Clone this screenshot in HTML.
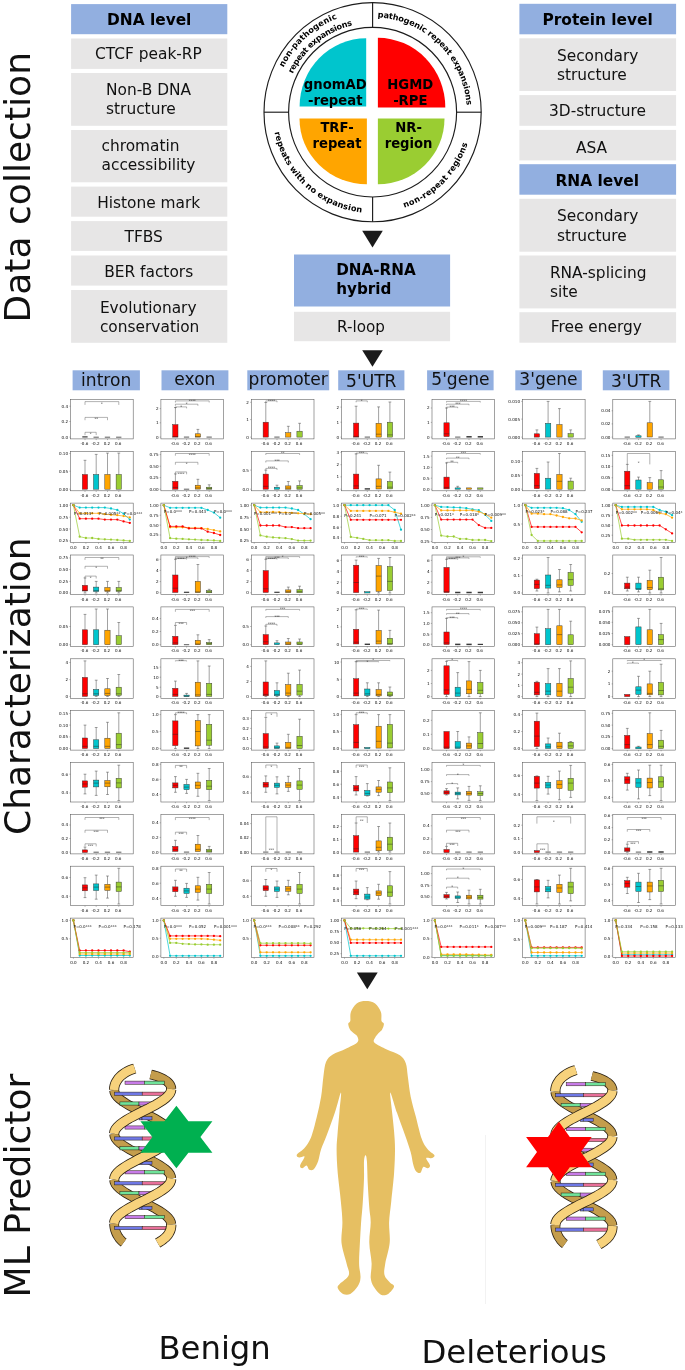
<!DOCTYPE html>
<html lang="en"><head><meta charset="utf-8"><title>Figure</title>
<style>
html,body{margin:0;padding:0;background:#fff;}
svg{display:block;font-family:"DejaVu Sans", "Liberation Sans", sans-serif;}
svg{fill:#111;}
</style></head><body>
<svg width="685" height="1370" viewBox="0 0 685 1370">
<rect width="685" height="1370" fill="#fff"/>
<text transform="translate(30.1,322.5) rotate(-90)" font-size="36.05">Data collection</text>
<text transform="translate(30.1,835.0) rotate(-90)" font-size="36.0">Characterization</text>
<text transform="translate(29.8,1297.5) rotate(-90)" font-size="36.1">ML Predictor</text>
<rect x="71.1" y="4.1" width="156.2" height="30.1" fill="#92afe0"/>
<text x="107.0" y="25.0" font-size="15.4" font-weight="bold" fill="#000" text-anchor="start">DNA level</text>
<rect x="71.1" y="38.5" width="156.2" height="30.4" fill="#e7e6e6"/>
<text x="95.0" y="58.6" font-size="15.4" text-anchor="start">CTCF peak-RP</text>
<rect x="71.1" y="73.0" width="156.2" height="52.8" fill="#e7e6e6"/>
<text x="106.0" y="95.0" font-size="15.4" text-anchor="start">Non-B DNA</text>
<text x="106.0" y="114.0" font-size="15.4" text-anchor="start">structure</text>
<rect x="71.1" y="130.0" width="156.2" height="52.3" fill="#e7e6e6"/>
<text x="101.5" y="150.5" font-size="15.4" text-anchor="start">chromatin</text>
<text x="101.5" y="169.6" font-size="15.4" text-anchor="start">accessibility</text>
<rect x="71.1" y="186.6" width="156.2" height="30.1" fill="#e7e6e6"/>
<text x="97.2" y="208.0" font-size="15.4" text-anchor="start">Histone mark</text>
<rect x="71.1" y="221.1" width="156.2" height="29.8" fill="#e7e6e6"/>
<text x="124.5" y="242.0" font-size="15.4" text-anchor="start">TFBS</text>
<rect x="71.1" y="255.5" width="156.2" height="30.1" fill="#e7e6e6"/>
<text x="104.2" y="276.5" font-size="15.4" text-anchor="start">BER factors</text>
<rect x="71.1" y="290.0" width="156.2" height="52.8" fill="#e7e6e6"/>
<text x="99.9" y="313.0" font-size="15.4" text-anchor="start">Evolutionary</text>
<text x="99.9" y="332.0" font-size="15.4" text-anchor="start">conservation</text>
<rect x="519.4" y="3.8" width="156.7" height="30.5" fill="#92afe0"/>
<text x="542.5" y="25.1" font-size="15.4" font-weight="bold" fill="#000" text-anchor="start">Protein level</text>
<rect x="519.4" y="38.3" width="156.7" height="52.7" fill="#e7e6e6"/>
<text x="556.9" y="60.7" font-size="15.4" text-anchor="start">Secondary</text>
<text x="556.9" y="79.9" font-size="15.4" text-anchor="start">structure</text>
<rect x="519.4" y="95.1" width="156.7" height="30.7" fill="#e7e6e6"/>
<text x="549.0" y="116.1" font-size="15.4" text-anchor="start">3D-structure</text>
<rect x="519.4" y="129.9" width="156.7" height="30.5" fill="#e7e6e6"/>
<text x="576.0" y="153.1" font-size="15.4" text-anchor="start">ASA</text>
<rect x="519.4" y="164.2" width="156.7" height="30.5" fill="#92afe0"/>
<text x="555.5" y="185.8" font-size="15.4" font-weight="bold" fill="#000" text-anchor="start">RNA level</text>
<rect x="519.4" y="198.8" width="156.7" height="52.9" fill="#e7e6e6"/>
<text x="556.9" y="221.3" font-size="15.4" text-anchor="start">Secondary</text>
<text x="556.9" y="240.7" font-size="15.4" text-anchor="start">structure</text>
<rect x="519.4" y="255.5" width="156.7" height="52.9" fill="#e7e6e6"/>
<text x="549.9" y="278.2" font-size="15.4" text-anchor="start">RNA-splicing</text>
<text x="549.9" y="297.3" font-size="15.4" text-anchor="start">site</text>
<rect x="519.4" y="312.2" width="156.7" height="30.5" fill="#e7e6e6"/>
<text x="550.8" y="331.6" font-size="15.4" text-anchor="start">Free energy</text>
<g fill="none" stroke="#1c1c1c" stroke-width="1.15">
<ellipse cx="372.6" cy="112.2" rx="108.6" ry="109.6"/>
<ellipse cx="372.6" cy="112.2" rx="84.0" ry="84.8"/>
<line x1="372.6" y1="2.6000000000000085" x2="372.6" y2="27.400000000000006"/>
<line x1="372.6" y1="221.8" x2="372.6" y2="197.0"/>
<line x1="264.0" y1="112.2" x2="288.6" y2="112.2"/>
<line x1="481.20000000000005" y1="112.2" x2="456.6" y2="112.2"/>
</g>
<path d="M366.2,106.6 L299.6,106.6 A66.6,68.4 0 0 1 366.2,38.2 Z" fill="#00c5cd"/>
<path d="M377.9,107.4 L445.3,107.4 A67.4,69.6 0 0 0 377.9,37.8 Z" fill="#ff0000"/>
<path d="M366.9,118.6 L299.5,118.6 A67.4,65.6 0 0 0 366.9,184.2 Z" fill="#ffa500"/>
<path d="M377.9,118.6 L444.5,118.6 A66.6,65.6 0 0 1 377.9,184.2 Z" fill="#9acd32"/>
<text x="335.2" y="89.3" font-size="13.2" font-weight="bold" fill="#000" text-anchor="middle">gnomAD</text>
<text x="335.2" y="104.8" font-size="13.2" font-weight="bold" fill="#000" text-anchor="middle">-repeat</text>
<text x="410.3" y="88.8" font-size="13.2" font-weight="bold" fill="#000" text-anchor="middle">HGMD</text>
<text x="410.3" y="104.6" font-size="13.2" font-weight="bold" fill="#000" text-anchor="middle">-RPE</text>
<text x="337.0" y="132.2" font-size="13.2" font-weight="bold" fill="#000" text-anchor="middle">TRF-</text>
<text x="337.0" y="147.9" font-size="13.2" font-weight="bold" fill="#000" text-anchor="middle">repeat</text>
<text x="408.6" y="132.2" font-size="13.2" font-weight="bold" fill="#000" text-anchor="middle">NR-</text>
<text x="408.6" y="147.9" font-size="13.2" font-weight="bold" fill="#000" text-anchor="middle">region</text>
<defs>
</defs>
<path id="rt1" d="M377.54,17.28 A94.3,95.1 0 0 1 466.67,105.57" fill="none"/>
<text font-size="8.2" font-weight="bold" fill="#000"><textPath href="#rt1" textLength="136.6" lengthAdjust="spacing">pathogenic repeat expansions</textPath></text>
<path id="rt2" d="M283.48,67.60 A99.5,100.3 0 0 1 337.43,18.38" fill="none"/>
<text font-size="8.2" font-weight="bold" fill="#000"><textPath href="#rt2" textLength="74.5" lengthAdjust="spacing">non-pathogenic</textPath></text>
<path id="rt3" d="M292.72,73.79 A88.5,89.2 0 0 1 352.54,25.31" fill="none"/>
<text font-size="8.2" font-weight="bold" fill="#000"><textPath href="#rt3" textLength="79.4" lengthAdjust="spacing">repeat expansions</textPath></text>
<path id="rt4" d="M274.61,132.30 A100.0,100.8 0 0 0 362.15,212.45" fill="none"/>
<text font-size="8.2" font-weight="bold" fill="#000"><textPath href="#rt4" textLength="126.5" lengthAdjust="spacing">repeats with no expansion</textPath></text>
<path id="rt5" d="M404.33,207.79 A100.0,100.8 0 0 0 467.71,143.35" fill="none"/>
<text font-size="8.2" font-weight="bold" fill="#000"><textPath href="#rt5" textLength="93.4" lengthAdjust="spacing">non-repeat regions</textPath></text>
<path d="M362.2,230.8 L382.8,230.8 L372.5,247.4 Z" fill="#1a1a1a"/>
<path d="M362.2,350.2 L382.8,350.2 L372.5,366.8 Z" fill="#1a1a1a"/>
<path d="M356.9,972.4 L377.7,972.4 L367.3,989.2 Z" fill="#1a1a1a"/>
<rect x="294.0" y="254.5" width="156.1" height="52.0" fill="#92afe0"/>
<text x="336.2" y="275.0" font-size="15.2" font-weight="bold" fill="#000" text-anchor="start">DNA-RNA</text>
<text x="336.2" y="294.2" font-size="15.2" font-weight="bold" fill="#000" text-anchor="start">hybrid</text>
<rect x="294.0" y="311.8" width="156.1" height="29.4" fill="#e7e6e6"/>
<text x="337.0" y="332.2" font-size="15.2" text-anchor="start">R-loop</text>
<rect x="72.6" y="370.3" width="67.3" height="20.0" fill="#92afe0"/>
<text x="106.2" y="386.3" font-size="17.1" text-anchor="middle">intron</text>
<rect x="161.5" y="370.3" width="66.9" height="20.0" fill="#92afe0"/>
<text x="194.9" y="384.6" font-size="17.1" text-anchor="middle">exon</text>
<rect x="247.3" y="370.3" width="81.9" height="20.0" fill="#92afe0"/>
<text x="288.2" y="384.5" font-size="17.1" text-anchor="middle">promoter</text>
<rect x="338.2" y="370.3" width="66.2" height="20.0" fill="#92afe0"/>
<text x="371.3" y="386.6" font-size="17.1" text-anchor="middle">5&#39;UTR</text>
<rect x="427.1" y="370.3" width="66.5" height="20.0" fill="#92afe0"/>
<text x="460.4" y="384.6" font-size="17.1" text-anchor="middle">5&#39;gene</text>
<rect x="515.3" y="370.3" width="66.5" height="20.0" fill="#92afe0"/>
<text x="548.5" y="384.6" font-size="17.1" text-anchor="middle">3&#39;gene</text>
<rect x="602.8" y="370.3" width="66.6" height="20.0" fill="#92afe0"/>
<text x="636.1" y="386.6" font-size="17.1" text-anchor="middle">3&#39;UTR</text>
<g>
<g stroke="#333" stroke-width="0.45"><path d="M82.3,436.9h5.3" stroke="#3a3a3a" stroke-width="1.2"/><path d="M93.5,437.2h5.3" stroke="#4a4a4a" stroke-width="0.9"/><path d="M104.8,437.2h5.3" stroke="#4a4a4a" stroke-width="0.9"/><path d="M116.1,437.2h5.3" stroke="#4a4a4a" stroke-width="0.9"/></g>
<path d="M85,404.9V401.6H118.8V404.9M85,420.2V417.4H107.5V420.2M85,435.1V432.3H96.2V435.1" stroke="#555" stroke-width="0.45" fill="none"/>
<g font-size="3.5" text-anchor="middle" fill="#1a1a1a"><text x="101.9" y="404.5">*</text><text x="96.2" y="420.3">**</text><text x="90.6" y="435.2">*</text></g>
<path d="M69.3,406.2H70.5M69.3,421.5H70.5M69.3,437.1H70.5M85,438.9v1.2M96.2,438.9v1.2M107.5,438.9v1.2M118.8,438.9v1.2" stroke="#555" stroke-width="0.4" fill="none"/>
<g font-size="4.1" text-anchor="middle" fill="#0a0a0a"><text x="68.1" y="407.7" text-anchor="end">0.4</text><text x="68.1" y="423" text-anchor="end">0.2</text><text x="68.1" y="438.5" text-anchor="end">0.0</text><text x="84.4" y="444.9">-0.6</text><text x="95.6" y="444.9">-0.2</text><text x="106.9" y="444.9">0.2</text><text x="118.2" y="444.9">0.6</text></g>
<rect x="70.5" y="399.4" width="62.7" height="39.5" fill="none" stroke="#555" stroke-width="0.55"/>
</g>
<g>
<path d="M85,474.5V460.3M83.6,460.3h2.8M96.2,474.5V454.4M94.8,454.4h2.8M107.5,474.5V453.1M106.1,453.1h2.8M118.8,474.5V453.1M117.4,453.1h2.8" stroke="#444" stroke-width="0.5" fill="none"/>
<g stroke="#333" stroke-width="0.45"><rect x="82.3" y="474.5" width="5.3" height="14.7" fill="#ff0000"/><rect x="93.5" y="474.5" width="5.3" height="14.7" fill="#00c5cd"/><rect x="104.8" y="474.5" width="5.3" height="14.7" fill="#ffa500"/><rect x="116.1" y="474.5" width="5.3" height="14.7" fill="#9acd32"/></g>
<path d="M69.3,453.5H70.5M69.3,471.2H70.5M69.3,489.2H70.5M85,490.8v1.2M96.2,490.8v1.2M107.5,490.8v1.2M118.8,490.8v1.2" stroke="#555" stroke-width="0.4" fill="none"/>
<g font-size="4.1" text-anchor="middle" fill="#0a0a0a"><text x="68.1" y="454.9" text-anchor="end">0.10</text><text x="68.1" y="472.7" text-anchor="end">0.05</text><text x="68.1" y="490.6" text-anchor="end">0.00</text><text x="84.4" y="496.8">-0.6</text><text x="95.6" y="496.8">-0.2</text><text x="106.9" y="496.8">0.2</text><text x="118.2" y="496.8">0.6</text></g>
<rect x="70.5" y="451.3" width="62.7" height="39.5" fill="none" stroke="#555" stroke-width="0.55"/>
</g>
<g>
<g fill="#00c5cd"><polyline points="73.4,505.2 79.7,507.6 85.9,507.6 92.2,507.6 98.5,507.6 104.8,507.6 111,508.5 117.3,510 123.6,513.7 129.8,519.6" fill="none" stroke="#00c5cd" stroke-width="0.7"/>
<circle cx="73.4" cy="505.2" r="1.15"/><circle cx="79.7" cy="507.6" r="1.15"/><circle cx="85.9" cy="507.6" r="1.15"/><circle cx="92.2" cy="507.6" r="1.15"/><circle cx="98.5" cy="507.6" r="1.15"/><circle cx="104.8" cy="507.6" r="1.15"/><circle cx="111" cy="508.5" r="1.15"/><circle cx="117.3" cy="510" r="1.15"/><circle cx="123.6" cy="513.7" r="1.15"/><circle cx="129.8" cy="519.6" r="1.15"/></g>
<g fill="#ffa500"><polyline points="73.4,505.2 79.7,513.3 85.9,513.3 92.2,513.3 98.5,513.3 104.8,514.2 111,514.8 117.3,515.2 123.6,516.1 129.8,517.4" fill="none" stroke="#ffa500" stroke-width="0.7"/>
<circle cx="73.4" cy="505.2" r="1.15"/><circle cx="79.7" cy="513.3" r="1.15"/><circle cx="85.9" cy="513.3" r="1.15"/><circle cx="92.2" cy="513.3" r="1.15"/><circle cx="98.5" cy="513.3" r="1.15"/><circle cx="104.8" cy="514.2" r="1.15"/><circle cx="111" cy="514.8" r="1.15"/><circle cx="117.3" cy="515.2" r="1.15"/><circle cx="123.6" cy="516.1" r="1.15"/><circle cx="129.8" cy="517.4" r="1.15"/></g>
<g fill="#ff0000"><polyline points="73.4,505.2 79.7,518.7 85.9,518.7 92.2,518.7 98.5,518.7 104.8,519.6 111,519.6 117.3,519.6 123.6,521.4 129.8,522.9" fill="none" stroke="#ff0000" stroke-width="0.7"/>
<circle cx="73.4" cy="505.2" r="1.15"/><circle cx="79.7" cy="518.7" r="1.15"/><circle cx="85.9" cy="518.7" r="1.15"/><circle cx="92.2" cy="518.7" r="1.15"/><circle cx="98.5" cy="518.7" r="1.15"/><circle cx="104.8" cy="519.6" r="1.15"/><circle cx="111" cy="519.6" r="1.15"/><circle cx="117.3" cy="519.6" r="1.15"/><circle cx="123.6" cy="521.4" r="1.15"/><circle cx="129.8" cy="522.9" r="1.15"/></g>
<g fill="#9acd32"><polyline points="73.4,505.2 79.7,536.7 85.9,538 92.2,538 98.5,538.9 104.8,539.3 111,539.6 117.3,540 123.6,540.4 129.8,540.9" fill="none" stroke="#9acd32" stroke-width="0.7"/>
<circle cx="73.4" cy="505.2" r="1.15"/><circle cx="79.7" cy="536.7" r="1.15"/><circle cx="85.9" cy="538" r="1.15"/><circle cx="92.2" cy="538" r="1.15"/><circle cx="98.5" cy="538.9" r="1.15"/><circle cx="104.8" cy="539.3" r="1.15"/><circle cx="111" cy="539.6" r="1.15"/><circle cx="117.3" cy="540" r="1.15"/><circle cx="123.6" cy="540.4" r="1.15"/><circle cx="129.8" cy="540.9" r="1.15"/></g>
<g font-size="4" fill="#111"><text x="74" y="514.7">P=0.013*</text><text x="99" y="514.7">P=0.005**</text><text x="124" y="514.7">P=0.0***</text></g>
<path d="M69.3,505.2H70.5M69.3,517.2H70.5M69.3,529H70.5M69.3,540.9H70.5M73.4,542.6v1.2M85.9,542.6v1.2M98.5,542.6v1.2M111,542.6v1.2M123.6,542.6v1.2" stroke="#555" stroke-width="0.4" fill="none"/>
<g font-size="4.1" text-anchor="middle" fill="#0a0a0a"><text x="68.1" y="506.6" text-anchor="end">1.00</text><text x="68.1" y="518.7" text-anchor="end">0.75</text><text x="68.1" y="530.5" text-anchor="end">0.50</text><text x="68.1" y="542.3" text-anchor="end">0.25</text><text x="73.4" y="548.6">0.0</text><text x="85.9" y="548.6">0.2</text><text x="98.5" y="548.6">0.4</text><text x="111" y="548.6">0.6</text><text x="123.6" y="548.6">0.8</text></g>
<rect x="70.5" y="503.1" width="62.7" height="39.5" fill="none" stroke="#555" stroke-width="0.55"/>
</g>
<g>
<path d="M85,585.3V577.9M83.6,577.9h2.8M85,591V593M83.6,593h2.8M96.2,587.1V581.4M94.8,581.4h2.8M96.2,591.4V593M94.8,593h2.8M107.5,587.5V581.4M106.1,581.4h2.8M107.5,591.4V593M106.1,593h2.8M118.8,587.5V581.4M117.4,581.4h2.8M118.8,591.4V593M117.4,593h2.8" stroke="#444" stroke-width="0.5" fill="none"/>
<g stroke="#333" stroke-width="0.45"><rect x="82.3" y="585.3" width="5.3" height="5.7" fill="#ff0000"/><path d="M82.3,590.4h5.3" stroke="#222" stroke-opacity="0.75" stroke-width="0.6"/><rect x="93.5" y="587.1" width="5.3" height="4.4" fill="#00c5cd"/><path d="M93.5,590.6h5.3" stroke="#222" stroke-opacity="0.75" stroke-width="0.6"/><rect x="104.8" y="587.5" width="5.3" height="3.9" fill="#ffa500"/><path d="M104.8,590.6h5.3" stroke="#222" stroke-opacity="0.75" stroke-width="0.6"/><rect x="116.1" y="587.5" width="5.3" height="3.9" fill="#9acd32"/><path d="M116.1,590.6h5.3" stroke="#222" stroke-opacity="0.75" stroke-width="0.6"/></g>
<path d="M85,559.9V557.5H118.8V559.9M85,568.7V566.3H107.5V568.7M85,578.5V576.1H96.2V578.5" stroke="#555" stroke-width="0.45" fill="none"/>
<g font-size="3.5" text-anchor="middle" fill="#1a1a1a"><text x="101.9" y="560.4">**</text><text x="96.2" y="569.2">*</text><text x="90.6" y="579">*</text></g>
<path d="M69.3,557.9H70.5M69.3,569.5H70.5M69.3,581.4H70.5M69.3,593H70.5M85,594.5v1.2M96.2,594.5v1.2M107.5,594.5v1.2M118.8,594.5v1.2" stroke="#555" stroke-width="0.4" fill="none"/>
<g font-size="4.1" text-anchor="middle" fill="#0a0a0a"><text x="68.1" y="559.4" text-anchor="end">0.75</text><text x="68.1" y="571" text-anchor="end">0.50</text><text x="68.1" y="582.8" text-anchor="end">0.25</text><text x="68.1" y="594.4" text-anchor="end">0.00</text><text x="84.4" y="600.5">-0.6</text><text x="95.6" y="600.5">-0.2</text><text x="106.9" y="600.5">0.2</text><text x="118.2" y="600.5">0.6</text></g>
<rect x="70.5" y="555" width="62.7" height="39.5" fill="none" stroke="#555" stroke-width="0.55"/>
</g>
<g>
<path d="M85,629.8V614.4M83.6,614.4h2.8M96.2,629.8V609M94.8,609h2.8M107.5,630.2V609M106.1,609h2.8M118.8,635.7V622.5M117.4,622.5h2.8" stroke="#444" stroke-width="0.5" fill="none"/>
<g stroke="#333" stroke-width="0.45"><rect x="82.3" y="629.8" width="5.3" height="14.9" fill="#ff0000"/><rect x="93.5" y="629.8" width="5.3" height="14.9" fill="#00c5cd"/><rect x="104.8" y="630.2" width="5.3" height="14.5" fill="#ffa500"/><rect x="116.1" y="635.7" width="5.3" height="9" fill="#9acd32"/></g>
<path d="M69.3,626.5H70.5M69.3,644.7H70.5M85,646.4v1.2M96.2,646.4v1.2M107.5,646.4v1.2M118.8,646.4v1.2" stroke="#555" stroke-width="0.4" fill="none"/>
<g font-size="4.1" text-anchor="middle" fill="#0a0a0a"><text x="68.1" y="627.9" text-anchor="end">0.05</text><text x="68.1" y="646.1" text-anchor="end">0.00</text><text x="84.4" y="652.4">-0.6</text><text x="95.6" y="652.4">-0.2</text><text x="106.9" y="652.4">0.2</text><text x="118.2" y="652.4">0.6</text></g>
<rect x="70.5" y="606.9" width="62.7" height="39.5" fill="none" stroke="#555" stroke-width="0.55"/>
</g>
<g>
<path d="M85,677.4V660.9M83.6,660.9h2.8M96.2,689.4V680.2M94.8,680.2h2.8M96.2,695.5V696.4M94.8,696.4h2.8M107.5,688.8V678.5M106.1,678.5h2.8M107.5,695.5V696.4M106.1,696.4h2.8M118.8,687.2V674.5M117.4,674.5h2.8M118.8,695.3V696.4M117.4,696.4h2.8" stroke="#444" stroke-width="0.5" fill="none"/>
<g stroke="#333" stroke-width="0.45"><rect x="82.3" y="677.4" width="5.3" height="19" fill="#ff0000"/><path d="M82.3,693.8h5.3" stroke="#222" stroke-opacity="0.75" stroke-width="0.6"/><rect x="93.5" y="689.4" width="5.3" height="6.1" fill="#00c5cd"/><path d="M93.5,693.8h5.3" stroke="#222" stroke-opacity="0.75" stroke-width="0.6"/><rect x="104.8" y="688.8" width="5.3" height="6.8" fill="#ffa500"/><path d="M104.8,693.4h5.3" stroke="#222" stroke-opacity="0.75" stroke-width="0.6"/><rect x="116.1" y="687.2" width="5.3" height="8.1" fill="#9acd32"/><path d="M116.1,693.8h5.3" stroke="#222" stroke-opacity="0.75" stroke-width="0.6"/></g>
<path d="M69.3,662.5H70.5M69.3,679.6H70.5M69.3,696.4H70.5M85,698.2v1.2M96.2,698.2v1.2M107.5,698.2v1.2M118.8,698.2v1.2" stroke="#555" stroke-width="0.4" fill="none"/>
<g font-size="4.1" text-anchor="middle" fill="#0a0a0a"><text x="68.1" y="663.9" text-anchor="end">4</text><text x="68.1" y="681" text-anchor="end">2</text><text x="68.1" y="697.9" text-anchor="end">0</text><text x="84.4" y="704.2">-0.6</text><text x="95.6" y="704.2">-0.2</text><text x="106.9" y="704.2">0.2</text><text x="118.2" y="704.2">0.6</text></g>
<rect x="70.5" y="658.8" width="62.7" height="39.5" fill="none" stroke="#555" stroke-width="0.55"/>
</g>
<g>
<path d="M85,738V725.1M83.6,725.1h2.8M96.2,739.8V727.5M94.8,727.5h2.8M107.5,738.2V722.3M106.1,722.3h2.8M118.8,733.2V712.8M117.4,712.8h2.8" stroke="#444" stroke-width="0.5" fill="none"/>
<g stroke="#333" stroke-width="0.45"><rect x="82.3" y="738" width="5.3" height="10.5" fill="#ff0000"/><path d="M82.3,746.3h5.3" stroke="#222" stroke-opacity="0.75" stroke-width="0.6"/><rect x="93.5" y="739.8" width="5.3" height="8.8" fill="#00c5cd"/><path d="M93.5,746.3h5.3" stroke="#222" stroke-opacity="0.75" stroke-width="0.6"/><rect x="104.8" y="738.2" width="5.3" height="10.3" fill="#ffa500"/><path d="M104.8,746.3h5.3" stroke="#222" stroke-opacity="0.75" stroke-width="0.6"/><rect x="116.1" y="733.2" width="5.3" height="15.3" fill="#9acd32"/><path d="M116.1,744.6h5.3" stroke="#222" stroke-opacity="0.75" stroke-width="0.6"/></g>
<path d="M69.3,713.5H70.5M69.3,725.1H70.5M69.3,736.9H70.5M69.3,748.5H70.5M85,750.1v1.2M96.2,750.1v1.2M107.5,750.1v1.2M118.8,750.1v1.2" stroke="#555" stroke-width="0.4" fill="none"/>
<g font-size="4.1" text-anchor="middle" fill="#0a0a0a"><text x="68.1" y="714.9" text-anchor="end">0.15</text><text x="68.1" y="726.6" text-anchor="end">0.10</text><text x="68.1" y="738.4" text-anchor="end">0.05</text><text x="68.1" y="750" text-anchor="end">0.00</text><text x="84.4" y="756.1">-0.6</text><text x="95.6" y="756.1">-0.2</text><text x="106.9" y="756.1">0.2</text><text x="118.2" y="756.1">0.6</text></g>
<rect x="70.5" y="710.6" width="62.7" height="39.5" fill="none" stroke="#555" stroke-width="0.55"/>
</g>
<g>
<path d="M85,780.9V774.2M83.6,774.2h2.8M85,787.3V793.9M83.6,793.9h2.8M96.2,780.1V771.1M94.8,771.1h2.8M96.2,786.9V795.4M94.8,795.4h2.8M107.5,780.5V772.2M106.1,772.2h2.8M107.5,786.9V794.5M106.1,794.5h2.8M118.8,778.3V765.2M117.4,765.2h2.8M118.8,787.9V800.6M117.4,800.6h2.8" stroke="#444" stroke-width="0.5" fill="none"/>
<g stroke="#333" stroke-width="0.45"><rect x="82.3" y="780.9" width="5.3" height="6.3" fill="#ff0000"/><path d="M82.3,784h5.3" stroke="#222" stroke-opacity="0.75" stroke-width="0.6"/><rect x="93.5" y="780.1" width="5.3" height="6.8" fill="#00c5cd"/><path d="M93.5,783.1h5.3" stroke="#222" stroke-opacity="0.75" stroke-width="0.6"/><rect x="104.8" y="780.5" width="5.3" height="6.3" fill="#ffa500"/><path d="M104.8,783.1h5.3" stroke="#222" stroke-opacity="0.75" stroke-width="0.6"/><rect x="116.1" y="778.3" width="5.3" height="9.6" fill="#9acd32"/><path d="M116.1,782.9h5.3" stroke="#222" stroke-opacity="0.75" stroke-width="0.6"/></g>
<path d="M69.3,774.2H70.5M69.3,793H70.5M85,802v1.2M96.2,802v1.2M107.5,802v1.2M118.8,802v1.2" stroke="#555" stroke-width="0.4" fill="none"/>
<g font-size="4.1" text-anchor="middle" fill="#0a0a0a"><text x="68.1" y="775.6" text-anchor="end">0.6</text><text x="68.1" y="794.4" text-anchor="end">0.4</text><text x="84.4" y="808">-0.6</text><text x="95.6" y="808">-0.2</text><text x="106.9" y="808">0.2</text><text x="118.2" y="808">0.6</text></g>
<rect x="70.5" y="762.5" width="62.7" height="39.5" fill="none" stroke="#555" stroke-width="0.55"/>
</g>
<g>
<path d="M85,849.9V847.1M83.6,847.1h2.8" stroke="#444" stroke-width="0.5" fill="none"/>
<g stroke="#333" stroke-width="0.45"><rect x="82.3" y="849.9" width="5.3" height="2.6" fill="#ff0000"/><path d="M93.5,852.2h5.3" stroke="#4a4a4a" stroke-width="0.9"/><path d="M104.8,852.2h5.3" stroke="#4a4a4a" stroke-width="0.9"/><path d="M116.1,852.2h5.3" stroke="#4a4a4a" stroke-width="0.9"/></g>
<path d="M85,819.9V817.5H118.8V819.9M85,832.8V830.2H107.5V832.8M85,846.4V843.8H96.2V846.4" stroke="#555" stroke-width="0.45" fill="none"/>
<g font-size="3.5" text-anchor="middle" fill="#1a1a1a"><text x="101.9" y="820.4">***</text><text x="96.2" y="833.1">***</text><text x="90.6" y="846.7">***</text></g>
<path d="M69.3,825H70.5M69.3,838.5H70.5M69.3,852.1H70.5M85,853.9v1.2M96.2,853.9v1.2M107.5,853.9v1.2M118.8,853.9v1.2" stroke="#555" stroke-width="0.4" fill="none"/>
<g font-size="4.1" text-anchor="middle" fill="#0a0a0a"><text x="68.1" y="826.4" text-anchor="end">0.4</text><text x="68.1" y="840" text-anchor="end">0.2</text><text x="68.1" y="853.6" text-anchor="end">0.0</text><text x="84.4" y="859.9">-0.6</text><text x="95.6" y="859.9">-0.2</text><text x="106.9" y="859.9">0.2</text><text x="118.2" y="859.9">0.6</text></g>
<rect x="70.5" y="814.4" width="62.7" height="39.5" fill="none" stroke="#555" stroke-width="0.55"/>
</g>
<g>
<path d="M85,884.9V877.7M83.6,877.7h2.8M85,890.9V897.6M83.6,897.6h2.8M96.2,883.9V875.1M94.8,875.1h2.8M96.2,890.4V899.2M94.8,899.2h2.8M107.5,884.3V876M106.1,876h2.8M107.5,890.4V898.1M106.1,898.1h2.8M118.8,882.1V868.3M117.4,868.3h2.8M118.8,891.5V904M117.4,904h2.8" stroke="#444" stroke-width="0.5" fill="none"/>
<g stroke="#333" stroke-width="0.45"><rect x="82.3" y="884.9" width="5.3" height="5.9" fill="#ff0000"/><path d="M82.3,887.8h5.3" stroke="#222" stroke-opacity="0.75" stroke-width="0.6"/><rect x="93.5" y="883.9" width="5.3" height="6.6" fill="#00c5cd"/><path d="M93.5,887.1h5.3" stroke="#222" stroke-opacity="0.75" stroke-width="0.6"/><rect x="104.8" y="884.3" width="5.3" height="6.1" fill="#ffa500"/><path d="M104.8,887.1h5.3" stroke="#222" stroke-opacity="0.75" stroke-width="0.6"/><rect x="116.1" y="882.1" width="5.3" height="9.4" fill="#9acd32"/><path d="M116.1,886.9h5.3" stroke="#222" stroke-opacity="0.75" stroke-width="0.6"/></g>
<path d="M69.3,877.5H70.5M69.3,896.3H70.5M85,905.7v1.2M96.2,905.7v1.2M107.5,905.7v1.2M118.8,905.7v1.2" stroke="#555" stroke-width="0.4" fill="none"/>
<g font-size="4.1" text-anchor="middle" fill="#0a0a0a"><text x="68.1" y="879" text-anchor="end">0.6</text><text x="68.1" y="897.8" text-anchor="end">0.4</text><text x="84.4" y="911.7">-0.6</text><text x="95.6" y="911.7">-0.2</text><text x="106.9" y="911.7">0.2</text><text x="118.2" y="911.7">0.6</text></g>
<rect x="70.5" y="866.2" width="62.7" height="39.5" fill="none" stroke="#555" stroke-width="0.55"/>
</g>
<g>
<g fill="#00c5cd"><polyline points="73.4,920.4 79.7,955.5 85.9,955.5 92.2,955.5 98.5,955.5 104.8,955.5 111,955.5 117.3,955.5 123.6,955.5 129.8,955.5" fill="none" stroke="#00c5cd" stroke-width="0.7"/>
<circle cx="73.4" cy="920.4" r="1.15"/><circle cx="79.7" cy="955.5" r="1.15"/><circle cx="85.9" cy="955.5" r="1.15"/><circle cx="92.2" cy="955.5" r="1.15"/><circle cx="98.5" cy="955.5" r="1.15"/><circle cx="104.8" cy="955.5" r="1.15"/><circle cx="111" cy="955.5" r="1.15"/><circle cx="117.3" cy="955.5" r="1.15"/><circle cx="123.6" cy="955.5" r="1.15"/><circle cx="129.8" cy="955.5" r="1.15"/></g>
<g fill="#ffa500"><polyline points="73.4,920.4 79.7,954 85.9,954 92.2,954 98.5,954 104.8,954 111,954 117.3,954 123.6,954 129.8,954" fill="none" stroke="#ffa500" stroke-width="0.7"/>
<circle cx="73.4" cy="920.4" r="1.15"/><circle cx="79.7" cy="954" r="1.15"/><circle cx="85.9" cy="954" r="1.15"/><circle cx="92.2" cy="954" r="1.15"/><circle cx="98.5" cy="954" r="1.15"/><circle cx="104.8" cy="954" r="1.15"/><circle cx="111" cy="954" r="1.15"/><circle cx="117.3" cy="954" r="1.15"/><circle cx="123.6" cy="954" r="1.15"/><circle cx="129.8" cy="954" r="1.15"/></g>
<g fill="#ff0000"><polyline points="73.4,920.4 79.7,950.5 85.9,950.5 92.2,950.5 98.5,950.5 104.8,950.5 111,950.5 117.3,950.5 123.6,950.5 129.8,951.7" fill="none" stroke="#ff0000" stroke-width="0.7"/>
<circle cx="73.4" cy="920.4" r="1.15"/><circle cx="79.7" cy="950.5" r="1.15"/><circle cx="85.9" cy="950.5" r="1.15"/><circle cx="92.2" cy="950.5" r="1.15"/><circle cx="98.5" cy="950.5" r="1.15"/><circle cx="104.8" cy="950.5" r="1.15"/><circle cx="111" cy="950.5" r="1.15"/><circle cx="117.3" cy="950.5" r="1.15"/><circle cx="123.6" cy="950.5" r="1.15"/><circle cx="129.8" cy="951.7" r="1.15"/></g>
<g fill="#9acd32"><polyline points="73.4,920.4 79.7,952.6 85.9,952.6 92.2,952.6 98.5,952.6 104.8,952.6 111,952.6 117.3,952.6 123.6,952.6 129.8,952.6" fill="none" stroke="#9acd32" stroke-width="0.7"/>
<circle cx="73.4" cy="920.4" r="1.15"/><circle cx="79.7" cy="952.6" r="1.15"/><circle cx="85.9" cy="952.6" r="1.15"/><circle cx="92.2" cy="952.6" r="1.15"/><circle cx="98.5" cy="952.6" r="1.15"/><circle cx="104.8" cy="952.6" r="1.15"/><circle cx="111" cy="952.6" r="1.15"/><circle cx="117.3" cy="952.6" r="1.15"/><circle cx="123.6" cy="952.6" r="1.15"/><circle cx="129.8" cy="952.6" r="1.15"/></g>
<g font-size="4" fill="#111"><text x="73.5" y="928.2">P=0.0***</text><text x="98.5" y="928.2">P=0.0***</text><text x="123.5" y="928.2">P=0.178</text></g>
<path d="M69.3,920.4H70.5M69.3,938.8H70.5M73.4,957.6v1.2M85.9,957.6v1.2M98.5,957.6v1.2M111,957.6v1.2M123.6,957.6v1.2" stroke="#555" stroke-width="0.4" fill="none"/>
<g font-size="4.1" text-anchor="middle" fill="#0a0a0a"><text x="68.1" y="921.9" text-anchor="end">1.0</text><text x="68.1" y="940.3" text-anchor="end">0.5</text><text x="73.4" y="963.6">0.0</text><text x="85.9" y="963.6">0.2</text><text x="98.5" y="963.6">0.4</text><text x="111" y="963.6">0.6</text><text x="123.6" y="963.6">0.8</text></g>
<rect x="70.5" y="918.1" width="62.7" height="39.5" fill="none" stroke="#555" stroke-width="0.55"/>
</g>
<g>
<path d="M175.4,424.6V407.5M174,407.5h2.8M197.9,433.8V429.4M196.5,429.4h2.8" stroke="#444" stroke-width="0.5" fill="none"/>
<g stroke="#333" stroke-width="0.45"><rect x="172.7" y="424.6" width="5.3" height="12.5" fill="#ff0000"/><path d="M172.7,436.6h5.3" stroke="#222" stroke-opacity="0.75" stroke-width="0.6"/><path d="M183.9,437.1h5.3" stroke="#4a4a4a" stroke-width="0.9"/><rect x="195.2" y="433.8" width="5.3" height="3.3" fill="#ffa500"/><path d="M195.2,436.6h5.3" stroke="#222" stroke-opacity="0.75" stroke-width="0.6"/><path d="M206.5,437.1h5.3" stroke="#4a4a4a" stroke-width="0.9"/></g>
<path d="M175.4,402.5V400.9H209.2V402.5M175.4,405.8V404.2H197.9V405.8M175.4,408.4V406.9H186.6V408.4" stroke="#555" stroke-width="0.45" fill="none"/>
<g font-size="3.5" text-anchor="middle" fill="#1a1a1a"><text x="192.3" y="401.8">****</text><text x="186.6" y="405.1">*</text><text x="181" y="407.8">*</text></g>
<path d="M159.7,408.6H160.9M159.7,422.8H160.9M159.7,437.1H160.9M175.4,438.9v1.2M186.6,438.9v1.2M197.9,438.9v1.2M209.2,438.9v1.2" stroke="#555" stroke-width="0.4" fill="none"/>
<g font-size="4.1" text-anchor="middle" fill="#0a0a0a"><text x="158.5" y="410.1" text-anchor="end">2</text><text x="158.5" y="424.3" text-anchor="end">1</text><text x="158.5" y="438.5" text-anchor="end">0</text><text x="174.8" y="444.9">-0.6</text><text x="186" y="444.9">-0.2</text><text x="197.3" y="444.9">0.2</text><text x="208.6" y="444.9">0.6</text></g>
<rect x="160.9" y="399.4" width="62.7" height="39.5" fill="none" stroke="#555" stroke-width="0.55"/>
</g>
<g>
<path d="M175.4,481.3V473.9M174,473.9h2.8M197.9,485.2V479.3M196.5,479.3h2.8M209.2,487.2V484.8M207.8,484.8h2.8" stroke="#444" stroke-width="0.5" fill="none"/>
<g stroke="#333" stroke-width="0.45"><rect x="172.7" y="481.3" width="5.3" height="7.9" fill="#ff0000"/><path d="M172.7,487.4h5.3" stroke="#222" stroke-opacity="0.75" stroke-width="0.6"/><path d="M183.9,489.2h5.3" stroke="#4a4a4a" stroke-width="0.9"/><rect x="195.2" y="485.2" width="5.3" height="3.9" fill="#ffa500"/><path d="M195.2,487.9h5.3" stroke="#222" stroke-opacity="0.75" stroke-width="0.6"/><rect x="206.5" y="487.2" width="5.3" height="2" fill="#9acd32"/><path d="M206.5,488.5h5.3" stroke="#222" stroke-opacity="0.75" stroke-width="0.6"/></g>
<path d="M175.4,455.7V453.5H209.2V455.7M175.4,464.7V462.3H197.9V464.7M175.4,474.3V471.9H186.6V474.3" stroke="#555" stroke-width="0.45" fill="none"/>
<g font-size="3.5" text-anchor="middle" fill="#1a1a1a"><text x="192.3" y="456.4">****</text><text x="186.6" y="465.2">*</text><text x="181" y="474.8">****</text></g>
<path d="M159.7,454.6H160.9M159.7,466.2H160.9M159.7,477.6H160.9M159.7,489.2H160.9M175.4,490.8v1.2M186.6,490.8v1.2M197.9,490.8v1.2M209.2,490.8v1.2" stroke="#555" stroke-width="0.4" fill="none"/>
<g font-size="4.1" text-anchor="middle" fill="#0a0a0a"><text x="158.5" y="456" text-anchor="end">0.75</text><text x="158.5" y="467.6" text-anchor="end">0.50</text><text x="158.5" y="479" text-anchor="end">0.25</text><text x="158.5" y="490.6" text-anchor="end">0.00</text><text x="174.8" y="496.8">-0.6</text><text x="186" y="496.8">-0.2</text><text x="197.3" y="496.8">0.2</text><text x="208.6" y="496.8">0.6</text></g>
<rect x="160.9" y="451.3" width="62.7" height="39.5" fill="none" stroke="#555" stroke-width="0.55"/>
</g>
<g>
<g fill="#00c5cd"><polyline points="163.8,505.2 170.1,507.8 176.3,507.8 182.6,507.8 188.9,507.8 195.1,507.8 201.4,507.8 207.7,510 213.9,512.6 220.2,517.7" fill="none" stroke="#00c5cd" stroke-width="0.7"/>
<circle cx="163.8" cy="505.2" r="1.15"/><circle cx="170.1" cy="507.8" r="1.15"/><circle cx="176.3" cy="507.8" r="1.15"/><circle cx="182.6" cy="507.8" r="1.15"/><circle cx="188.9" cy="507.8" r="1.15"/><circle cx="195.1" cy="507.8" r="1.15"/><circle cx="201.4" cy="507.8" r="1.15"/><circle cx="207.7" cy="510" r="1.15"/><circle cx="213.9" cy="512.6" r="1.15"/><circle cx="220.2" cy="517.7" r="1.15"/></g>
<g fill="#ffa500"><polyline points="163.8,505.2 170.1,527.3 176.3,527.3 182.6,527.3 188.9,527.9 195.1,527.9 201.4,528.2 207.7,529 213.9,530.1 220.2,531.4" fill="none" stroke="#ffa500" stroke-width="0.7"/>
<circle cx="163.8" cy="505.2" r="1.15"/><circle cx="170.1" cy="527.3" r="1.15"/><circle cx="176.3" cy="527.3" r="1.15"/><circle cx="182.6" cy="527.3" r="1.15"/><circle cx="188.9" cy="527.9" r="1.15"/><circle cx="195.1" cy="527.9" r="1.15"/><circle cx="201.4" cy="528.2" r="1.15"/><circle cx="207.7" cy="529" r="1.15"/><circle cx="213.9" cy="530.1" r="1.15"/><circle cx="220.2" cy="531.4" r="1.15"/></g>
<g fill="#ff0000"><polyline points="163.8,505.2 170.1,526.4 176.3,526.4 182.6,526.4 188.9,528.4 195.1,528.4 201.4,528.4 207.7,531.7 213.9,533 220.2,535" fill="none" stroke="#ff0000" stroke-width="0.7"/>
<circle cx="163.8" cy="505.2" r="1.15"/><circle cx="170.1" cy="526.4" r="1.15"/><circle cx="176.3" cy="526.4" r="1.15"/><circle cx="182.6" cy="526.4" r="1.15"/><circle cx="188.9" cy="528.4" r="1.15"/><circle cx="195.1" cy="528.4" r="1.15"/><circle cx="201.4" cy="528.4" r="1.15"/><circle cx="207.7" cy="531.7" r="1.15"/><circle cx="213.9" cy="533" r="1.15"/><circle cx="220.2" cy="535" r="1.15"/></g>
<g fill="#9acd32"><polyline points="163.8,505.2 170.1,538.2 176.3,538.7 182.6,538.9 188.9,539.3 195.1,539.6 201.4,540 207.7,540.2 213.9,540.4 220.2,540.9" fill="none" stroke="#9acd32" stroke-width="0.7"/>
<circle cx="163.8" cy="505.2" r="1.15"/><circle cx="170.1" cy="538.2" r="1.15"/><circle cx="176.3" cy="538.7" r="1.15"/><circle cx="182.6" cy="538.9" r="1.15"/><circle cx="188.9" cy="539.3" r="1.15"/><circle cx="195.1" cy="539.6" r="1.15"/><circle cx="201.4" cy="540" r="1.15"/><circle cx="207.7" cy="540.2" r="1.15"/><circle cx="213.9" cy="540.4" r="1.15"/><circle cx="220.2" cy="540.9" r="1.15"/></g>
<g font-size="4" fill="#111"><text x="163.9" y="513">P=0.0***</text><text x="188.9" y="513">P=0.443</text><text x="213.9" y="513">P=0.0***</text></g>
<path d="M159.7,505.2H160.9M159.7,515.2H160.9M159.7,525.1H160.9M159.7,535H160.9M163.8,542.6v1.2M176.3,542.6v1.2M188.9,542.6v1.2M201.4,542.6v1.2M213.9,542.6v1.2" stroke="#555" stroke-width="0.4" fill="none"/>
<g font-size="4.1" text-anchor="middle" fill="#0a0a0a"><text x="158.5" y="506.6" text-anchor="end">1.00</text><text x="158.5" y="516.7" text-anchor="end">0.75</text><text x="158.5" y="526.5" text-anchor="end">0.50</text><text x="158.5" y="536.4" text-anchor="end">0.25</text><text x="163.8" y="548.6">0.0</text><text x="176.3" y="548.6">0.2</text><text x="188.9" y="548.6">0.4</text><text x="201.4" y="548.6">0.6</text><text x="213.9" y="548.6">0.8</text></g>
<rect x="160.9" y="503.1" width="62.7" height="39.5" fill="none" stroke="#555" stroke-width="0.55"/>
</g>
<g>
<path d="M175.4,575V559.3M174,559.3h2.8M197.9,581.4V564.5M196.5,564.5h2.8M209.2,590.6V589.3M207.8,589.3h2.8" stroke="#444" stroke-width="0.5" fill="none"/>
<g stroke="#333" stroke-width="0.45"><rect x="172.7" y="575" width="5.3" height="17.5" fill="#ff0000"/><path d="M172.7,588.2h5.3" stroke="#222" stroke-opacity="0.75" stroke-width="0.6"/><path d="M183.9,592.3h5.3" stroke="#3a3a3a" stroke-width="1.2"/><rect x="195.2" y="581.4" width="5.3" height="11.2" fill="#ffa500"/><path d="M195.2,591.9h5.3" stroke="#222" stroke-opacity="0.75" stroke-width="0.6"/><rect x="206.5" y="590.6" width="5.3" height="2.2" fill="#9acd32"/><path d="M206.5,591.9h5.3" stroke="#222" stroke-opacity="0.75" stroke-width="0.6"/></g>
<path d="M175.4,557.9V556.6H209.2V557.9M175.4,559V557.9H197.9V559M175.4,559.5V558.6H186.6V559.5" stroke="#555" stroke-width="0.45" fill="none"/>
<g font-size="3.5" text-anchor="middle" fill="#1a1a1a"><text x="192.3" y="557.5">****</text><text x="186.6" y="558.8">*</text><text x="181" y="559.5">****</text></g>
<path d="M159.7,559.3H160.9M159.7,570.4H160.9M159.7,581.6H160.9M159.7,592.8H160.9M175.4,594.5v1.2M186.6,594.5v1.2M197.9,594.5v1.2M209.2,594.5v1.2" stroke="#555" stroke-width="0.4" fill="none"/>
<g font-size="4.1" text-anchor="middle" fill="#0a0a0a"><text x="158.5" y="560.7" text-anchor="end">6</text><text x="158.5" y="571.9" text-anchor="end">4</text><text x="158.5" y="583" text-anchor="end">2</text><text x="158.5" y="594.2" text-anchor="end">0</text><text x="174.8" y="600.5">-0.6</text><text x="186" y="600.5">-0.2</text><text x="197.3" y="600.5">0.2</text><text x="208.6" y="600.5">0.6</text></g>
<rect x="160.9" y="555" width="62.7" height="39.5" fill="none" stroke="#555" stroke-width="0.55"/>
</g>
<g>
<path d="M175.4,636.3V625.4M174,625.4h2.8M197.9,640.3V634.8M196.5,634.8h2.8M209.2,642.5V639.6M207.8,639.6h2.8" stroke="#444" stroke-width="0.5" fill="none"/>
<g stroke="#333" stroke-width="0.45"><rect x="172.7" y="636.3" width="5.3" height="8.3" fill="#ff0000"/><path d="M172.7,642.9h5.3" stroke="#222" stroke-opacity="0.75" stroke-width="0.6"/><path d="M183.9,644.7h5.3" stroke="#4a4a4a" stroke-width="0.9"/><rect x="195.2" y="640.3" width="5.3" height="4.4" fill="#ffa500"/><path d="M195.2,644h5.3" stroke="#222" stroke-opacity="0.75" stroke-width="0.6"/><rect x="206.5" y="642.5" width="5.3" height="2.2" fill="#9acd32"/><path d="M206.5,643.6h5.3" stroke="#222" stroke-opacity="0.75" stroke-width="0.6"/></g>
<path d="M175.4,611.8V609.4H209.2V611.8M175.4,624.9V622.5H186.6V624.9" stroke="#555" stroke-width="0.45" fill="none"/>
<g font-size="3.5" text-anchor="middle" fill="#1a1a1a"><text x="192.3" y="612.3">***</text><text x="181" y="625.4">***</text></g>
<path d="M159.7,618.6H160.9M159.7,631.5H160.9M159.7,644.7H160.9M175.4,646.4v1.2M186.6,646.4v1.2M197.9,646.4v1.2M209.2,646.4v1.2" stroke="#555" stroke-width="0.4" fill="none"/>
<g font-size="4.1" text-anchor="middle" fill="#0a0a0a"><text x="158.5" y="620" text-anchor="end">0.4</text><text x="158.5" y="633" text-anchor="end">0.2</text><text x="158.5" y="646.1" text-anchor="end">0.0</text><text x="174.8" y="652.4">-0.6</text><text x="186" y="652.4">-0.2</text><text x="197.3" y="652.4">0.2</text><text x="208.6" y="652.4">0.6</text></g>
<rect x="160.9" y="606.9" width="62.7" height="39.5" fill="none" stroke="#555" stroke-width="0.55"/>
</g>
<g>
<path d="M175.4,688.3V681.1M174,681.1h2.8M186.6,695.1V693.4M185.2,693.4h2.8M197.9,682.2V660.9M196.5,660.9h2.8M209.2,683.3V666M207.8,666h2.8" stroke="#444" stroke-width="0.5" fill="none"/>
<g stroke="#333" stroke-width="0.45"><rect x="172.7" y="688.3" width="5.3" height="8.1" fill="#ff0000"/><path d="M172.7,694.4h5.3" stroke="#222" stroke-opacity="0.75" stroke-width="0.6"/><rect x="183.9" y="695.1" width="5.3" height="1.5" fill="#00c5cd"/><path d="M183.9,696.2h5.3" stroke="#222" stroke-opacity="0.75" stroke-width="0.6"/><rect x="195.2" y="682.2" width="5.3" height="14.2" fill="#ffa500"/><path d="M195.2,694.9h5.3" stroke="#222" stroke-opacity="0.75" stroke-width="0.6"/><rect x="206.5" y="683.3" width="5.3" height="13.1" fill="#9acd32"/><path d="M206.5,694.4h5.3" stroke="#222" stroke-opacity="0.75" stroke-width="0.6"/></g>
<path d="M175.4,661.4V660.7H186.6V661.4" stroke="#555" stroke-width="0.45" fill="none"/>
<g font-size="3.5" text-anchor="middle" fill="#1a1a1a"><text x="181" y="661.6">***</text></g>
<path d="M159.7,667.1H160.9M159.7,677.2H160.9M159.7,687.2H160.9M159.7,696.6H160.9M175.4,698.2v1.2M186.6,698.2v1.2M197.9,698.2v1.2M209.2,698.2v1.2" stroke="#555" stroke-width="0.4" fill="none"/>
<g font-size="4.1" text-anchor="middle" fill="#0a0a0a"><text x="158.5" y="668.5" text-anchor="end">15</text><text x="158.5" y="678.6" text-anchor="end">10</text><text x="158.5" y="688.7" text-anchor="end">5</text><text x="158.5" y="698.1" text-anchor="end">0</text><text x="174.8" y="704.2">-0.6</text><text x="186" y="704.2">-0.2</text><text x="197.3" y="704.2">0.2</text><text x="208.6" y="704.2">0.6</text></g>
<rect x="160.9" y="658.8" width="62.7" height="39.5" fill="none" stroke="#555" stroke-width="0.55"/>
</g>
<g>
<path d="M175.4,720.9V714.6M174,714.6h2.8M175.4,745.7V748.5M174,748.5h2.8M197.9,720.5V714.6M196.5,714.6h2.8M197.9,745.9V748.5M196.5,748.5h2.8M209.2,724.4V714.6M207.8,714.6h2.8M209.2,745.2V748.5M207.8,748.5h2.8" stroke="#444" stroke-width="0.5" fill="none"/>
<g stroke="#333" stroke-width="0.45"><rect x="172.7" y="720.9" width="5.3" height="24.7" fill="#ff0000"/><path d="M172.7,734.3h5.3" stroke="#222" stroke-opacity="0.75" stroke-width="0.6"/><path d="M183.9,748.2h5.3" stroke="#3a3a3a" stroke-width="1.4"/><rect x="195.2" y="720.5" width="5.3" height="25.4" fill="#ffa500"/><path d="M195.2,731.5h5.3" stroke="#222" stroke-opacity="0.75" stroke-width="0.6"/><rect x="206.5" y="724.4" width="5.3" height="20.8" fill="#9acd32"/><path d="M206.5,740.2h5.3" stroke="#222" stroke-opacity="0.75" stroke-width="0.6"/></g>
<path d="M175.4,714.2V712.8H186.6V714.2" stroke="#555" stroke-width="0.45" fill="none"/>
<g font-size="3.5" text-anchor="middle" fill="#1a1a1a"><text x="181" y="713.7">****</text></g>
<path d="M159.7,714.6H160.9M159.7,731.5H160.9M159.7,748.5H160.9M175.4,750.1v1.2M186.6,750.1v1.2M197.9,750.1v1.2M209.2,750.1v1.2" stroke="#555" stroke-width="0.4" fill="none"/>
<g font-size="4.1" text-anchor="middle" fill="#0a0a0a"><text x="158.5" y="716" text-anchor="end">1.0</text><text x="158.5" y="732.9" text-anchor="end">0.5</text><text x="158.5" y="750" text-anchor="end">0.0</text><text x="174.8" y="756.1">-0.6</text><text x="186" y="756.1">-0.2</text><text x="197.3" y="756.1">0.2</text><text x="208.6" y="756.1">0.6</text></g>
<rect x="160.9" y="710.6" width="62.7" height="39.5" fill="none" stroke="#555" stroke-width="0.55"/>
</g>
<g>
<path d="M175.4,782.9V776.6M174,776.6h2.8M175.4,787.9V792.3M174,792.3h2.8M186.6,784.4V779.4M185.2,779.4h2.8M186.6,789.7V793.4M185.2,793.4h2.8M197.9,782V773.3M196.5,773.3h2.8M197.9,788.6V796.3M196.5,796.3h2.8M209.2,780.3V768.5M207.8,768.5h2.8M209.2,789.7V800.6M207.8,800.6h2.8" stroke="#444" stroke-width="0.5" fill="none"/>
<g stroke="#333" stroke-width="0.45"><rect x="172.7" y="782.9" width="5.3" height="5" fill="#ff0000"/><path d="M172.7,785.3h5.3" stroke="#222" stroke-opacity="0.75" stroke-width="0.6"/><rect x="183.9" y="784.4" width="5.3" height="5.3" fill="#00c5cd"/><path d="M183.9,787.1h5.3" stroke="#222" stroke-opacity="0.75" stroke-width="0.6"/><rect x="195.2" y="782" width="5.3" height="6.6" fill="#ffa500"/><path d="M195.2,785.3h5.3" stroke="#222" stroke-opacity="0.75" stroke-width="0.6"/><rect x="206.5" y="780.3" width="5.3" height="9.4" fill="#9acd32"/><path d="M206.5,786.2h5.3" stroke="#222" stroke-opacity="0.75" stroke-width="0.6"/></g>
<path d="M175.4,768.2V765.4H186.6V768.2" stroke="#555" stroke-width="0.45" fill="none"/>
<g font-size="3.5" text-anchor="middle" fill="#1a1a1a"><text x="181" y="768.3">**</text></g>
<path d="M159.7,764.3H160.9M159.7,779.4H160.9M159.7,794.5H160.9M175.4,802v1.2M186.6,802v1.2M197.9,802v1.2M209.2,802v1.2" stroke="#555" stroke-width="0.4" fill="none"/>
<g font-size="4.1" text-anchor="middle" fill="#0a0a0a"><text x="158.5" y="765.7" text-anchor="end">0.8</text><text x="158.5" y="780.9" text-anchor="end">0.6</text><text x="158.5" y="796" text-anchor="end">0.4</text><text x="174.8" y="808">-0.6</text><text x="186" y="808">-0.2</text><text x="197.3" y="808">0.2</text><text x="208.6" y="808">0.6</text></g>
<rect x="160.9" y="762.5" width="62.7" height="39.5" fill="none" stroke="#555" stroke-width="0.55"/>
</g>
<g>
<path d="M175.4,846.4V840.3M174,840.3h2.8M197.9,844.2V835.5M196.5,835.5h2.8M209.2,849.5V846.4M207.8,846.4h2.8" stroke="#444" stroke-width="0.5" fill="none"/>
<g stroke="#333" stroke-width="0.45"><rect x="172.7" y="846.4" width="5.3" height="5" fill="#ff0000"/><path d="M172.7,849.7h5.3" stroke="#222" stroke-opacity="0.75" stroke-width="0.6"/><path d="M183.9,852.1h5.3" stroke="#4a4a4a" stroke-width="0.9"/><rect x="195.2" y="844.2" width="5.3" height="7.4" fill="#ffa500"/><path d="M195.2,849.3h5.3" stroke="#222" stroke-opacity="0.75" stroke-width="0.6"/><rect x="206.5" y="849.5" width="5.3" height="2.6" fill="#9acd32"/><path d="M206.5,851h5.3" stroke="#222" stroke-opacity="0.75" stroke-width="0.6"/></g>
<path d="M175.4,820.1V817.5H209.2V820.1M175.4,834.6V832.2H186.6V834.6" stroke="#555" stroke-width="0.45" fill="none"/>
<g font-size="3.5" text-anchor="middle" fill="#1a1a1a"><text x="192.3" y="820.4">****</text><text x="181" y="835.1">***</text></g>
<path d="M159.7,822.8H160.9M159.7,837.4H160.9M159.7,852.1H160.9M175.4,853.9v1.2M186.6,853.9v1.2M197.9,853.9v1.2M209.2,853.9v1.2" stroke="#555" stroke-width="0.4" fill="none"/>
<g font-size="4.1" text-anchor="middle" fill="#0a0a0a"><text x="158.5" y="824.2" text-anchor="end">0.4</text><text x="158.5" y="838.9" text-anchor="end">0.2</text><text x="158.5" y="853.6" text-anchor="end">0.0</text><text x="174.8" y="859.9">-0.6</text><text x="186" y="859.9">-0.2</text><text x="197.3" y="859.9">0.2</text><text x="208.6" y="859.9">0.6</text></g>
<rect x="160.9" y="814.4" width="62.7" height="39.5" fill="none" stroke="#555" stroke-width="0.55"/>
</g>
<g>
<path d="M175.4,886.9V880.3M174,880.3h2.8M175.4,891.7V896.3M174,896.3h2.8M186.6,888.2V883.4M185.2,883.4h2.8M186.6,893.5V897.4M185.2,897.4h2.8M197.9,885.8V877.3M196.5,877.3h2.8M197.9,892.4V900.1M196.5,900.1h2.8M209.2,884.3V872.5M207.8,872.5h2.8M209.2,893.5V904M207.8,904h2.8" stroke="#444" stroke-width="0.5" fill="none"/>
<g stroke="#333" stroke-width="0.45"><rect x="172.7" y="886.9" width="5.3" height="4.8" fill="#ff0000"/><path d="M172.7,889.1h5.3" stroke="#222" stroke-opacity="0.75" stroke-width="0.6"/><rect x="183.9" y="888.2" width="5.3" height="5.3" fill="#00c5cd"/><path d="M183.9,890.9h5.3" stroke="#222" stroke-opacity="0.75" stroke-width="0.6"/><rect x="195.2" y="885.8" width="5.3" height="6.6" fill="#ffa500"/><path d="M195.2,889.1h5.3" stroke="#222" stroke-opacity="0.75" stroke-width="0.6"/><rect x="206.5" y="884.3" width="5.3" height="9.2" fill="#9acd32"/><path d="M206.5,889.1h5.3" stroke="#222" stroke-opacity="0.75" stroke-width="0.6"/></g>
<path d="M175.4,871.8V869H186.6V871.8" stroke="#555" stroke-width="0.45" fill="none"/>
<g font-size="3.5" text-anchor="middle" fill="#1a1a1a"><text x="181" y="871.9">**</text></g>
<path d="M159.7,868.1H160.9M159.7,883.2H160.9M159.7,898.5H160.9M175.4,905.7v1.2M186.6,905.7v1.2M197.9,905.7v1.2M209.2,905.7v1.2" stroke="#555" stroke-width="0.4" fill="none"/>
<g font-size="4.1" text-anchor="middle" fill="#0a0a0a"><text x="158.5" y="869.5" text-anchor="end">0.8</text><text x="158.5" y="884.6" text-anchor="end">0.6</text><text x="158.5" y="900" text-anchor="end">0.4</text><text x="174.8" y="911.7">-0.6</text><text x="186" y="911.7">-0.2</text><text x="197.3" y="911.7">0.2</text><text x="208.6" y="911.7">0.6</text></g>
<rect x="160.9" y="866.2" width="62.7" height="39.5" fill="none" stroke="#555" stroke-width="0.55"/>
</g>
<g>
<g fill="#00c5cd"><polyline points="163.8,920.4 170.1,955.8 176.3,955.8 182.6,955.8 188.9,955.8 195.1,955.8 201.4,955.8 207.7,955.8 213.9,955.8 220.2,955.8" fill="none" stroke="#00c5cd" stroke-width="0.7"/>
<circle cx="163.8" cy="920.4" r="1.15"/><circle cx="170.1" cy="955.8" r="1.15"/><circle cx="176.3" cy="955.8" r="1.15"/><circle cx="182.6" cy="955.8" r="1.15"/><circle cx="188.9" cy="955.8" r="1.15"/><circle cx="195.1" cy="955.8" r="1.15"/><circle cx="201.4" cy="955.8" r="1.15"/><circle cx="207.7" cy="955.8" r="1.15"/><circle cx="213.9" cy="955.8" r="1.15"/><circle cx="220.2" cy="955.8" r="1.15"/></g>
<g fill="#ffa500"><polyline points="163.8,920.4 170.1,938.8 176.3,938.8 182.6,938.8 188.9,938.8 195.1,938.8 201.4,938.8 207.7,939.1 213.9,939.7 220.2,940.3" fill="none" stroke="#ffa500" stroke-width="0.7"/>
<circle cx="163.8" cy="920.4" r="1.15"/><circle cx="170.1" cy="938.8" r="1.15"/><circle cx="176.3" cy="938.8" r="1.15"/><circle cx="182.6" cy="938.8" r="1.15"/><circle cx="188.9" cy="938.8" r="1.15"/><circle cx="195.1" cy="938.8" r="1.15"/><circle cx="201.4" cy="938.8" r="1.15"/><circle cx="207.7" cy="939.1" r="1.15"/><circle cx="213.9" cy="939.7" r="1.15"/><circle cx="220.2" cy="940.3" r="1.15"/></g>
<g fill="#ff0000"><polyline points="163.8,920.4 170.1,935.9 176.3,935.9 182.6,935.9 188.9,935.9 195.1,935.9 201.4,935.9 207.7,935.9 213.9,935.9 220.2,936.2" fill="none" stroke="#ff0000" stroke-width="0.7"/>
<circle cx="163.8" cy="920.4" r="1.15"/><circle cx="170.1" cy="935.9" r="1.15"/><circle cx="176.3" cy="935.9" r="1.15"/><circle cx="182.6" cy="935.9" r="1.15"/><circle cx="188.9" cy="935.9" r="1.15"/><circle cx="195.1" cy="935.9" r="1.15"/><circle cx="201.4" cy="935.9" r="1.15"/><circle cx="207.7" cy="935.9" r="1.15"/><circle cx="213.9" cy="935.9" r="1.15"/><circle cx="220.2" cy="936.2" r="1.15"/></g>
<g fill="#9acd32"><polyline points="163.8,920.4 170.1,942.9 176.3,942.9 182.6,943.8 188.9,944.1 195.1,944.4 201.4,944.4 207.7,944.7 213.9,944.7 220.2,944.7" fill="none" stroke="#9acd32" stroke-width="0.7"/>
<circle cx="163.8" cy="920.4" r="1.15"/><circle cx="170.1" cy="942.9" r="1.15"/><circle cx="176.3" cy="942.9" r="1.15"/><circle cx="182.6" cy="943.8" r="1.15"/><circle cx="188.9" cy="944.1" r="1.15"/><circle cx="195.1" cy="944.4" r="1.15"/><circle cx="201.4" cy="944.4" r="1.15"/><circle cx="207.7" cy="944.7" r="1.15"/><circle cx="213.9" cy="944.7" r="1.15"/><circle cx="220.2" cy="944.7" r="1.15"/></g>
<g font-size="4" fill="#111"><text x="163.9" y="928.2">P=0.0***</text><text x="188.9" y="928.2">P=0.052</text><text x="213.9" y="928.2">P=0.001***</text></g>
<path d="M159.7,920.4H160.9M159.7,938.2H160.9M159.7,956.1H160.9M163.8,957.6v1.2M176.3,957.6v1.2M188.9,957.6v1.2M201.4,957.6v1.2M213.9,957.6v1.2" stroke="#555" stroke-width="0.4" fill="none"/>
<g font-size="4.1" text-anchor="middle" fill="#0a0a0a"><text x="158.5" y="921.9" text-anchor="end">1.0</text><text x="158.5" y="939.7" text-anchor="end">0.5</text><text x="158.5" y="957.5" text-anchor="end">0.0</text><text x="163.8" y="963.6">0.0</text><text x="176.3" y="963.6">0.2</text><text x="188.9" y="963.6">0.4</text><text x="201.4" y="963.6">0.6</text><text x="213.9" y="963.6">0.8</text></g>
<rect x="160.9" y="918.1" width="62.7" height="39.5" fill="none" stroke="#555" stroke-width="0.55"/>
</g>
<g>
<path d="M265.8,422.2V402.5M264.4,402.5h2.8M288.3,432.7V426.3M286.9,426.3h2.8M299.6,431.2V423.3M298.2,423.3h2.8" stroke="#444" stroke-width="0.5" fill="none"/>
<g stroke="#333" stroke-width="0.45"><rect x="263.1" y="422.2" width="5.3" height="14.9" fill="#ff0000"/><path d="M274.3,437.1h5.3" stroke="#4a4a4a" stroke-width="0.9"/><rect x="285.6" y="432.7" width="5.3" height="4.4" fill="#ffa500"/><rect x="296.9" y="431.2" width="5.3" height="5.9" fill="#9acd32"/></g>
<path d="M265.8,402.3V400.9H277V402.3" stroke="#555" stroke-width="0.45" fill="none"/>
<g font-size="3.5" text-anchor="middle" fill="#1a1a1a"><text x="271.4" y="401.8">****</text></g>
<path d="M250.1,402.3H251.3M250.1,419.6H251.3M250.1,437.1H251.3M265.8,438.9v1.2M277,438.9v1.2M288.3,438.9v1.2M299.6,438.9v1.2" stroke="#555" stroke-width="0.4" fill="none"/>
<g font-size="4.1" text-anchor="middle" fill="#0a0a0a"><text x="248.9" y="403.7" text-anchor="end">2</text><text x="248.9" y="421" text-anchor="end">1</text><text x="248.9" y="438.5" text-anchor="end">0</text><text x="265.2" y="444.9">-0.6</text><text x="276.4" y="444.9">-0.2</text><text x="287.7" y="444.9">0.2</text><text x="299" y="444.9">0.6</text></g>
<rect x="251.3" y="399.4" width="62.7" height="39.5" fill="none" stroke="#555" stroke-width="0.55"/>
</g>
<g>
<path d="M265.8,474.1V470.1M264.4,470.1h2.8M277,487.2V485.2M275.6,485.2h2.8M288.3,485.9V481.5M286.9,481.5h2.8M299.6,485.5V480.9M298.2,480.9h2.8" stroke="#444" stroke-width="0.5" fill="none"/>
<g stroke="#333" stroke-width="0.45"><rect x="263.1" y="474.1" width="5.3" height="15.1" fill="#ff0000"/><path d="M263.1,486.3h5.3" stroke="#222" stroke-opacity="0.75" stroke-width="0.6"/><rect x="274.3" y="487.2" width="5.3" height="2" fill="#00c5cd"/><rect x="285.6" y="485.9" width="5.3" height="3.3" fill="#ffa500"/><path d="M285.6,488.1h5.3" stroke="#222" stroke-opacity="0.75" stroke-width="0.6"/><rect x="296.9" y="485.5" width="5.3" height="3.7" fill="#9acd32"/><path d="M296.9,487.9h5.3" stroke="#222" stroke-opacity="0.75" stroke-width="0.6"/></g>
<path d="M265.8,455V453.5H299.6V455M265.8,462.5V460.9H288.3V462.5M265.8,469.9V468.4H277V469.9" stroke="#555" stroke-width="0.45" fill="none"/>
<g font-size="3.5" text-anchor="middle" fill="#1a1a1a"><text x="282.7" y="454.4">**</text><text x="277" y="461.8">***</text><text x="271.4" y="469.3">****</text></g>
<path d="M250.1,470.1H251.3M250.1,489.2H251.3M265.8,490.8v1.2M277,490.8v1.2M288.3,490.8v1.2M299.6,490.8v1.2" stroke="#555" stroke-width="0.4" fill="none"/>
<g font-size="4.1" text-anchor="middle" fill="#0a0a0a"><text x="248.9" y="471.6" text-anchor="end">0.5</text><text x="248.9" y="490.6" text-anchor="end">0.0</text><text x="265.2" y="496.8">-0.6</text><text x="276.4" y="496.8">-0.2</text><text x="287.7" y="496.8">0.2</text><text x="299" y="496.8">0.6</text></g>
<rect x="251.3" y="451.3" width="62.7" height="39.5" fill="none" stroke="#555" stroke-width="0.55"/>
</g>
<g>
<g fill="#00c5cd"><polyline points="254.2,505.2 260.4,507.6 266.7,507.6 273,507.6 279.2,507.6 285.5,507.6 291.8,508.5 298.1,510 304.3,514.2 310.6,519.2" fill="none" stroke="#00c5cd" stroke-width="0.7"/>
<circle cx="254.2" cy="505.2" r="1.15"/><circle cx="260.4" cy="507.6" r="1.15"/><circle cx="266.7" cy="507.6" r="1.15"/><circle cx="273" cy="507.6" r="1.15"/><circle cx="279.2" cy="507.6" r="1.15"/><circle cx="285.5" cy="507.6" r="1.15"/><circle cx="291.8" cy="508.5" r="1.15"/><circle cx="298.1" cy="510" r="1.15"/><circle cx="304.3" cy="514.2" r="1.15"/><circle cx="310.6" cy="519.2" r="1.15"/></g>
<g fill="#ffa500"><polyline points="254.2,505.2 260.4,512.2 266.7,512.2 273,512 279.2,512.2 285.5,512.6 291.8,512.8 298.1,513.3 304.3,513.7 310.6,514.2" fill="none" stroke="#ffa500" stroke-width="0.7"/>
<circle cx="254.2" cy="505.2" r="1.15"/><circle cx="260.4" cy="512.2" r="1.15"/><circle cx="266.7" cy="512.2" r="1.15"/><circle cx="273" cy="512" r="1.15"/><circle cx="279.2" cy="512.2" r="1.15"/><circle cx="285.5" cy="512.6" r="1.15"/><circle cx="291.8" cy="512.8" r="1.15"/><circle cx="298.1" cy="513.3" r="1.15"/><circle cx="304.3" cy="513.7" r="1.15"/><circle cx="310.6" cy="514.2" r="1.15"/></g>
<g fill="#ff0000"><polyline points="254.2,505.2 260.4,525.5 266.7,525.5 273,525.5 279.2,525.5 285.5,527.1 291.8,527.1 298.1,528.2 304.3,528.2 310.6,528.2" fill="none" stroke="#ff0000" stroke-width="0.7"/>
<circle cx="254.2" cy="505.2" r="1.15"/><circle cx="260.4" cy="525.5" r="1.15"/><circle cx="266.7" cy="525.5" r="1.15"/><circle cx="273" cy="525.5" r="1.15"/><circle cx="279.2" cy="525.5" r="1.15"/><circle cx="285.5" cy="527.1" r="1.15"/><circle cx="291.8" cy="527.1" r="1.15"/><circle cx="298.1" cy="528.2" r="1.15"/><circle cx="304.3" cy="528.2" r="1.15"/><circle cx="310.6" cy="528.2" r="1.15"/></g>
<g fill="#9acd32"><polyline points="254.2,505.2 260.4,535.4 266.7,536.7 273,537.4 279.2,537.8 285.5,538.2 291.8,539.1 298.1,540.6 304.3,540.6 310.6,540.6" fill="none" stroke="#9acd32" stroke-width="0.7"/>
<circle cx="254.2" cy="505.2" r="1.15"/><circle cx="260.4" cy="535.4" r="1.15"/><circle cx="266.7" cy="536.7" r="1.15"/><circle cx="273" cy="537.4" r="1.15"/><circle cx="279.2" cy="537.8" r="1.15"/><circle cx="285.5" cy="538.2" r="1.15"/><circle cx="291.8" cy="539.1" r="1.15"/><circle cx="298.1" cy="540.6" r="1.15"/><circle cx="304.3" cy="540.6" r="1.15"/><circle cx="310.6" cy="540.6" r="1.15"/></g>
<g font-size="4" fill="#111"><text x="253.9" y="514.7">P=0.001***</text><text x="278.9" y="514.7">P=0.0***</text><text x="303.9" y="514.7">P=0.005**</text></g>
<path d="M250.1,505.2H251.3M250.1,517.2H251.3M250.1,529H251.3M250.1,540.9H251.3M254.2,542.6v1.2M266.7,542.6v1.2M279.2,542.6v1.2M291.8,542.6v1.2M304.3,542.6v1.2" stroke="#555" stroke-width="0.4" fill="none"/>
<g font-size="4.1" text-anchor="middle" fill="#0a0a0a"><text x="248.9" y="506.6" text-anchor="end">1.00</text><text x="248.9" y="518.7" text-anchor="end">0.75</text><text x="248.9" y="530.5" text-anchor="end">0.50</text><text x="248.9" y="542.3" text-anchor="end">0.25</text><text x="254.2" y="548.6">0.0</text><text x="266.7" y="548.6">0.2</text><text x="279.2" y="548.6">0.4</text><text x="291.8" y="548.6">0.6</text><text x="304.3" y="548.6">0.8</text></g>
<rect x="251.3" y="503.1" width="62.7" height="39.5" fill="none" stroke="#555" stroke-width="0.55"/>
</g>
<g>
<path d="M265.8,570.6V559.3M264.4,559.3h2.8M288.3,589.9V587.1M286.9,587.1h2.8M299.6,589.7V586.2M298.2,586.2h2.8" stroke="#444" stroke-width="0.5" fill="none"/>
<g stroke="#333" stroke-width="0.45"><rect x="263.1" y="570.6" width="5.3" height="21.9" fill="#ff0000"/><path d="M263.1,588.8h5.3" stroke="#222" stroke-opacity="0.75" stroke-width="0.6"/><path d="M274.3,592.3h5.3" stroke="#3a3a3a" stroke-width="1.2"/><rect x="285.6" y="589.9" width="5.3" height="2.8" fill="#ffa500"/><path d="M285.6,591.7h5.3" stroke="#222" stroke-opacity="0.75" stroke-width="0.6"/><rect x="296.9" y="589.7" width="5.3" height="3.1" fill="#9acd32"/><path d="M296.9,591.4h5.3" stroke="#222" stroke-opacity="0.75" stroke-width="0.6"/></g>
<path d="M265.8,557.9V556.6H299.6V557.9M265.8,559V557.9H288.3V559M265.8,559.5V558.6H277V559.5" stroke="#555" stroke-width="0.45" fill="none"/>
<g font-size="3.5" text-anchor="middle" fill="#1a1a1a"><text x="282.7" y="557.5">*</text><text x="277" y="558.8">***</text><text x="271.4" y="559.5">****</text></g>
<path d="M250.1,559.3H251.3M250.1,570.4H251.3M250.1,581.6H251.3M250.1,592.8H251.3M265.8,594.5v1.2M277,594.5v1.2M288.3,594.5v1.2M299.6,594.5v1.2" stroke="#555" stroke-width="0.4" fill="none"/>
<g font-size="4.1" text-anchor="middle" fill="#0a0a0a"><text x="248.9" y="560.7" text-anchor="end">6</text><text x="248.9" y="571.9" text-anchor="end">4</text><text x="248.9" y="583" text-anchor="end">2</text><text x="248.9" y="594.2" text-anchor="end">0</text><text x="265.2" y="600.5">-0.6</text><text x="276.4" y="600.5">-0.2</text><text x="287.7" y="600.5">0.2</text><text x="299" y="600.5">0.6</text></g>
<rect x="251.3" y="555" width="62.7" height="39.5" fill="none" stroke="#555" stroke-width="0.55"/>
</g>
<g>
<path d="M265.8,634.6V626M264.4,626h2.8M277,642.9V640.7M275.6,640.7h2.8M288.3,642V638.5M286.9,638.5h2.8M299.6,642V639M298.2,639h2.8" stroke="#444" stroke-width="0.5" fill="none"/>
<g stroke="#333" stroke-width="0.45"><rect x="263.1" y="634.6" width="5.3" height="10.1" fill="#ff0000"/><path d="M263.1,641.8h5.3" stroke="#222" stroke-opacity="0.75" stroke-width="0.6"/><rect x="274.3" y="642.9" width="5.3" height="1.8" fill="#00c5cd"/><rect x="285.6" y="642" width="5.3" height="2.6" fill="#ffa500"/><path d="M285.6,644h5.3" stroke="#222" stroke-opacity="0.75" stroke-width="0.6"/><rect x="296.9" y="642" width="5.3" height="2.6" fill="#9acd32"/><path d="M296.9,644h5.3" stroke="#222" stroke-opacity="0.75" stroke-width="0.6"/></g>
<path d="M265.8,610.7V609.4H299.6V610.7M265.8,617.9V616.6H288.3V617.9M265.8,625.8V624.3H277V625.8" stroke="#555" stroke-width="0.45" fill="none"/>
<g font-size="3.5" text-anchor="middle" fill="#1a1a1a"><text x="282.7" y="610.3">***</text><text x="277" y="617.5">***</text><text x="271.4" y="625.2">****</text></g>
<path d="M250.1,626.5H251.3M250.1,644.7H251.3M265.8,646.4v1.2M277,646.4v1.2M288.3,646.4v1.2M299.6,646.4v1.2" stroke="#555" stroke-width="0.4" fill="none"/>
<g font-size="4.1" text-anchor="middle" fill="#0a0a0a"><text x="248.9" y="627.9" text-anchor="end">0.5</text><text x="248.9" y="646.1" text-anchor="end">0.0</text><text x="265.2" y="652.4">-0.6</text><text x="276.4" y="652.4">-0.2</text><text x="287.7" y="652.4">0.2</text><text x="299" y="652.4">0.6</text></g>
<rect x="251.3" y="606.9" width="62.7" height="39.5" fill="none" stroke="#555" stroke-width="0.55"/>
</g>
<g>
<path d="M265.8,682V660.9M264.4,660.9h2.8M265.8,695.8V696.6M264.4,696.6h2.8M277,690.5V682.8M275.6,682.8h2.8M277,695.8V696.6M275.6,696.6h2.8M288.3,684.6V673.2M286.9,673.2h2.8M288.3,695.5V696.6M286.9,696.6h2.8M299.6,684.4V670.1M298.2,670.1h2.8M299.6,695.1V696.6M298.2,696.6h2.8" stroke="#444" stroke-width="0.5" fill="none"/>
<g stroke="#333" stroke-width="0.45"><rect x="263.1" y="682" width="5.3" height="13.8" fill="#ff0000"/><path d="M263.1,694.4h5.3" stroke="#222" stroke-opacity="0.75" stroke-width="0.6"/><rect x="274.3" y="690.5" width="5.3" height="5.3" fill="#00c5cd"/><path d="M274.3,694.4h5.3" stroke="#222" stroke-opacity="0.75" stroke-width="0.6"/><rect x="285.6" y="684.6" width="5.3" height="10.9" fill="#ffa500"/><path d="M285.6,693.1h5.3" stroke="#222" stroke-opacity="0.75" stroke-width="0.6"/><rect x="296.9" y="684.4" width="5.3" height="10.7" fill="#9acd32"/><path d="M296.9,691.2h5.3" stroke="#222" stroke-opacity="0.75" stroke-width="0.6"/></g>
<path d="M250.1,666.4H251.3M250.1,681.5H251.3M250.1,696.6H251.3M265.8,698.2v1.2M277,698.2v1.2M288.3,698.2v1.2M299.6,698.2v1.2" stroke="#555" stroke-width="0.4" fill="none"/>
<g font-size="4.1" text-anchor="middle" fill="#0a0a0a"><text x="248.9" y="667.9" text-anchor="end">4</text><text x="248.9" y="683" text-anchor="end">2</text><text x="248.9" y="698.1" text-anchor="end">0</text><text x="265.2" y="704.2">-0.6</text><text x="276.4" y="704.2">-0.2</text><text x="287.7" y="704.2">0.2</text><text x="299" y="704.2">0.6</text></g>
<rect x="251.3" y="658.8" width="62.7" height="39.5" fill="none" stroke="#555" stroke-width="0.55"/>
</g>
<g>
<path d="M265.8,733.6V717.4M264.4,717.4h2.8M277,745.9V743.1M275.6,743.1h2.8M288.3,742.4V734.3M286.9,734.3h2.8M299.6,736.3V719.2M298.2,719.2h2.8" stroke="#444" stroke-width="0.5" fill="none"/>
<g stroke="#333" stroke-width="0.45"><rect x="263.1" y="733.6" width="5.3" height="14.9" fill="#ff0000"/><path d="M263.1,747h5.3" stroke="#222" stroke-opacity="0.75" stroke-width="0.6"/><rect x="274.3" y="745.9" width="5.3" height="2.6" fill="#00c5cd"/><path d="M274.3,747.7h5.3" stroke="#222" stroke-opacity="0.75" stroke-width="0.6"/><rect x="285.6" y="742.4" width="5.3" height="6.1" fill="#ffa500"/><path d="M285.6,747.4h5.3" stroke="#222" stroke-opacity="0.75" stroke-width="0.6"/><rect x="296.9" y="736.3" width="5.3" height="12.3" fill="#9acd32"/><path d="M296.9,745.5h5.3" stroke="#222" stroke-opacity="0.75" stroke-width="0.6"/></g>
<path d="M265.8,716.8V712.8H277V716.8" stroke="#555" stroke-width="0.45" fill="none"/>
<g font-size="3.5" text-anchor="middle" fill="#1a1a1a"><text x="271.4" y="715.7">*</text></g>
<path d="M250.1,718.3H251.3M250.1,728.4H251.3M250.1,738.5H251.3M250.1,748.5H251.3M265.8,750.1v1.2M277,750.1v1.2M288.3,750.1v1.2M299.6,750.1v1.2" stroke="#555" stroke-width="0.4" fill="none"/>
<g font-size="4.1" text-anchor="middle" fill="#0a0a0a"><text x="248.9" y="719.8" text-anchor="end">0.3</text><text x="248.9" y="729.8" text-anchor="end">0.2</text><text x="248.9" y="739.9" text-anchor="end">0.1</text><text x="248.9" y="750" text-anchor="end">0.0</text><text x="265.2" y="756.1">-0.6</text><text x="276.4" y="756.1">-0.2</text><text x="287.7" y="756.1">0.2</text><text x="299" y="756.1">0.6</text></g>
<rect x="251.3" y="710.6" width="62.7" height="39.5" fill="none" stroke="#555" stroke-width="0.55"/>
</g>
<g>
<path d="M265.8,782.3V775.9M264.4,775.9h2.8M265.8,787.1V792.3M264.4,792.3h2.8M277,783.1V776.8M275.6,776.8h2.8M277,787.5V793.9M275.6,793.9h2.8M288.3,782.7V776.3M286.9,776.3h2.8M288.3,787.5V791.4M286.9,791.4h2.8M299.6,780.9V768.5M298.2,768.5h2.8M299.6,789.5V800.6M298.2,800.6h2.8" stroke="#444" stroke-width="0.5" fill="none"/>
<g stroke="#333" stroke-width="0.45"><rect x="263.1" y="782.3" width="5.3" height="4.8" fill="#ff0000"/><path d="M263.1,784.7h5.3" stroke="#222" stroke-opacity="0.75" stroke-width="0.6"/><rect x="274.3" y="783.1" width="5.3" height="4.4" fill="#00c5cd"/><path d="M274.3,785.3h5.3" stroke="#222" stroke-opacity="0.75" stroke-width="0.6"/><rect x="285.6" y="782.7" width="5.3" height="4.8" fill="#ffa500"/><path d="M285.6,785.1h5.3" stroke="#222" stroke-opacity="0.75" stroke-width="0.6"/><rect x="296.9" y="780.9" width="5.3" height="8.5" fill="#9acd32"/><path d="M296.9,785.1h5.3" stroke="#222" stroke-opacity="0.75" stroke-width="0.6"/></g>
<path d="M265.8,768.2V765H277V768.2" stroke="#555" stroke-width="0.45" fill="none"/>
<g font-size="3.5" text-anchor="middle" fill="#1a1a1a"><text x="271.4" y="767.9">*</text></g>
<path d="M250.1,777H251.3M250.1,793H251.3M265.8,802v1.2M277,802v1.2M288.3,802v1.2M299.6,802v1.2" stroke="#555" stroke-width="0.4" fill="none"/>
<g font-size="4.1" text-anchor="middle" fill="#0a0a0a"><text x="248.9" y="778.4" text-anchor="end">0.6</text><text x="248.9" y="794.4" text-anchor="end">0.4</text><text x="265.2" y="808">-0.6</text><text x="276.4" y="808">-0.2</text><text x="287.7" y="808">0.2</text><text x="299" y="808">0.6</text></g>
<rect x="251.3" y="762.5" width="62.7" height="39.5" fill="none" stroke="#555" stroke-width="0.55"/>
</g>
<g>
<g stroke="#333" stroke-width="0.45"><path d="M263.1,852.1h5.3" stroke="#4a4a4a" stroke-width="0.9"/><path d="M274.3,852.1h5.3" stroke="#4a4a4a" stroke-width="0.9"/><path d="M285.6,852.1h5.3" stroke="#4a4a4a" stroke-width="0.9"/><path d="M296.9,852.1h5.3" stroke="#4a4a4a" stroke-width="0.9"/></g>
<path d="M265.8,851.4V816.8H277V851.4" stroke="#555" stroke-width="0.45" fill="none"/>
<g font-size="3.5" text-anchor="middle" fill="#1a1a1a"><text x="271.4" y="850.9">***</text></g>
<path d="M250.1,823.6H251.3M250.1,837.9H251.3M250.1,852.1H251.3M265.8,853.9v1.2M277,853.9v1.2M288.3,853.9v1.2M299.6,853.9v1.2" stroke="#555" stroke-width="0.4" fill="none"/>
<g font-size="4.1" text-anchor="middle" fill="#0a0a0a"><text x="248.9" y="825.1" text-anchor="end">0.04</text><text x="248.9" y="839.3" text-anchor="end">0.02</text><text x="248.9" y="853.6" text-anchor="end">0.00</text><text x="265.2" y="859.9">-0.6</text><text x="276.4" y="859.9">-0.2</text><text x="287.7" y="859.9">0.2</text><text x="299" y="859.9">0.6</text></g>
<rect x="251.3" y="814.4" width="62.7" height="39.5" fill="none" stroke="#555" stroke-width="0.55"/>
</g>
<g>
<path d="M265.8,885.8V879.5M264.4,879.5h2.8M265.8,890.6V896.3M264.4,896.3h2.8M277,886.9V881M275.6,881h2.8M277,891.5V897.4M275.6,897.4h2.8M288.3,886.5V880.3M286.9,880.3h2.8M288.3,891.3V894.8M286.9,894.8h2.8M299.6,884.3V872.5M298.2,872.5h2.8M299.6,893.5V904M298.2,904h2.8" stroke="#444" stroke-width="0.5" fill="none"/>
<g stroke="#333" stroke-width="0.45"><rect x="263.1" y="885.8" width="5.3" height="4.8" fill="#ff0000"/><path d="M263.1,888.2h5.3" stroke="#222" stroke-opacity="0.75" stroke-width="0.6"/><rect x="274.3" y="886.9" width="5.3" height="4.6" fill="#00c5cd"/><path d="M274.3,889.1h5.3" stroke="#222" stroke-opacity="0.75" stroke-width="0.6"/><rect x="285.6" y="886.5" width="5.3" height="4.8" fill="#ffa500"/><path d="M285.6,888.9h5.3" stroke="#222" stroke-opacity="0.75" stroke-width="0.6"/><rect x="296.9" y="884.3" width="5.3" height="9.2" fill="#9acd32"/><path d="M296.9,889.1h5.3" stroke="#222" stroke-opacity="0.75" stroke-width="0.6"/></g>
<path d="M265.8,871.8V868.5H277V871.8" stroke="#555" stroke-width="0.45" fill="none"/>
<g font-size="3.5" text-anchor="middle" fill="#1a1a1a"><text x="271.4" y="871.4">*</text></g>
<path d="M250.1,880.8H251.3M250.1,896.3H251.3M265.8,905.7v1.2M277,905.7v1.2M288.3,905.7v1.2M299.6,905.7v1.2" stroke="#555" stroke-width="0.4" fill="none"/>
<g font-size="4.1" text-anchor="middle" fill="#0a0a0a"><text x="248.9" y="882.2" text-anchor="end">0.6</text><text x="248.9" y="897.8" text-anchor="end">0.4</text><text x="265.2" y="911.7">-0.6</text><text x="276.4" y="911.7">-0.2</text><text x="287.7" y="911.7">0.2</text><text x="299" y="911.7">0.6</text></g>
<rect x="251.3" y="866.2" width="62.7" height="39.5" fill="none" stroke="#555" stroke-width="0.55"/>
</g>
<g>
<g fill="#00c5cd"><polyline points="254.2,920.4 260.4,955.8 266.7,955.8 273,955.8 279.2,955.8 285.5,955.8 291.8,955.8 298.1,955.8 304.3,955.8 310.6,955.8" fill="none" stroke="#00c5cd" stroke-width="0.7"/>
<circle cx="254.2" cy="920.4" r="1.15"/><circle cx="260.4" cy="955.8" r="1.15"/><circle cx="266.7" cy="955.8" r="1.15"/><circle cx="273" cy="955.8" r="1.15"/><circle cx="279.2" cy="955.8" r="1.15"/><circle cx="285.5" cy="955.8" r="1.15"/><circle cx="291.8" cy="955.8" r="1.15"/><circle cx="298.1" cy="955.8" r="1.15"/><circle cx="304.3" cy="955.8" r="1.15"/><circle cx="310.6" cy="955.8" r="1.15"/></g>
<g fill="#ffa500"><polyline points="254.2,920.4 260.4,952.3 266.7,952.3 273,952.3 279.2,952.3 285.5,952.3 291.8,952.3 298.1,952.3 304.3,952.3 310.6,952.3" fill="none" stroke="#ffa500" stroke-width="0.7"/>
<circle cx="254.2" cy="920.4" r="1.15"/><circle cx="260.4" cy="952.3" r="1.15"/><circle cx="266.7" cy="952.3" r="1.15"/><circle cx="273" cy="952.3" r="1.15"/><circle cx="279.2" cy="952.3" r="1.15"/><circle cx="285.5" cy="952.3" r="1.15"/><circle cx="291.8" cy="952.3" r="1.15"/><circle cx="298.1" cy="952.3" r="1.15"/><circle cx="304.3" cy="952.3" r="1.15"/><circle cx="310.6" cy="952.3" r="1.15"/></g>
<g fill="#ff0000"><polyline points="254.2,920.4 260.4,945.3 266.7,945.3 273,945.3 279.2,945.3 285.5,945.3 291.8,945.3 298.1,945.3 304.3,945.3 310.6,945.3" fill="none" stroke="#ff0000" stroke-width="0.7"/>
<circle cx="254.2" cy="920.4" r="1.15"/><circle cx="260.4" cy="945.3" r="1.15"/><circle cx="266.7" cy="945.3" r="1.15"/><circle cx="273" cy="945.3" r="1.15"/><circle cx="279.2" cy="945.3" r="1.15"/><circle cx="285.5" cy="945.3" r="1.15"/><circle cx="291.8" cy="945.3" r="1.15"/><circle cx="298.1" cy="945.3" r="1.15"/><circle cx="304.3" cy="945.3" r="1.15"/><circle cx="310.6" cy="945.3" r="1.15"/></g>
<g fill="#9acd32"><polyline points="254.2,920.4 260.4,943.2 266.7,943.2 273,943.2 279.2,943.2 285.5,943.2 291.8,943.2 298.1,943.2 304.3,943.2 310.6,943.5" fill="none" stroke="#9acd32" stroke-width="0.7"/>
<circle cx="254.2" cy="920.4" r="1.15"/><circle cx="260.4" cy="943.2" r="1.15"/><circle cx="266.7" cy="943.2" r="1.15"/><circle cx="273" cy="943.2" r="1.15"/><circle cx="279.2" cy="943.2" r="1.15"/><circle cx="285.5" cy="943.2" r="1.15"/><circle cx="291.8" cy="943.2" r="1.15"/><circle cx="298.1" cy="943.2" r="1.15"/><circle cx="304.3" cy="943.2" r="1.15"/><circle cx="310.6" cy="943.5" r="1.15"/></g>
<g font-size="4" fill="#111"><text x="253.6" y="928.2">P=0.0***</text><text x="278.5" y="928.2">P=0.008**</text><text x="303.9" y="928.2">P=0.292</text></g>
<path d="M250.1,920.4H251.3M250.1,938.8H251.3M254.2,957.6v1.2M266.7,957.6v1.2M279.2,957.6v1.2M291.8,957.6v1.2M304.3,957.6v1.2" stroke="#555" stroke-width="0.4" fill="none"/>
<g font-size="4.1" text-anchor="middle" fill="#0a0a0a"><text x="248.9" y="921.9" text-anchor="end">1.0</text><text x="248.9" y="940.3" text-anchor="end">0.5</text><text x="254.2" y="963.6">0.0</text><text x="266.7" y="963.6">0.2</text><text x="279.2" y="963.6">0.4</text><text x="291.8" y="963.6">0.6</text><text x="304.3" y="963.6">0.8</text></g>
<rect x="251.3" y="918.1" width="62.7" height="39.5" fill="none" stroke="#555" stroke-width="0.55"/>
</g>
<g>
<path d="M356.1,423.1V406.2M354.7,406.2h2.8M378.6,423.3V406.9M377.2,406.9h2.8M389.9,422.2V402M388.5,402h2.8" stroke="#444" stroke-width="0.5" fill="none"/>
<g stroke="#333" stroke-width="0.45"><rect x="353.5" y="423.1" width="5.3" height="14" fill="#ff0000"/><path d="M353.5,436.4h5.3" stroke="#222" stroke-opacity="0.75" stroke-width="0.6"/><path d="M364.7,437.1h5.3" stroke="#4a4a4a" stroke-width="0.9"/><rect x="376" y="423.3" width="5.3" height="13.8" fill="#ffa500"/><path d="M376,434.2h5.3" stroke="#222" stroke-opacity="0.75" stroke-width="0.6"/><rect x="387.3" y="422.2" width="5.3" height="14.9" fill="#9acd32"/><path d="M387.3,434.9h5.3" stroke="#222" stroke-opacity="0.75" stroke-width="0.6"/></g>
<path d="M356.1,402.3V400.9H367.3V402.3" stroke="#555" stroke-width="0.45" fill="none"/>
<g font-size="3.5" text-anchor="middle" fill="#1a1a1a"><text x="361.7" y="401.8">*</text></g>
<path d="M340.4,407.1H341.6M340.4,422.2H341.6M340.4,437.1H341.6M356.1,438.9v1.2M367.3,438.9v1.2M378.6,438.9v1.2M389.9,438.9v1.2" stroke="#555" stroke-width="0.4" fill="none"/>
<g font-size="4.1" text-anchor="middle" fill="#0a0a0a"><text x="339.2" y="408.5" text-anchor="end">2</text><text x="339.2" y="423.6" text-anchor="end">1</text><text x="339.2" y="438.5" text-anchor="end">0</text><text x="355.5" y="444.9">-0.6</text><text x="366.7" y="444.9">-0.2</text><text x="378" y="444.9">0.2</text><text x="389.3" y="444.9">0.6</text></g>
<rect x="341.6" y="399.4" width="62.7" height="39.5" fill="none" stroke="#555" stroke-width="0.55"/>
</g>
<g>
<path d="M356.1,474.1V453.9M354.7,453.9h2.8M378.6,478.9V465.3M377.2,465.3h2.8M389.9,481.5V472.1M388.5,472.1h2.8" stroke="#444" stroke-width="0.5" fill="none"/>
<g stroke="#333" stroke-width="0.45"><rect x="353.5" y="474.1" width="5.3" height="14.9" fill="#ff0000"/><path d="M353.5,485.9h5.3" stroke="#222" stroke-opacity="0.75" stroke-width="0.6"/><path d="M364.7,488.9h5.3" stroke="#3a3a3a" stroke-width="1.4"/><rect x="376" y="478.9" width="5.3" height="10.1" fill="#ffa500"/><path d="M376,486.3h5.3" stroke="#222" stroke-opacity="0.75" stroke-width="0.6"/><rect x="387.3" y="481.5" width="5.3" height="7.4" fill="#9acd32"/><path d="M387.3,487.2h5.3" stroke="#222" stroke-opacity="0.75" stroke-width="0.6"/></g>
<path d="M356.1,454.2V453.1H367.3V454.2" stroke="#555" stroke-width="0.45" fill="none"/>
<g font-size="3.5" text-anchor="middle" fill="#1a1a1a"><text x="361.7" y="454">***</text></g>
<path d="M340.4,452.4H341.6M340.4,464.7H341.6M340.4,476.9H341.6M340.4,489.2H341.6M356.1,490.8v1.2M367.3,490.8v1.2M378.6,490.8v1.2M389.9,490.8v1.2" stroke="#555" stroke-width="0.4" fill="none"/>
<g font-size="4.1" text-anchor="middle" fill="#0a0a0a"><text x="339.2" y="453.9" text-anchor="end">3</text><text x="339.2" y="466.1" text-anchor="end">2</text><text x="339.2" y="478.4" text-anchor="end">1</text><text x="339.2" y="490.6" text-anchor="end">0</text><text x="355.5" y="496.8">-0.6</text><text x="366.7" y="496.8">-0.2</text><text x="378" y="496.8">0.2</text><text x="389.3" y="496.8">0.6</text></g>
<rect x="341.6" y="451.3" width="62.7" height="39.5" fill="none" stroke="#555" stroke-width="0.55"/>
</g>
<g>
<g fill="#00c5cd"><polyline points="344.5,505.2 350.8,505.2 357.1,505.2 363.3,505.2 369.6,505.2 375.9,505.2 382.2,505.2 388.4,505.2 394.7,510 401,529.7" fill="none" stroke="#00c5cd" stroke-width="0.7"/>
<circle cx="344.5" cy="505.2" r="1.15"/><circle cx="350.8" cy="505.2" r="1.15"/><circle cx="357.1" cy="505.2" r="1.15"/><circle cx="363.3" cy="505.2" r="1.15"/><circle cx="369.6" cy="505.2" r="1.15"/><circle cx="375.9" cy="505.2" r="1.15"/><circle cx="382.2" cy="505.2" r="1.15"/><circle cx="388.4" cy="505.2" r="1.15"/><circle cx="394.7" cy="510" r="1.15"/><circle cx="401" cy="529.7" r="1.15"/></g>
<g fill="#ffa500"><polyline points="344.5,505.2 350.8,510.9 357.1,510.9 363.3,510.9 369.6,510.9 375.9,510.9 382.2,510.9 388.4,510.9 394.7,512.2 401,513.7" fill="none" stroke="#ffa500" stroke-width="0.7"/>
<circle cx="344.5" cy="505.2" r="1.15"/><circle cx="350.8" cy="510.9" r="1.15"/><circle cx="357.1" cy="510.9" r="1.15"/><circle cx="363.3" cy="510.9" r="1.15"/><circle cx="369.6" cy="510.9" r="1.15"/><circle cx="375.9" cy="510.9" r="1.15"/><circle cx="382.2" cy="510.9" r="1.15"/><circle cx="388.4" cy="510.9" r="1.15"/><circle cx="394.7" cy="512.2" r="1.15"/><circle cx="401" cy="513.7" r="1.15"/></g>
<g fill="#ff0000"><polyline points="344.5,505.2 350.8,519.8 357.1,519.8 363.3,519.8 369.6,519.8 375.9,519.8 382.2,519.8 388.4,519.8 394.7,519.8 401,519.8" fill="none" stroke="#ff0000" stroke-width="0.7"/>
<circle cx="344.5" cy="505.2" r="1.15"/><circle cx="350.8" cy="519.8" r="1.15"/><circle cx="357.1" cy="519.8" r="1.15"/><circle cx="363.3" cy="519.8" r="1.15"/><circle cx="369.6" cy="519.8" r="1.15"/><circle cx="375.9" cy="519.8" r="1.15"/><circle cx="382.2" cy="519.8" r="1.15"/><circle cx="388.4" cy="519.8" r="1.15"/><circle cx="394.7" cy="519.8" r="1.15"/><circle cx="401" cy="519.8" r="1.15"/></g>
<g fill="#9acd32"><polyline points="344.5,505.2 350.8,536.9 357.1,537.8 363.3,538.9 369.6,540.2 375.9,540.2 382.2,540.2 388.4,540.2 394.7,540.9 401,540.9" fill="none" stroke="#9acd32" stroke-width="0.7"/>
<circle cx="344.5" cy="505.2" r="1.15"/><circle cx="350.8" cy="536.9" r="1.15"/><circle cx="357.1" cy="537.8" r="1.15"/><circle cx="363.3" cy="538.9" r="1.15"/><circle cx="369.6" cy="540.2" r="1.15"/><circle cx="375.9" cy="540.2" r="1.15"/><circle cx="382.2" cy="540.2" r="1.15"/><circle cx="388.4" cy="540.2" r="1.15"/><circle cx="394.7" cy="540.9" r="1.15"/><circle cx="401" cy="540.9" r="1.15"/></g>
<g font-size="4" fill="#111"><text x="344.2" y="516.7">P=0.241</text><text x="369.4" y="516.7">P=0.071</text><text x="394.6" y="516.7">P=0.002**</text></g>
<path d="M340.4,505.2H341.6M340.4,516.3H341.6M340.4,527.1H341.6M340.4,537.8H341.6M344.5,542.6v1.2M357.1,542.6v1.2M369.6,542.6v1.2M382.2,542.6v1.2M394.7,542.6v1.2" stroke="#555" stroke-width="0.4" fill="none"/>
<g font-size="4.1" text-anchor="middle" fill="#0a0a0a"><text x="339.2" y="506.6" text-anchor="end">1.0</text><text x="339.2" y="517.8" text-anchor="end">0.8</text><text x="339.2" y="528.5" text-anchor="end">0.6</text><text x="339.2" y="539.2" text-anchor="end">0.4</text><text x="344.5" y="548.6">0.0</text><text x="357.1" y="548.6">0.2</text><text x="369.6" y="548.6">0.4</text><text x="382.2" y="548.6">0.6</text><text x="394.7" y="548.6">0.8</text></g>
<rect x="341.6" y="503.1" width="62.7" height="39.5" fill="none" stroke="#555" stroke-width="0.55"/>
</g>
<g>
<path d="M356.1,565.2V560.1M354.7,560.1h2.8M378.6,565.6V558.4M377.2,558.4h2.8M378.6,591.4V593M377.2,593h2.8M389.9,566.5V557.5M388.5,557.5h2.8M389.9,590.6V593M388.5,593h2.8" stroke="#444" stroke-width="0.5" fill="none"/>
<g stroke="#333" stroke-width="0.45"><rect x="353.5" y="565.2" width="5.3" height="27.4" fill="#ff0000"/><path d="M353.5,582.5h5.3" stroke="#222" stroke-opacity="0.75" stroke-width="0.6"/><rect x="364.7" y="591.7" width="5.3" height="1.3" fill="#00c5cd"/><rect x="376" y="565.6" width="5.3" height="25.8" fill="#ffa500"/><path d="M376,576.1h5.3" stroke="#222" stroke-opacity="0.75" stroke-width="0.6"/><rect x="387.3" y="566.5" width="5.3" height="24.1" fill="#9acd32"/><path d="M387.3,581.4h5.3" stroke="#222" stroke-opacity="0.75" stroke-width="0.6"/></g>
<path d="M356.1,557.5V556.8H367.3V557.5" stroke="#555" stroke-width="0.45" fill="none"/>
<g font-size="3.5" text-anchor="middle" fill="#1a1a1a"><text x="361.7" y="557.7">***</text></g>
<path d="M340.4,560.4H341.6M340.4,571.3H341.6M340.4,582.2H341.6M340.4,593H341.6M356.1,594.5v1.2M367.3,594.5v1.2M378.6,594.5v1.2M389.9,594.5v1.2" stroke="#555" stroke-width="0.4" fill="none"/>
<g font-size="4.1" text-anchor="middle" fill="#0a0a0a"><text x="339.2" y="561.8" text-anchor="end">6</text><text x="339.2" y="572.8" text-anchor="end">4</text><text x="339.2" y="583.7" text-anchor="end">2</text><text x="339.2" y="594.4" text-anchor="end">0</text><text x="355.5" y="600.5">-0.6</text><text x="366.7" y="600.5">-0.2</text><text x="378" y="600.5">0.2</text><text x="389.3" y="600.5">0.6</text></g>
<rect x="341.6" y="555" width="62.7" height="39.5" fill="none" stroke="#555" stroke-width="0.55"/>
</g>
<g>
<path d="M356.1,629.3V609.8M354.7,609.8h2.8M378.6,630.4V610.1M377.2,610.1h2.8M389.9,638.3V630.4M388.5,630.4h2.8" stroke="#444" stroke-width="0.5" fill="none"/>
<g stroke="#333" stroke-width="0.45"><rect x="353.5" y="629.3" width="5.3" height="14.7" fill="#ff0000"/><path d="M353.5,642.2h5.3" stroke="#222" stroke-opacity="0.75" stroke-width="0.6"/><path d="M364.7,644.3h5.3" stroke="#3a3a3a" stroke-width="1.4"/><rect x="376" y="630.4" width="5.3" height="13.6" fill="#ffa500"/><path d="M376,641.1h5.3" stroke="#222" stroke-opacity="0.75" stroke-width="0.6"/><rect x="387.3" y="638.3" width="5.3" height="6.1" fill="#9acd32"/><path d="M387.3,643.6h5.3" stroke="#222" stroke-opacity="0.75" stroke-width="0.6"/></g>
<path d="M356.1,609.8V609H367.3V609.8" stroke="#555" stroke-width="0.45" fill="none"/>
<g font-size="3.5" text-anchor="middle" fill="#1a1a1a"><text x="361.7" y="609.9">***</text></g>
<path d="M340.4,609.2H341.6M340.4,626.9H341.6M340.4,644.7H341.6M356.1,646.4v1.2M367.3,646.4v1.2M378.6,646.4v1.2M389.9,646.4v1.2" stroke="#555" stroke-width="0.4" fill="none"/>
<g font-size="4.1" text-anchor="middle" fill="#0a0a0a"><text x="339.2" y="610.6" text-anchor="end">2</text><text x="339.2" y="628.4" text-anchor="end">1</text><text x="339.2" y="646.1" text-anchor="end">0</text><text x="355.5" y="652.4">-0.6</text><text x="366.7" y="652.4">-0.2</text><text x="378" y="652.4">0.2</text><text x="389.3" y="652.4">0.6</text></g>
<rect x="341.6" y="606.9" width="62.7" height="39.5" fill="none" stroke="#555" stroke-width="0.55"/>
</g>
<g>
<path d="M356.1,678.7V661.6M354.7,661.6h2.8M367.3,689V682.8M365.9,682.8h2.8M367.3,695.5V696.6M365.9,696.6h2.8M378.6,689.6V682.8M377.2,682.8h2.8M378.6,696V696.6M377.2,696.6h2.8M389.9,692V687M388.5,687h2.8M389.9,696V696.6M388.5,696.6h2.8" stroke="#444" stroke-width="0.5" fill="none"/>
<g stroke="#333" stroke-width="0.45"><rect x="353.5" y="678.7" width="5.3" height="17.3" fill="#ff0000"/><path d="M353.5,693.1h5.3" stroke="#222" stroke-opacity="0.75" stroke-width="0.6"/><rect x="364.7" y="689" width="5.3" height="6.6" fill="#00c5cd"/><path d="M364.7,693.8h5.3" stroke="#222" stroke-opacity="0.75" stroke-width="0.6"/><rect x="376" y="689.6" width="5.3" height="6.3" fill="#ffa500"/><path d="M376,694.4h5.3" stroke="#222" stroke-opacity="0.75" stroke-width="0.6"/><rect x="387.3" y="692" width="5.3" height="3.9" fill="#9acd32"/><path d="M387.3,694.9h5.3" stroke="#222" stroke-opacity="0.75" stroke-width="0.6"/></g>
<path d="M356.1,661.2V660.5H389.9V661.2M356.1,662.3V661.6H378.6V662.3" stroke="#555" stroke-width="0.45" fill="none"/>
<g font-size="3.5" text-anchor="middle" fill="#1a1a1a"><text x="373" y="661.4">*</text><text x="367.4" y="662.5">*</text></g>
<path d="M340.4,662H341.6M340.4,679.3H341.6M340.4,696.6H341.6M356.1,698.2v1.2M367.3,698.2v1.2M378.6,698.2v1.2M389.9,698.2v1.2" stroke="#555" stroke-width="0.4" fill="none"/>
<g font-size="4.1" text-anchor="middle" fill="#0a0a0a"><text x="339.2" y="663.5" text-anchor="end">10</text><text x="339.2" y="680.8" text-anchor="end">5</text><text x="339.2" y="698.1" text-anchor="end">0</text><text x="355.5" y="704.2">-0.6</text><text x="366.7" y="704.2">-0.2</text><text x="378" y="704.2">0.2</text><text x="389.3" y="704.2">0.6</text></g>
<rect x="341.6" y="658.8" width="62.7" height="39.5" fill="none" stroke="#555" stroke-width="0.55"/>
</g>
<g>
<path d="M356.1,724.7V714.6M354.7,714.6h2.8M378.6,726.2V714.6M377.2,714.6h2.8M389.9,724.4V714.6M388.5,714.6h2.8" stroke="#444" stroke-width="0.5" fill="none"/>
<g stroke="#333" stroke-width="0.45"><rect x="353.5" y="724.7" width="5.3" height="23.4" fill="#ff0000"/><path d="M353.5,742.4h5.3" stroke="#222" stroke-opacity="0.75" stroke-width="0.6"/><rect x="364.7" y="747.4" width="5.3" height="1.3" fill="#00c5cd"/><rect x="376" y="726.2" width="5.3" height="21.9" fill="#ffa500"/><path d="M376,741.3h5.3" stroke="#222" stroke-opacity="0.75" stroke-width="0.6"/><rect x="387.3" y="724.4" width="5.3" height="23.6" fill="#9acd32"/><path d="M387.3,743.1h5.3" stroke="#222" stroke-opacity="0.75" stroke-width="0.6"/></g>
<path d="M356.1,714.2V712.8H367.3V714.2" stroke="#555" stroke-width="0.45" fill="none"/>
<g font-size="3.5" text-anchor="middle" fill="#1a1a1a"><text x="361.7" y="713.7">***</text></g>
<path d="M340.4,714.6H341.6M340.4,731.5H341.6M340.4,748.5H341.6M356.1,750.1v1.2M367.3,750.1v1.2M378.6,750.1v1.2M389.9,750.1v1.2" stroke="#555" stroke-width="0.4" fill="none"/>
<g font-size="4.1" text-anchor="middle" fill="#0a0a0a"><text x="339.2" y="716" text-anchor="end">1.0</text><text x="339.2" y="732.9" text-anchor="end">0.5</text><text x="339.2" y="750" text-anchor="end">0.0</text><text x="355.5" y="756.1">-0.6</text><text x="366.7" y="756.1">-0.2</text><text x="378" y="756.1">0.2</text><text x="389.3" y="756.1">0.6</text></g>
<rect x="341.6" y="710.6" width="62.7" height="39.5" fill="none" stroke="#555" stroke-width="0.55"/>
</g>
<g>
<path d="M356.1,785.5V776.6M354.7,776.6h2.8M356.1,791V795M354.7,795h2.8M367.3,790.4V783.6M365.9,783.6h2.8M367.3,795.4V796M365.9,796h2.8M378.6,786.9V780.5M377.2,780.5h2.8M378.6,792.1V795.6M377.2,795.6h2.8M389.9,782V767.8M388.5,767.8h2.8M389.9,792.8V800.6M388.5,800.6h2.8" stroke="#444" stroke-width="0.5" fill="none"/>
<g stroke="#333" stroke-width="0.45"><rect x="353.5" y="785.5" width="5.3" height="5.5" fill="#ff0000"/><path d="M353.5,788.2h5.3" stroke="#222" stroke-opacity="0.75" stroke-width="0.6"/><rect x="364.7" y="790.4" width="5.3" height="5" fill="#00c5cd"/><path d="M364.7,793.4h5.3" stroke="#222" stroke-opacity="0.75" stroke-width="0.6"/><rect x="376" y="786.9" width="5.3" height="5.3" fill="#ffa500"/><path d="M376,789.3h5.3" stroke="#222" stroke-opacity="0.75" stroke-width="0.6"/><rect x="387.3" y="782" width="5.3" height="10.7" fill="#9acd32"/><path d="M387.3,787.9h5.3" stroke="#222" stroke-opacity="0.75" stroke-width="0.6"/></g>
<path d="M356.1,767.8V765H367.3V767.8" stroke="#555" stroke-width="0.45" fill="none"/>
<g font-size="3.5" text-anchor="middle" fill="#1a1a1a"><text x="361.7" y="767.9">***</text></g>
<path d="M340.4,771.3H341.6M340.4,784.2H341.6M340.4,797.1H341.6M356.1,802v1.2M367.3,802v1.2M378.6,802v1.2M389.9,802v1.2" stroke="#555" stroke-width="0.4" fill="none"/>
<g font-size="4.1" text-anchor="middle" fill="#0a0a0a"><text x="339.2" y="772.8" text-anchor="end">0.8</text><text x="339.2" y="785.7" text-anchor="end">0.6</text><text x="339.2" y="798.6" text-anchor="end">0.4</text><text x="355.5" y="808">-0.6</text><text x="366.7" y="808">-0.2</text><text x="378" y="808">0.2</text><text x="389.3" y="808">0.6</text></g>
<rect x="341.6" y="762.5" width="62.7" height="39.5" fill="none" stroke="#555" stroke-width="0.55"/>
</g>
<g>
<path d="M356.1,835.7V823M354.7,823h2.8M378.6,840.9V826.5M377.2,826.5h2.8M378.6,850.8V852.1M377.2,852.1h2.8M389.9,837.2V823M388.5,823h2.8M389.9,850.4V852.1M388.5,852.1h2.8" stroke="#444" stroke-width="0.5" fill="none"/>
<g stroke="#333" stroke-width="0.45"><rect x="353.5" y="835.7" width="5.3" height="16.4" fill="#ff0000"/><path d="M353.5,848.8h5.3" stroke="#222" stroke-opacity="0.75" stroke-width="0.6"/><path d="M364.7,852.1h5.3" stroke="#4a4a4a" stroke-width="0.9"/><rect x="376" y="840.9" width="5.3" height="9.9" fill="#ffa500"/><path d="M376,847.3h5.3" stroke="#222" stroke-opacity="0.75" stroke-width="0.6"/><rect x="387.3" y="837.2" width="5.3" height="13.1" fill="#9acd32"/><path d="M387.3,844.2h5.3" stroke="#222" stroke-opacity="0.75" stroke-width="0.6"/></g>
<path d="M356.1,823V816.8H367.3V823" stroke="#555" stroke-width="0.45" fill="none"/>
<g font-size="3.5" text-anchor="middle" fill="#1a1a1a"><text x="361.7" y="822.4">**</text></g>
<path d="M340.4,826.5H341.6M340.4,839.4H341.6M340.4,852.1H341.6M356.1,853.9v1.2M367.3,853.9v1.2M378.6,853.9v1.2M389.9,853.9v1.2" stroke="#555" stroke-width="0.4" fill="none"/>
<g font-size="4.1" text-anchor="middle" fill="#0a0a0a"><text x="339.2" y="827.9" text-anchor="end">0.2</text><text x="339.2" y="840.9" text-anchor="end">0.1</text><text x="339.2" y="853.6" text-anchor="end">0.0</text><text x="355.5" y="859.9">-0.6</text><text x="366.7" y="859.9">-0.2</text><text x="378" y="859.9">0.2</text><text x="389.3" y="859.9">0.6</text></g>
<rect x="341.6" y="814.4" width="62.7" height="39.5" fill="none" stroke="#555" stroke-width="0.55"/>
</g>
<g>
<path d="M356.1,889.1V881M354.7,881h2.8M356.1,894.8V898.7M354.7,898.7h2.8M367.3,894.1V887.6M365.9,887.6h2.8M367.3,899.2V899.8M365.9,899.8h2.8M378.6,890.9V884.3M377.2,884.3h2.8M378.6,895.7V899.2M377.2,899.2h2.8M389.9,885.8V871.6M388.5,871.6h2.8M389.9,896.6V904M388.5,904h2.8" stroke="#444" stroke-width="0.5" fill="none"/>
<g stroke="#333" stroke-width="0.45"><rect x="353.5" y="889.1" width="5.3" height="5.7" fill="#ff0000"/><path d="M353.5,892h5.3" stroke="#222" stroke-opacity="0.75" stroke-width="0.6"/><rect x="364.7" y="894.1" width="5.3" height="5" fill="#00c5cd"/><path d="M364.7,897h5.3" stroke="#222" stroke-opacity="0.75" stroke-width="0.6"/><rect x="376" y="890.9" width="5.3" height="4.8" fill="#ffa500"/><path d="M376,893h5.3" stroke="#222" stroke-opacity="0.75" stroke-width="0.6"/><rect x="387.3" y="885.8" width="5.3" height="10.7" fill="#9acd32"/><path d="M387.3,892.2h5.3" stroke="#222" stroke-opacity="0.75" stroke-width="0.6"/></g>
<path d="M356.1,871.6V868.5H367.3V871.6" stroke="#555" stroke-width="0.45" fill="none"/>
<g font-size="3.5" text-anchor="middle" fill="#1a1a1a"><text x="361.7" y="871.4">***</text></g>
<path d="M340.4,875.1H341.6M340.4,888H341.6M340.4,900.9H341.6M356.1,905.7v1.2M367.3,905.7v1.2M378.6,905.7v1.2M389.9,905.7v1.2" stroke="#555" stroke-width="0.4" fill="none"/>
<g font-size="4.1" text-anchor="middle" fill="#0a0a0a"><text x="339.2" y="876.5" text-anchor="end">0.8</text><text x="339.2" y="889.5" text-anchor="end">0.6</text><text x="339.2" y="902.4" text-anchor="end">0.4</text><text x="355.5" y="911.7">-0.6</text><text x="366.7" y="911.7">-0.2</text><text x="378" y="911.7">0.2</text><text x="389.3" y="911.7">0.6</text></g>
<rect x="341.6" y="866.2" width="62.7" height="39.5" fill="none" stroke="#555" stroke-width="0.55"/>
</g>
<g>
<g fill="#00c5cd"><polyline points="344.5,920.4 350.8,955.8 357.1,955.8 363.3,955.8 369.6,955.8 375.9,955.8 382.2,955.8 388.4,955.8 394.7,955.8 401,955.8" fill="none" stroke="#00c5cd" stroke-width="0.7"/>
<circle cx="344.5" cy="920.4" r="1.15"/><circle cx="350.8" cy="955.8" r="1.15"/><circle cx="357.1" cy="955.8" r="1.15"/><circle cx="363.3" cy="955.8" r="1.15"/><circle cx="369.6" cy="955.8" r="1.15"/><circle cx="375.9" cy="955.8" r="1.15"/><circle cx="382.2" cy="955.8" r="1.15"/><circle cx="388.4" cy="955.8" r="1.15"/><circle cx="394.7" cy="955.8" r="1.15"/><circle cx="401" cy="955.8" r="1.15"/></g>
<g fill="#ffa500"><polyline points="344.5,920.4 350.8,939.7 357.1,939.7 363.3,939.7 369.6,939.7 375.9,939.7 382.2,939.7 388.4,939.7 394.7,939.7 401,939.7" fill="none" stroke="#ffa500" stroke-width="0.7"/>
<circle cx="344.5" cy="920.4" r="1.15"/><circle cx="350.8" cy="939.7" r="1.15"/><circle cx="357.1" cy="939.7" r="1.15"/><circle cx="363.3" cy="939.7" r="1.15"/><circle cx="369.6" cy="939.7" r="1.15"/><circle cx="375.9" cy="939.7" r="1.15"/><circle cx="382.2" cy="939.7" r="1.15"/><circle cx="388.4" cy="939.7" r="1.15"/><circle cx="394.7" cy="939.7" r="1.15"/><circle cx="401" cy="939.7" r="1.15"/></g>
<g fill="#ff0000"><polyline points="344.5,920.4 350.8,942.9 357.1,942.9 363.3,942.9 369.6,942.9 375.9,942.9 382.2,942.9 388.4,942.9 394.7,942.9 401,942.9" fill="none" stroke="#ff0000" stroke-width="0.7"/>
<circle cx="344.5" cy="920.4" r="1.15"/><circle cx="350.8" cy="942.9" r="1.15"/><circle cx="357.1" cy="942.9" r="1.15"/><circle cx="363.3" cy="942.9" r="1.15"/><circle cx="369.6" cy="942.9" r="1.15"/><circle cx="375.9" cy="942.9" r="1.15"/><circle cx="382.2" cy="942.9" r="1.15"/><circle cx="388.4" cy="942.9" r="1.15"/><circle cx="394.7" cy="942.9" r="1.15"/><circle cx="401" cy="942.9" r="1.15"/></g>
<g fill="#9acd32"><polyline points="344.5,920.4 350.8,928.3 357.1,928.3 363.3,928.3 369.6,928.3 375.9,928.3 382.2,928.3 388.4,928.6 394.7,928.6 401,928.6" fill="none" stroke="#9acd32" stroke-width="0.7"/>
<circle cx="344.5" cy="920.4" r="1.15"/><circle cx="350.8" cy="928.3" r="1.15"/><circle cx="357.1" cy="928.3" r="1.15"/><circle cx="363.3" cy="928.3" r="1.15"/><circle cx="369.6" cy="928.3" r="1.15"/><circle cx="375.9" cy="928.3" r="1.15"/><circle cx="382.2" cy="928.3" r="1.15"/><circle cx="388.4" cy="928.6" r="1.15"/><circle cx="394.7" cy="928.6" r="1.15"/><circle cx="401" cy="928.6" r="1.15"/></g>
<g font-size="4" fill="#111"><text x="344.2" y="929.7">P=0.056</text><text x="369.3" y="929.7">P=0.264</text><text x="395" y="929.7">P=0.001***</text></g>
<path d="M340.4,920.4H341.6M340.4,931.5H341.6M340.4,942.6H341.6M340.4,953.7H341.6M344.5,957.6v1.2M357.1,957.6v1.2M369.6,957.6v1.2M382.2,957.6v1.2M394.7,957.6v1.2" stroke="#555" stroke-width="0.4" fill="none"/>
<g font-size="4.1" text-anchor="middle" fill="#0a0a0a"><text x="339.2" y="921.9" text-anchor="end">1.00</text><text x="339.2" y="933" text-anchor="end">0.75</text><text x="339.2" y="944.1" text-anchor="end">0.50</text><text x="339.2" y="955.2" text-anchor="end">0.25</text><text x="344.5" y="963.6">0.0</text><text x="357.1" y="963.6">0.2</text><text x="369.6" y="963.6">0.4</text><text x="382.2" y="963.6">0.6</text><text x="394.7" y="963.6">0.8</text></g>
<rect x="341.6" y="918.1" width="62.7" height="39.5" fill="none" stroke="#555" stroke-width="0.55"/>
</g>
<g>
<path d="M446.5,422.8V408M445.1,408h2.8" stroke="#444" stroke-width="0.5" fill="none"/>
<g stroke="#333" stroke-width="0.45"><rect x="443.9" y="422.8" width="5.3" height="13.8" fill="#ff0000"/><path d="M443.9,433.8h5.3" stroke="#222" stroke-opacity="0.75" stroke-width="0.6"/><path d="M455.1,437.1h5.3" stroke="#4a4a4a" stroke-width="0.9"/><path d="M466.4,436.8h5.3" stroke="#3a3a3a" stroke-width="1.5"/><path d="M477.7,436.8h5.3" stroke="#3a3a3a" stroke-width="1.5"/></g>
<path d="M446.5,402.5V401.4H480.3V402.5M446.5,405.3V404.2H469V405.3M446.5,408.2V407.1H457.7V408.2" stroke="#555" stroke-width="0.45" fill="none"/>
<g font-size="3.5" text-anchor="middle" fill="#1a1a1a"><text x="463.4" y="402.3">****</text><text x="457.8" y="405.1">***</text><text x="452.1" y="408">***</text></g>
<path d="M430.8,408H432M430.8,422.4H432M430.8,437.1H432M446.5,438.9v1.2M457.7,438.9v1.2M469,438.9v1.2M480.3,438.9v1.2" stroke="#555" stroke-width="0.4" fill="none"/>
<g font-size="4.1" text-anchor="middle" fill="#0a0a0a"><text x="429.6" y="409.4" text-anchor="end">2</text><text x="429.6" y="423.9" text-anchor="end">1</text><text x="429.6" y="438.5" text-anchor="end">0</text><text x="445.9" y="444.9">-0.6</text><text x="457.1" y="444.9">-0.2</text><text x="468.4" y="444.9">0.2</text><text x="479.7" y="444.9">0.6</text></g>
<rect x="432" y="399.4" width="62.7" height="39.5" fill="none" stroke="#555" stroke-width="0.55"/>
</g>
<g>
<path d="M446.5,477.1V462.9M445.1,462.9h2.8M457.7,487.9V486.3M456.3,486.3h2.8" stroke="#444" stroke-width="0.5" fill="none"/>
<g stroke="#333" stroke-width="0.45"><rect x="443.9" y="477.1" width="5.3" height="11.8" fill="#ff0000"/><path d="M443.9,487.4h5.3" stroke="#222" stroke-opacity="0.75" stroke-width="0.6"/><rect x="455.1" y="487.9" width="5.3" height="1.3" fill="#00c5cd"/><rect x="466.4" y="487.9" width="5.3" height="1.3" fill="#ffa500"/><rect x="477.7" y="487.9" width="5.3" height="1.3" fill="#9acd32"/></g>
<path d="M446.5,454.6V453.5H480.3V454.6M446.5,459.2V458.1H469V459.2M446.5,463.4V462.3H457.7V463.4" stroke="#555" stroke-width="0.45" fill="none"/>
<g font-size="3.5" text-anchor="middle" fill="#1a1a1a"><text x="463.4" y="454.4">***</text><text x="457.8" y="459">**</text><text x="452.1" y="463.2">**</text></g>
<path d="M430.8,456.1H432M430.8,467.3H432M430.8,478.2H432M430.8,489.2H432M446.5,490.8v1.2M457.7,490.8v1.2M469,490.8v1.2M480.3,490.8v1.2" stroke="#555" stroke-width="0.4" fill="none"/>
<g font-size="4.1" text-anchor="middle" fill="#0a0a0a"><text x="429.6" y="457.6" text-anchor="end">1.5</text><text x="429.6" y="468.7" text-anchor="end">1.0</text><text x="429.6" y="479.7" text-anchor="end">0.5</text><text x="429.6" y="490.6" text-anchor="end">0.0</text><text x="445.9" y="496.8">-0.6</text><text x="457.1" y="496.8">-0.2</text><text x="468.4" y="496.8">0.2</text><text x="479.7" y="496.8">0.6</text></g>
<rect x="432" y="451.3" width="62.7" height="39.5" fill="none" stroke="#555" stroke-width="0.55"/>
</g>
<g>
<g fill="#00c5cd"><polyline points="434.9,505.2 441.2,506.9 447.5,507.1 453.7,507.4 460,507.6 466.3,508.2 472.5,509.3 478.8,510.2 485.1,514.8 491.3,520.9" fill="none" stroke="#00c5cd" stroke-width="0.7"/>
<circle cx="434.9" cy="505.2" r="1.15"/><circle cx="441.2" cy="506.9" r="1.15"/><circle cx="447.5" cy="507.1" r="1.15"/><circle cx="453.7" cy="507.4" r="1.15"/><circle cx="460" cy="507.6" r="1.15"/><circle cx="466.3" cy="508.2" r="1.15"/><circle cx="472.5" cy="509.3" r="1.15"/><circle cx="478.8" cy="510.2" r="1.15"/><circle cx="485.1" cy="514.8" r="1.15"/><circle cx="491.3" cy="520.9" r="1.15"/></g>
<g fill="#ffa500"><polyline points="434.9,505.2 441.2,510.4 447.5,510.4 453.7,510.4 460,510.4 466.3,510.4 472.5,510.4 478.8,511.7 485.1,514.2 491.3,517.7" fill="none" stroke="#ffa500" stroke-width="0.7"/>
<circle cx="434.9" cy="505.2" r="1.15"/><circle cx="441.2" cy="510.4" r="1.15"/><circle cx="447.5" cy="510.4" r="1.15"/><circle cx="453.7" cy="510.4" r="1.15"/><circle cx="460" cy="510.4" r="1.15"/><circle cx="466.3" cy="510.4" r="1.15"/><circle cx="472.5" cy="510.4" r="1.15"/><circle cx="478.8" cy="511.7" r="1.15"/><circle cx="485.1" cy="514.2" r="1.15"/><circle cx="491.3" cy="517.7" r="1.15"/></g>
<g fill="#ff0000"><polyline points="434.9,505.2 441.2,519.6 447.5,519.6 453.7,519.6 460,519.6 466.3,519.6 472.5,519.6 478.8,525.1 485.1,527.9 491.3,527.9" fill="none" stroke="#ff0000" stroke-width="0.7"/>
<circle cx="434.9" cy="505.2" r="1.15"/><circle cx="441.2" cy="519.6" r="1.15"/><circle cx="447.5" cy="519.6" r="1.15"/><circle cx="453.7" cy="519.6" r="1.15"/><circle cx="460" cy="519.6" r="1.15"/><circle cx="466.3" cy="519.6" r="1.15"/><circle cx="472.5" cy="519.6" r="1.15"/><circle cx="478.8" cy="525.1" r="1.15"/><circle cx="485.1" cy="527.9" r="1.15"/><circle cx="491.3" cy="527.9" r="1.15"/></g>
<g fill="#9acd32"><polyline points="434.9,505.2 441.2,535.6 447.5,536.5 453.7,536.5 460,538.9 466.3,538.9 472.5,540 478.8,540 485.1,540 491.3,541.1" fill="none" stroke="#9acd32" stroke-width="0.7"/>
<circle cx="434.9" cy="505.2" r="1.15"/><circle cx="441.2" cy="535.6" r="1.15"/><circle cx="447.5" cy="536.5" r="1.15"/><circle cx="453.7" cy="536.5" r="1.15"/><circle cx="460" cy="538.9" r="1.15"/><circle cx="466.3" cy="538.9" r="1.15"/><circle cx="472.5" cy="540" r="1.15"/><circle cx="478.8" cy="540" r="1.15"/><circle cx="485.1" cy="540" r="1.15"/><circle cx="491.3" cy="541.1" r="1.15"/></g>
<g font-size="4" fill="#111"><text x="434.8" y="515.6">P=0.021*</text><text x="459.8" y="515.6">P=0.018*</text><text x="484.8" y="515.6">P=0.009**</text></g>
<path d="M430.8,505.2H432M430.8,517.4H432M430.8,529.5H432M430.8,541.5H432M434.9,542.6v1.2M447.5,542.6v1.2M460,542.6v1.2M472.5,542.6v1.2M485.1,542.6v1.2" stroke="#555" stroke-width="0.4" fill="none"/>
<g font-size="4.1" text-anchor="middle" fill="#0a0a0a"><text x="429.6" y="506.6" text-anchor="end">1.00</text><text x="429.6" y="518.9" text-anchor="end">0.75</text><text x="429.6" y="530.9" text-anchor="end">0.50</text><text x="429.6" y="543" text-anchor="end">0.25</text><text x="434.9" y="548.6">0.0</text><text x="447.5" y="548.6">0.2</text><text x="460" y="548.6">0.4</text><text x="472.5" y="548.6">0.6</text><text x="485.1" y="548.6">0.8</text></g>
<rect x="432" y="503.1" width="62.7" height="39.5" fill="none" stroke="#555" stroke-width="0.55"/>
</g>
<g>
<path d="M446.5,567.4V559.3M445.1,559.3h2.8" stroke="#444" stroke-width="0.5" fill="none"/>
<g stroke="#333" stroke-width="0.45"><rect x="443.9" y="567.4" width="5.3" height="25.2" fill="#ff0000"/><path d="M443.9,591.7h5.3" stroke="#222" stroke-opacity="0.75" stroke-width="0.6"/><path d="M455.1,592.5h5.3" stroke="#3a3a3a" stroke-width="1.5"/><path d="M466.4,592.5h5.3" stroke="#3a3a3a" stroke-width="1.5"/><path d="M477.7,592.5h5.3" stroke="#3a3a3a" stroke-width="1.5"/></g>
<path d="M446.5,557.7V556.8H480.3V557.7M446.5,558.8V557.9H469V558.8M446.5,559.7V558.8H457.7V559.7" stroke="#555" stroke-width="0.45" fill="none"/>
<g font-size="3.5" text-anchor="middle" fill="#1a1a1a"><text x="463.4" y="557.7">*</text><text x="457.8" y="558.8">***</text><text x="452.1" y="559.7">****</text></g>
<path d="M430.8,560.4H432M430.8,571.3H432M430.8,582.2H432M430.8,593H432M446.5,594.5v1.2M457.7,594.5v1.2M469,594.5v1.2M480.3,594.5v1.2" stroke="#555" stroke-width="0.4" fill="none"/>
<g font-size="4.1" text-anchor="middle" fill="#0a0a0a"><text x="429.6" y="561.8" text-anchor="end">6</text><text x="429.6" y="572.8" text-anchor="end">4</text><text x="429.6" y="583.7" text-anchor="end">2</text><text x="429.6" y="594.4" text-anchor="end">0</text><text x="445.9" y="600.5">-0.6</text><text x="457.1" y="600.5">-0.2</text><text x="468.4" y="600.5">0.2</text><text x="479.7" y="600.5">0.6</text></g>
<rect x="432" y="555" width="62.7" height="39.5" fill="none" stroke="#555" stroke-width="0.55"/>
</g>
<g>
<path d="M446.5,632V618.4M445.1,618.4h2.8" stroke="#444" stroke-width="0.5" fill="none"/>
<g stroke="#333" stroke-width="0.45"><rect x="443.9" y="632" width="5.3" height="12.5" fill="#ff0000"/><path d="M443.9,642.9h5.3" stroke="#222" stroke-opacity="0.75" stroke-width="0.6"/><path d="M455.1,644.4h5.3" stroke="#3a3a3a" stroke-width="1.5"/><path d="M466.4,644.4h5.3" stroke="#3a3a3a" stroke-width="1.5"/><path d="M477.7,644.4h5.3" stroke="#3a3a3a" stroke-width="1.2"/></g>
<path d="M446.5,610.5V609.4H480.3V610.5M446.5,614.7V613.6H469V614.7M446.5,618.8V617.7H457.7V618.8" stroke="#555" stroke-width="0.45" fill="none"/>
<g font-size="3.5" text-anchor="middle" fill="#1a1a1a"><text x="463.4" y="610.3">****</text><text x="457.8" y="614.5">**</text><text x="452.1" y="618.6">***</text></g>
<path d="M430.8,612.7H432M430.8,623.4H432M430.8,634.1H432M430.8,644.7H432M446.5,646.4v1.2M457.7,646.4v1.2M469,646.4v1.2M480.3,646.4v1.2" stroke="#555" stroke-width="0.4" fill="none"/>
<g font-size="4.1" text-anchor="middle" fill="#0a0a0a"><text x="429.6" y="614.1" text-anchor="end">1.5</text><text x="429.6" y="624.9" text-anchor="end">1.0</text><text x="429.6" y="635.6" text-anchor="end">0.5</text><text x="429.6" y="646.1" text-anchor="end">0.0</text><text x="445.9" y="652.4">-0.6</text><text x="457.1" y="652.4">-0.2</text><text x="468.4" y="652.4">0.2</text><text x="479.7" y="652.4">0.6</text></g>
<rect x="432" y="606.9" width="62.7" height="39.5" fill="none" stroke="#555" stroke-width="0.55"/>
</g>
<g>
<path d="M446.5,665.8V661.4M445.1,661.4h2.8M446.5,694.4V696.6M445.1,696.6h2.8M457.7,687.2V672.6M456.3,672.6h2.8M469,680.9V661.6M467.6,661.6h2.8M469,693.8V696.6M467.6,696.6h2.8M480.3,682.4V670.4M478.9,670.4h2.8M480.3,693.8V696.6M478.9,696.6h2.8" stroke="#444" stroke-width="0.5" fill="none"/>
<g stroke="#333" stroke-width="0.45"><rect x="443.9" y="665.8" width="5.3" height="28.7" fill="#ff0000"/><path d="M443.9,689.9h5.3" stroke="#222" stroke-opacity="0.75" stroke-width="0.6"/><rect x="455.1" y="687.2" width="5.3" height="9.2" fill="#00c5cd"/><path d="M455.1,693.1h5.3" stroke="#222" stroke-opacity="0.75" stroke-width="0.6"/><rect x="466.4" y="680.9" width="5.3" height="12.9" fill="#ffa500"/><path d="M466.4,689.4h5.3" stroke="#222" stroke-opacity="0.75" stroke-width="0.6"/><rect x="477.7" y="682.4" width="5.3" height="11.4" fill="#9acd32"/><path d="M477.7,690.3h5.3" stroke="#222" stroke-opacity="0.75" stroke-width="0.6"/></g>
<path d="M446.5,661.4V660.5H457.7V661.4" stroke="#555" stroke-width="0.45" fill="none"/>
<g font-size="3.5" text-anchor="middle" fill="#1a1a1a"><text x="452.1" y="661.4">*</text></g>
<path d="M430.8,670.4H432M430.8,683.5H432M430.8,696.6H432M446.5,698.2v1.2M457.7,698.2v1.2M469,698.2v1.2M480.3,698.2v1.2" stroke="#555" stroke-width="0.4" fill="none"/>
<g font-size="4.1" text-anchor="middle" fill="#0a0a0a"><text x="429.6" y="671.8" text-anchor="end">2</text><text x="429.6" y="685" text-anchor="end">1</text><text x="429.6" y="698.1" text-anchor="end">0</text><text x="445.9" y="704.2">-0.6</text><text x="457.1" y="704.2">-0.2</text><text x="468.4" y="704.2">0.2</text><text x="479.7" y="704.2">0.6</text></g>
<rect x="432" y="658.8" width="62.7" height="39.5" fill="none" stroke="#555" stroke-width="0.55"/>
</g>
<g>
<path d="M457.7,741.5V731.5M456.3,731.5h2.8M469,743.1V736.9M467.6,736.9h2.8M480.3,732.5V712.8M478.9,712.8h2.8" stroke="#444" stroke-width="0.5" fill="none"/>
<g stroke="#333" stroke-width="0.45"><rect x="443.9" y="731.5" width="5.3" height="17.1" fill="#ff0000"/><path d="M443.9,747.2h5.3" stroke="#222" stroke-opacity="0.75" stroke-width="0.6"/><rect x="455.1" y="741.5" width="5.3" height="7" fill="#00c5cd"/><path d="M455.1,747.2h5.3" stroke="#222" stroke-opacity="0.75" stroke-width="0.6"/><rect x="466.4" y="743.1" width="5.3" height="5.5" fill="#ffa500"/><path d="M466.4,745.9h5.3" stroke="#222" stroke-opacity="0.75" stroke-width="0.6"/><rect x="477.7" y="732.5" width="5.3" height="16" fill="#9acd32"/><path d="M477.7,743.5h5.3" stroke="#222" stroke-opacity="0.75" stroke-width="0.6"/></g>
<path d="M430.8,720.3H432M430.8,734.3H432M430.8,748.5H432M446.5,750.1v1.2M457.7,750.1v1.2M469,750.1v1.2M480.3,750.1v1.2" stroke="#555" stroke-width="0.4" fill="none"/>
<g font-size="4.1" text-anchor="middle" fill="#0a0a0a"><text x="429.6" y="721.7" text-anchor="end">0.2</text><text x="429.6" y="735.8" text-anchor="end">0.1</text><text x="429.6" y="750" text-anchor="end">0.0</text><text x="445.9" y="756.1">-0.6</text><text x="457.1" y="756.1">-0.2</text><text x="468.4" y="756.1">0.2</text><text x="479.7" y="756.1">0.6</text></g>
<rect x="432" y="710.6" width="62.7" height="39.5" fill="none" stroke="#555" stroke-width="0.55"/>
</g>
<g>
<path d="M446.5,790.8V788.6M445.1,788.6h2.8M446.5,794.1V795M445.1,795h2.8M457.7,792.1V787.9M456.3,787.9h2.8M457.7,795V798.9M456.3,798.9h2.8M469,791.4V786.4M467.6,786.4h2.8M469,795.2V800.4M467.6,800.4h2.8M480.3,791.7V785.8M478.9,785.8h2.8M480.3,795.6V800.6M478.9,800.6h2.8" stroke="#444" stroke-width="0.5" fill="none"/>
<g stroke="#333" stroke-width="0.45"><rect x="443.9" y="790.8" width="5.3" height="3.3" fill="#ff0000"/><path d="M443.9,792.3h5.3" stroke="#222" stroke-opacity="0.75" stroke-width="0.6"/><rect x="455.1" y="792.1" width="5.3" height="2.8" fill="#00c5cd"/><path d="M455.1,793.4h5.3" stroke="#222" stroke-opacity="0.75" stroke-width="0.6"/><rect x="466.4" y="791.4" width="5.3" height="3.7" fill="#ffa500"/><path d="M466.4,793.4h5.3" stroke="#222" stroke-opacity="0.75" stroke-width="0.6"/><rect x="477.7" y="791.7" width="5.3" height="3.9" fill="#9acd32"/><path d="M477.7,793.6h5.3" stroke="#222" stroke-opacity="0.75" stroke-width="0.6"/></g>
<path d="M446.5,766.7V765.4H480.3V766.7M446.5,775.9V774.6H469V775.9M446.5,784.9V783.6H457.7V784.9" stroke="#555" stroke-width="0.45" fill="none"/>
<g font-size="3.5" text-anchor="middle" fill="#1a1a1a"><text x="463.4" y="766.3">*</text><text x="457.8" y="775.5">*</text><text x="452.1" y="784.5">*</text></g>
<path d="M430.8,770H432M430.8,781.6H432M430.8,793.2H432M446.5,802v1.2M457.7,802v1.2M469,802v1.2M480.3,802v1.2" stroke="#555" stroke-width="0.4" fill="none"/>
<g font-size="4.1" text-anchor="middle" fill="#0a0a0a"><text x="429.6" y="771.4" text-anchor="end">1.00</text><text x="429.6" y="783" text-anchor="end">0.75</text><text x="429.6" y="794.7" text-anchor="end">0.50</text><text x="445.9" y="808">-0.6</text><text x="457.1" y="808">-0.2</text><text x="468.4" y="808">0.2</text><text x="479.7" y="808">0.6</text></g>
<rect x="432" y="762.5" width="62.7" height="39.5" fill="none" stroke="#555" stroke-width="0.55"/>
</g>
<g>
<path d="M446.5,849.5V846.4M445.1,846.4h2.8" stroke="#444" stroke-width="0.5" fill="none"/>
<g stroke="#333" stroke-width="0.45"><rect x="443.9" y="849.5" width="5.3" height="3.1" fill="#ff0000"/><path d="M455.1,852.1h5.3" stroke="#4a4a4a" stroke-width="0.9"/><path d="M466.4,852.1h5.3" stroke="#4a4a4a" stroke-width="0.9"/><path d="M477.7,852.1h5.3" stroke="#4a4a4a" stroke-width="0.9"/></g>
<path d="M446.5,819.7V817.5H480.3V819.7M446.5,832.4V830.2H469V832.4M446.5,846V843.3H457.7V846" stroke="#555" stroke-width="0.45" fill="none"/>
<g font-size="3.5" text-anchor="middle" fill="#1a1a1a"><text x="463.4" y="820.4">***</text><text x="457.8" y="833.1">***</text><text x="452.1" y="846.2">***</text></g>
<path d="M430.8,825.8H432M430.8,839H432M430.8,852.1H432M446.5,853.9v1.2M457.7,853.9v1.2M469,853.9v1.2M480.3,853.9v1.2" stroke="#555" stroke-width="0.4" fill="none"/>
<g font-size="4.1" text-anchor="middle" fill="#0a0a0a"><text x="429.6" y="827.3" text-anchor="end">0.4</text><text x="429.6" y="840.4" text-anchor="end">0.2</text><text x="429.6" y="853.6" text-anchor="end">0.0</text><text x="445.9" y="859.9">-0.6</text><text x="457.1" y="859.9">-0.2</text><text x="468.4" y="859.9">0.2</text><text x="479.7" y="859.9">0.6</text></g>
<rect x="432" y="814.4" width="62.7" height="39.5" fill="none" stroke="#555" stroke-width="0.55"/>
</g>
<g>
<path d="M446.5,894.6V892.4M445.1,892.4h2.8M446.5,897.9V899M445.1,899h2.8M457.7,895.9V892M456.3,892h2.8M457.7,898.5V902.5M456.3,902.5h2.8M469,895.2V890.2M467.6,890.2h2.8M469,899V904M467.6,904h2.8M480.3,895.2V889.3M478.9,889.3h2.8M480.3,899.2V904M478.9,904h2.8" stroke="#444" stroke-width="0.5" fill="none"/>
<g stroke="#333" stroke-width="0.45"><rect x="443.9" y="894.6" width="5.3" height="3.3" fill="#ff0000"/><path d="M443.9,896.3h5.3" stroke="#222" stroke-opacity="0.75" stroke-width="0.6"/><rect x="455.1" y="895.9" width="5.3" height="2.6" fill="#00c5cd"/><path d="M455.1,897.2h5.3" stroke="#222" stroke-opacity="0.75" stroke-width="0.6"/><rect x="466.4" y="895.2" width="5.3" height="3.7" fill="#ffa500"/><path d="M466.4,897.2h5.3" stroke="#222" stroke-opacity="0.75" stroke-width="0.6"/><rect x="477.7" y="895.2" width="5.3" height="3.9" fill="#9acd32"/><path d="M477.7,897.4h5.3" stroke="#222" stroke-opacity="0.75" stroke-width="0.6"/></g>
<path d="M446.5,870.3V869H480.3V870.3M446.5,879.5V878.2H469V879.5M446.5,888.7V887.1H457.7V888.7" stroke="#555" stroke-width="0.45" fill="none"/>
<g font-size="3.5" text-anchor="middle" fill="#1a1a1a"><text x="463.4" y="869.9">*</text><text x="457.8" y="879.1">*</text><text x="452.1" y="888">*</text></g>
<path d="M430.8,873.6H432M430.8,885.4H432M430.8,897H432M446.5,905.7v1.2M457.7,905.7v1.2M469,905.7v1.2M480.3,905.7v1.2" stroke="#555" stroke-width="0.4" fill="none"/>
<g font-size="4.1" text-anchor="middle" fill="#0a0a0a"><text x="429.6" y="875" text-anchor="end">1.00</text><text x="429.6" y="886.8" text-anchor="end">0.75</text><text x="429.6" y="898.4" text-anchor="end">0.50</text><text x="445.9" y="911.7">-0.6</text><text x="457.1" y="911.7">-0.2</text><text x="468.4" y="911.7">0.2</text><text x="479.7" y="911.7">0.6</text></g>
<rect x="432" y="866.2" width="62.7" height="39.5" fill="none" stroke="#555" stroke-width="0.55"/>
</g>
<g>
<g fill="#00c5cd"><polyline points="434.9,920.4 441.2,955.5 447.5,955.5 453.7,955.5 460,955.5 466.3,955.5 472.5,955.5 478.8,955.5 485.1,955.5 491.3,955.5" fill="none" stroke="#00c5cd" stroke-width="0.7"/>
<circle cx="434.9" cy="920.4" r="1.15"/><circle cx="441.2" cy="955.5" r="1.15"/><circle cx="447.5" cy="955.5" r="1.15"/><circle cx="453.7" cy="955.5" r="1.15"/><circle cx="460" cy="955.5" r="1.15"/><circle cx="466.3" cy="955.5" r="1.15"/><circle cx="472.5" cy="955.5" r="1.15"/><circle cx="478.8" cy="955.5" r="1.15"/><circle cx="485.1" cy="955.5" r="1.15"/><circle cx="491.3" cy="955.5" r="1.15"/></g>
<g fill="#ffa500"><polyline points="434.9,920.4 441.2,954.4 447.5,954.4 453.7,954.4 460,954.4 466.3,954.4 472.5,954.7 478.8,954.7 485.1,955 491.3,955" fill="none" stroke="#ffa500" stroke-width="0.7"/>
<circle cx="434.9" cy="920.4" r="1.15"/><circle cx="441.2" cy="954.4" r="1.15"/><circle cx="447.5" cy="954.4" r="1.15"/><circle cx="453.7" cy="954.4" r="1.15"/><circle cx="460" cy="954.4" r="1.15"/><circle cx="466.3" cy="954.4" r="1.15"/><circle cx="472.5" cy="954.7" r="1.15"/><circle cx="478.8" cy="954.7" r="1.15"/><circle cx="485.1" cy="955" r="1.15"/><circle cx="491.3" cy="955" r="1.15"/></g>
<g fill="#ff0000"><polyline points="434.9,920.4 441.2,946.9 447.5,946.9 453.7,946.9 460,946.9 466.3,946.9 472.5,946.9 478.8,946.9 485.1,946.9 491.3,946.9" fill="none" stroke="#ff0000" stroke-width="0.7"/>
<circle cx="434.9" cy="920.4" r="1.15"/><circle cx="441.2" cy="946.9" r="1.15"/><circle cx="447.5" cy="946.9" r="1.15"/><circle cx="453.7" cy="946.9" r="1.15"/><circle cx="460" cy="946.9" r="1.15"/><circle cx="466.3" cy="946.9" r="1.15"/><circle cx="472.5" cy="946.9" r="1.15"/><circle cx="478.8" cy="946.9" r="1.15"/><circle cx="485.1" cy="946.9" r="1.15"/><circle cx="491.3" cy="946.9" r="1.15"/></g>
<g fill="#9acd32"><polyline points="434.9,920.4 441.2,955.8 447.5,955.8 453.7,955.8 460,955.8 466.3,955.8 472.5,955.8 478.8,955.8 485.1,955.8 491.3,955.8" fill="none" stroke="#9acd32" stroke-width="0.7"/>
<circle cx="434.9" cy="920.4" r="1.15"/><circle cx="441.2" cy="955.8" r="1.15"/><circle cx="447.5" cy="955.8" r="1.15"/><circle cx="453.7" cy="955.8" r="1.15"/><circle cx="460" cy="955.8" r="1.15"/><circle cx="466.3" cy="955.8" r="1.15"/><circle cx="472.5" cy="955.8" r="1.15"/><circle cx="478.8" cy="955.8" r="1.15"/><circle cx="485.1" cy="955.8" r="1.15"/><circle cx="491.3" cy="955.8" r="1.15"/></g>
<g font-size="4" fill="#111"><text x="434.4" y="928.2">P=0.0***</text><text x="459.5" y="928.2">P=0.011*</text><text x="484.7" y="928.2">P=0.007**</text></g>
<path d="M430.8,920.4H432M430.8,938.8H432M430.8,957.1H432M434.9,957.6v1.2M447.5,957.6v1.2M460,957.6v1.2M472.5,957.6v1.2M485.1,957.6v1.2" stroke="#555" stroke-width="0.4" fill="none"/>
<g font-size="4.1" text-anchor="middle" fill="#0a0a0a"><text x="429.6" y="921.8" text-anchor="end">1.0</text><text x="429.6" y="940.2" text-anchor="end">0.5</text><text x="429.6" y="958.6" text-anchor="end">0.0</text><text x="434.9" y="963.6">0.0</text><text x="447.5" y="963.6">0.2</text><text x="460" y="963.6">0.4</text><text x="472.5" y="963.6">0.6</text><text x="485.1" y="963.6">0.8</text></g>
<rect x="432" y="918.1" width="62.7" height="39.5" fill="none" stroke="#555" stroke-width="0.55"/>
</g>
<g>
<path d="M536.9,433.8V429.9M535.5,429.9h2.8M548.1,423.3V401.4M546.7,401.4h2.8M559.4,424.6V408.6M558,408.6h2.8M570.7,433.6V429.9M569.3,429.9h2.8" stroke="#444" stroke-width="0.5" fill="none"/>
<g stroke="#333" stroke-width="0.45"><rect x="534.2" y="433.8" width="5.3" height="3.3" fill="#ff0000"/><rect x="545.5" y="423.3" width="5.3" height="13.8" fill="#00c5cd"/><rect x="556.8" y="424.6" width="5.3" height="12.5" fill="#ffa500"/><rect x="568" y="433.6" width="5.3" height="3.5" fill="#9acd32"/></g>
<path d="M521.2,401.4H522.4M521.2,419.1H522.4M521.2,437.1H522.4M536.9,438.9v1.2M548.1,438.9v1.2M559.4,438.9v1.2M570.7,438.9v1.2" stroke="#555" stroke-width="0.4" fill="none"/>
<g font-size="4.1" text-anchor="middle" fill="#0a0a0a"><text x="520" y="402.8" text-anchor="end">0.010</text><text x="520" y="420.6" text-anchor="end">0.005</text><text x="520" y="438.5" text-anchor="end">0.000</text><text x="536.3" y="444.9">-0.6</text><text x="547.5" y="444.9">-0.2</text><text x="558.8" y="444.9">0.2</text><text x="570.1" y="444.9">0.6</text></g>
<rect x="522.4" y="399.4" width="62.7" height="39.5" fill="none" stroke="#555" stroke-width="0.55"/>
</g>
<g>
<path d="M536.9,473.4V468.4M535.5,468.4h2.8M548.1,478.2V462M546.7,462h2.8M559.4,474.5V453.5M558,453.5h2.8M570.7,481.1V478.2M569.3,478.2h2.8" stroke="#444" stroke-width="0.5" fill="none"/>
<g stroke="#333" stroke-width="0.45"><rect x="534.2" y="473.4" width="5.3" height="15.3" fill="#ff0000"/><path d="M534.2,485.7h5.3" stroke="#222" stroke-opacity="0.75" stroke-width="0.6"/><rect x="545.5" y="478.2" width="5.3" height="10.9" fill="#00c5cd"/><rect x="556.8" y="474.5" width="5.3" height="14.7" fill="#ffa500"/><path d="M556.8,481.3h5.3" stroke="#222" stroke-opacity="0.75" stroke-width="0.6"/><rect x="568" y="481.1" width="5.3" height="8.1" fill="#9acd32"/></g>
<path d="M521.2,461.4H522.4M521.2,475.2H522.4M521.2,489.2H522.4M536.9,490.8v1.2M548.1,490.8v1.2M559.4,490.8v1.2M570.7,490.8v1.2" stroke="#555" stroke-width="0.4" fill="none"/>
<g font-size="4.1" text-anchor="middle" fill="#0a0a0a"><text x="520" y="462.8" text-anchor="end">0.10</text><text x="520" y="476.6" text-anchor="end">0.05</text><text x="520" y="490.6" text-anchor="end">0.00</text><text x="536.3" y="496.8">-0.6</text><text x="547.5" y="496.8">-0.2</text><text x="558.8" y="496.8">0.2</text><text x="570.1" y="496.8">0.6</text></g>
<rect x="522.4" y="451.3" width="62.7" height="39.5" fill="none" stroke="#555" stroke-width="0.55"/>
</g>
<g>
<g fill="#00c5cd"><polyline points="525.3,505.2 531.6,507.8 537.8,507.8 544.1,507.8 550.4,507.8 556.6,507.8 562.9,508.2 569.2,510 575.5,514.2 581.7,521.8" fill="none" stroke="#00c5cd" stroke-width="0.7"/>
<circle cx="525.3" cy="505.2" r="1.15"/><circle cx="531.6" cy="507.8" r="1.15"/><circle cx="537.8" cy="507.8" r="1.15"/><circle cx="544.1" cy="507.8" r="1.15"/><circle cx="550.4" cy="507.8" r="1.15"/><circle cx="556.6" cy="507.8" r="1.15"/><circle cx="562.9" cy="508.2" r="1.15"/><circle cx="569.2" cy="510" r="1.15"/><circle cx="575.5" cy="514.2" r="1.15"/><circle cx="581.7" cy="521.8" r="1.15"/></g>
<g fill="#ffa500"><polyline points="525.3,505.2 531.6,513.7 537.8,513.7 544.1,514.2 550.4,514.2 556.6,515.5 562.9,517 569.2,518.3 575.5,518.5 581.7,520.5" fill="none" stroke="#ffa500" stroke-width="0.7"/>
<circle cx="525.3" cy="505.2" r="1.15"/><circle cx="531.6" cy="513.7" r="1.15"/><circle cx="537.8" cy="513.7" r="1.15"/><circle cx="544.1" cy="514.2" r="1.15"/><circle cx="550.4" cy="514.2" r="1.15"/><circle cx="556.6" cy="515.5" r="1.15"/><circle cx="562.9" cy="517" r="1.15"/><circle cx="569.2" cy="518.3" r="1.15"/><circle cx="575.5" cy="518.5" r="1.15"/><circle cx="581.7" cy="520.5" r="1.15"/></g>
<g fill="#ff0000"><polyline points="525.3,505.2 531.6,526.9 537.8,526.9 544.1,526.9 550.4,526.9 556.6,526.9 562.9,526.9 569.2,526.9 575.5,526.9 581.7,532.3" fill="none" stroke="#ff0000" stroke-width="0.7"/>
<circle cx="525.3" cy="505.2" r="1.15"/><circle cx="531.6" cy="526.9" r="1.15"/><circle cx="537.8" cy="526.9" r="1.15"/><circle cx="544.1" cy="526.9" r="1.15"/><circle cx="550.4" cy="526.9" r="1.15"/><circle cx="556.6" cy="526.9" r="1.15"/><circle cx="562.9" cy="526.9" r="1.15"/><circle cx="569.2" cy="526.9" r="1.15"/><circle cx="575.5" cy="526.9" r="1.15"/><circle cx="581.7" cy="532.3" r="1.15"/></g>
<g fill="#9acd32"><polyline points="525.3,505.2 531.6,535 537.8,540.9 544.1,540.9 550.4,540.9 556.6,540.9 562.9,540.9 569.2,540.9 575.5,540.9 581.7,540.9" fill="none" stroke="#9acd32" stroke-width="0.7"/>
<circle cx="525.3" cy="505.2" r="1.15"/><circle cx="531.6" cy="535" r="1.15"/><circle cx="537.8" cy="540.9" r="1.15"/><circle cx="544.1" cy="540.9" r="1.15"/><circle cx="550.4" cy="540.9" r="1.15"/><circle cx="556.6" cy="540.9" r="1.15"/><circle cx="562.9" cy="540.9" r="1.15"/><circle cx="569.2" cy="540.9" r="1.15"/><circle cx="575.5" cy="540.9" r="1.15"/><circle cx="581.7" cy="540.9" r="1.15"/></g>
<g font-size="4" fill="#111"><text x="525.4" y="513.2">P=0.023*</text><text x="550.4" y="513.2">P=0.088</text><text x="575.4" y="513.2">P=0.237</text></g>
<path d="M521.2,505.2H522.4M521.2,524H522.4M525.3,542.6v1.2M537.8,542.6v1.2M550.4,542.6v1.2M562.9,542.6v1.2M575.5,542.6v1.2" stroke="#555" stroke-width="0.4" fill="none"/>
<g font-size="4.1" text-anchor="middle" fill="#0a0a0a"><text x="520" y="506.6" text-anchor="end">1.0</text><text x="520" y="525.5" text-anchor="end">0.5</text><text x="525.3" y="548.6">0.0</text><text x="537.8" y="548.6">0.2</text><text x="550.4" y="548.6">0.4</text><text x="562.9" y="548.6">0.6</text><text x="575.5" y="548.6">0.8</text></g>
<rect x="522.4" y="503.1" width="62.7" height="39.5" fill="none" stroke="#555" stroke-width="0.55"/>
</g>
<g>
<path d="M536.9,580.1V579.2M535.5,579.2h2.8M536.9,588.6V591M535.5,591h2.8M548.1,575V557.5M546.7,557.5h2.8M548.1,588.2V593M546.7,593h2.8M559.4,579.8V569.5M558,569.5h2.8M559.4,587.5V591.9M558,591.9h2.8M570.7,572.4V564.5M569.3,564.5h2.8M570.7,585.5V591M569.3,591h2.8" stroke="#444" stroke-width="0.5" fill="none"/>
<g stroke="#333" stroke-width="0.45"><rect x="534.2" y="580.1" width="5.3" height="8.5" fill="#ff0000"/><path d="M534.2,584.4h5.3" stroke="#222" stroke-opacity="0.75" stroke-width="0.6"/><rect x="545.5" y="575" width="5.3" height="13.1" fill="#00c5cd"/><path d="M545.5,585.3h5.3" stroke="#222" stroke-opacity="0.75" stroke-width="0.6"/><rect x="556.8" y="579.8" width="5.3" height="7.7" fill="#ffa500"/><path d="M556.8,584.9h5.3" stroke="#222" stroke-opacity="0.75" stroke-width="0.6"/><rect x="568" y="572.4" width="5.3" height="13.1" fill="#9acd32"/><path d="M568,579.6h5.3" stroke="#222" stroke-opacity="0.75" stroke-width="0.6"/></g>
<path d="M521.2,558.2H522.4M521.2,575.7H522.4M521.2,593H522.4M536.9,594.5v1.2M548.1,594.5v1.2M559.4,594.5v1.2M570.7,594.5v1.2" stroke="#555" stroke-width="0.4" fill="none"/>
<g font-size="4.1" text-anchor="middle" fill="#0a0a0a"><text x="520" y="559.6" text-anchor="end">0.2</text><text x="520" y="577.1" text-anchor="end">0.1</text><text x="520" y="594.4" text-anchor="end">0.0</text><text x="536.3" y="600.5">-0.6</text><text x="547.5" y="600.5">-0.2</text><text x="558.8" y="600.5">0.2</text><text x="570.1" y="600.5">0.6</text></g>
<rect x="522.4" y="555" width="62.7" height="39.5" fill="none" stroke="#555" stroke-width="0.55"/>
</g>
<g>
<path d="M536.9,633.7V627.1M535.5,627.1h2.8M548.1,628.7V609.4M546.7,609.4h2.8M559.4,625.8V609.4M558,609.4h2.8M570.7,634.8V621.2M569.3,621.2h2.8" stroke="#444" stroke-width="0.5" fill="none"/>
<g stroke="#333" stroke-width="0.45"><rect x="534.2" y="633.7" width="5.3" height="10.9" fill="#ff0000"/><path d="M534.2,644h5.3" stroke="#222" stroke-opacity="0.75" stroke-width="0.6"/><rect x="545.5" y="628.7" width="5.3" height="16" fill="#00c5cd"/><rect x="556.8" y="625.8" width="5.3" height="18.8" fill="#ffa500"/><path d="M556.8,634.6h5.3" stroke="#222" stroke-opacity="0.75" stroke-width="0.6"/><rect x="568" y="634.8" width="5.3" height="9.9" fill="#9acd32"/></g>
<path d="M521.2,611.8H522.4M521.2,622.8H522.4M521.2,633.7H522.4M521.2,644.7H522.4M536.9,646.4v1.2M548.1,646.4v1.2M559.4,646.4v1.2M570.7,646.4v1.2" stroke="#555" stroke-width="0.4" fill="none"/>
<g font-size="4.1" text-anchor="middle" fill="#0a0a0a"><text x="520" y="613.3" text-anchor="end">0.075</text><text x="520" y="624.2" text-anchor="end">0.050</text><text x="520" y="635.2" text-anchor="end">0.025</text><text x="520" y="646.1" text-anchor="end">0.000</text><text x="536.3" y="652.4">-0.6</text><text x="547.5" y="652.4">-0.2</text><text x="558.8" y="652.4">0.2</text><text x="570.1" y="652.4">0.6</text></g>
<rect x="522.4" y="606.9" width="62.7" height="39.5" fill="none" stroke="#555" stroke-width="0.55"/>
</g>
<g>
<path d="M536.9,682.2V681.3M535.5,681.3h2.8M536.9,694.9V696.6M535.5,696.6h2.8M548.1,683.5V668.6M546.7,668.6h2.8M548.1,694.9V696.6M546.7,696.6h2.8M559.4,683.3V668.6M558,668.6h2.8M570.7,678.5V660.9M569.3,660.9h2.8M570.7,693.1V696.6M569.3,696.6h2.8" stroke="#444" stroke-width="0.5" fill="none"/>
<g stroke="#333" stroke-width="0.45"><rect x="534.2" y="682.2" width="5.3" height="12.7" fill="#ff0000"/><path d="M534.2,692.3h5.3" stroke="#222" stroke-opacity="0.75" stroke-width="0.6"/><rect x="545.5" y="683.5" width="5.3" height="11.4" fill="#00c5cd"/><path d="M545.5,691.2h5.3" stroke="#222" stroke-opacity="0.75" stroke-width="0.6"/><rect x="556.8" y="683.3" width="5.3" height="13.1" fill="#ffa500"/><path d="M556.8,691.2h5.3" stroke="#222" stroke-opacity="0.75" stroke-width="0.6"/><rect x="568" y="678.5" width="5.3" height="14.7" fill="#9acd32"/><path d="M568,687.2h5.3" stroke="#222" stroke-opacity="0.75" stroke-width="0.6"/></g>
<path d="M521.2,662.7H522.4M521.2,674.1H522.4M521.2,685.3H522.4M521.2,696.6H522.4M536.9,698.2v1.2M548.1,698.2v1.2M559.4,698.2v1.2M570.7,698.2v1.2" stroke="#555" stroke-width="0.4" fill="none"/>
<g font-size="4.1" text-anchor="middle" fill="#0a0a0a"><text x="520" y="664.1" text-anchor="end">3</text><text x="520" y="675.5" text-anchor="end">2</text><text x="520" y="686.7" text-anchor="end">1</text><text x="520" y="698.1" text-anchor="end">0</text><text x="536.3" y="704.2">-0.6</text><text x="547.5" y="704.2">-0.2</text><text x="558.8" y="704.2">0.2</text><text x="570.1" y="704.2">0.6</text></g>
<rect x="522.4" y="658.8" width="62.7" height="39.5" fill="none" stroke="#555" stroke-width="0.55"/>
</g>
<g>
<path d="M536.9,721.2V713.1M535.5,713.1h2.8M536.9,746.6V748.5M535.5,748.5h2.8M548.1,743.9V738M546.7,738h2.8M559.4,742.2V733.2M558,733.2h2.8M570.7,742.2V741.5M569.3,741.5h2.8" stroke="#444" stroke-width="0.5" fill="none"/>
<g stroke="#333" stroke-width="0.45"><rect x="534.2" y="721.2" width="5.3" height="25.4" fill="#ff0000"/><path d="M534.2,736.1h5.3" stroke="#222" stroke-opacity="0.75" stroke-width="0.6"/><rect x="545.5" y="743.9" width="5.3" height="4.6" fill="#00c5cd"/><path d="M545.5,746.8h5.3" stroke="#222" stroke-opacity="0.75" stroke-width="0.6"/><rect x="556.8" y="742.2" width="5.3" height="6.3" fill="#ffa500"/><path d="M556.8,746.3h5.3" stroke="#222" stroke-opacity="0.75" stroke-width="0.6"/><rect x="568" y="742.2" width="5.3" height="6.3" fill="#9acd32"/><path d="M568,745.9h5.3" stroke="#222" stroke-opacity="0.75" stroke-width="0.6"/></g>
<path d="M521.2,714.6H522.4M521.2,731.5H522.4M521.2,748.5H522.4M536.9,750.1v1.2M548.1,750.1v1.2M559.4,750.1v1.2M570.7,750.1v1.2" stroke="#555" stroke-width="0.4" fill="none"/>
<g font-size="4.1" text-anchor="middle" fill="#0a0a0a"><text x="520" y="716" text-anchor="end">0.4</text><text x="520" y="732.9" text-anchor="end">0.2</text><text x="520" y="750" text-anchor="end">0.0</text><text x="536.3" y="756.1">-0.6</text><text x="547.5" y="756.1">-0.2</text><text x="558.8" y="756.1">0.2</text><text x="570.1" y="756.1">0.6</text></g>
<rect x="522.4" y="710.6" width="62.7" height="39.5" fill="none" stroke="#555" stroke-width="0.55"/>
</g>
<g>
<path d="M536.9,776.3V775.9M535.5,775.9h2.8M536.9,788.2V800.6M535.5,800.6h2.8M548.1,782.3V776.3M546.7,776.3h2.8M548.1,787.9V794.1M546.7,794.1h2.8M559.4,780.7V771.1M558,771.1h2.8M559.4,788.6V799.8M558,799.8h2.8M570.7,778.3V765.4M569.3,765.4h2.8M570.7,790.4V797.4M569.3,797.4h2.8" stroke="#444" stroke-width="0.5" fill="none"/>
<g stroke="#333" stroke-width="0.45"><rect x="534.2" y="776.3" width="5.3" height="11.8" fill="#ff0000"/><path d="M534.2,783.1h5.3" stroke="#222" stroke-opacity="0.75" stroke-width="0.6"/><rect x="545.5" y="782.3" width="5.3" height="5.7" fill="#00c5cd"/><path d="M545.5,785.1h5.3" stroke="#222" stroke-opacity="0.75" stroke-width="0.6"/><rect x="556.8" y="780.7" width="5.3" height="7.9" fill="#ffa500"/><path d="M556.8,784.4h5.3" stroke="#222" stroke-opacity="0.75" stroke-width="0.6"/><rect x="568" y="778.3" width="5.3" height="12" fill="#9acd32"/><path d="M568,783.1h5.3" stroke="#222" stroke-opacity="0.75" stroke-width="0.6"/></g>
<path d="M521.2,775.5H522.4M521.2,794.5H522.4M536.9,802v1.2M548.1,802v1.2M559.4,802v1.2M570.7,802v1.2" stroke="#555" stroke-width="0.4" fill="none"/>
<g font-size="4.1" text-anchor="middle" fill="#0a0a0a"><text x="520" y="776.9" text-anchor="end">0.6</text><text x="520" y="796" text-anchor="end">0.4</text><text x="536.3" y="808">-0.6</text><text x="547.5" y="808">-0.2</text><text x="558.8" y="808">0.2</text><text x="570.1" y="808">0.6</text></g>
<rect x="522.4" y="762.5" width="62.7" height="39.5" fill="none" stroke="#555" stroke-width="0.55"/>
</g>
<g>
<g stroke="#333" stroke-width="0.45"><rect x="534.2" y="850.6" width="5.3" height="2" fill="#ff0000"/><path d="M545.5,852.1h5.3" stroke="#4a4a4a" stroke-width="0.9"/><path d="M556.8,852.1h5.3" stroke="#4a4a4a" stroke-width="0.9"/><path d="M568,852.1h5.3" stroke="#4a4a4a" stroke-width="0.9"/></g>
<path d="M536.9,823.6V816.8H570.7V823.6M536.9,851.4V843.8H548.1V851.4" stroke="#555" stroke-width="0.45" fill="none"/>
<g font-size="3.5" text-anchor="middle" fill="#1a1a1a"><text x="553.8" y="823.1">*</text><text x="542.5" y="850.7">***</text></g>
<path d="M521.2,825.2H522.4M521.2,838.5H522.4M521.2,852.1H522.4M536.9,853.9v1.2M548.1,853.9v1.2M559.4,853.9v1.2M570.7,853.9v1.2" stroke="#555" stroke-width="0.4" fill="none"/>
<g font-size="4.1" text-anchor="middle" fill="#0a0a0a"><text x="520" y="826.6" text-anchor="end">0.2</text><text x="520" y="840" text-anchor="end">0.1</text><text x="520" y="853.6" text-anchor="end">0.0</text><text x="536.3" y="859.9">-0.6</text><text x="547.5" y="859.9">-0.2</text><text x="558.8" y="859.9">0.2</text><text x="570.1" y="859.9">0.6</text></g>
<rect x="522.4" y="814.4" width="62.7" height="39.5" fill="none" stroke="#555" stroke-width="0.55"/>
</g>
<g>
<path d="M536.9,879.9V879.5M535.5,879.5h2.8M536.9,892V904M535.5,904h2.8M548.1,886.5V880.3M546.7,880.3h2.8M548.1,891.7V897.9M546.7,897.9h2.8M559.4,884.3V875.1M558,875.1h2.8M559.4,892.4V904M558,904h2.8M570.7,882.1V868.3M569.3,868.3h2.8M570.7,893.7V900.9M569.3,900.9h2.8" stroke="#444" stroke-width="0.5" fill="none"/>
<g stroke="#333" stroke-width="0.45"><rect x="534.2" y="879.9" width="5.3" height="12" fill="#ff0000"/><path d="M534.2,886.9h5.3" stroke="#222" stroke-opacity="0.75" stroke-width="0.6"/><rect x="545.5" y="886.5" width="5.3" height="5.3" fill="#00c5cd"/><path d="M545.5,889.1h5.3" stroke="#222" stroke-opacity="0.75" stroke-width="0.6"/><rect x="556.8" y="884.3" width="5.3" height="8.1" fill="#ffa500"/><path d="M556.8,888h5.3" stroke="#222" stroke-opacity="0.75" stroke-width="0.6"/><rect x="568" y="882.1" width="5.3" height="11.6" fill="#9acd32"/><path d="M568,886.9h5.3" stroke="#222" stroke-opacity="0.75" stroke-width="0.6"/></g>
<path d="M521.2,879.5H522.4M521.2,898.5H522.4M536.9,905.7v1.2M548.1,905.7v1.2M559.4,905.7v1.2M570.7,905.7v1.2" stroke="#555" stroke-width="0.4" fill="none"/>
<g font-size="4.1" text-anchor="middle" fill="#0a0a0a"><text x="520" y="880.9" text-anchor="end">0.6</text><text x="520" y="900" text-anchor="end">0.4</text><text x="536.3" y="911.7">-0.6</text><text x="547.5" y="911.7">-0.2</text><text x="558.8" y="911.7">0.2</text><text x="570.1" y="911.7">0.6</text></g>
<rect x="522.4" y="866.2" width="62.7" height="39.5" fill="none" stroke="#555" stroke-width="0.55"/>
</g>
<g>
<g fill="#00c5cd"><polyline points="525.3,920.4 531.6,955.8 537.8,955.8 544.1,955.8 550.4,955.8 556.6,955.8 562.9,955.8 569.2,955.8 575.5,955.8 581.7,955.8" fill="none" stroke="#00c5cd" stroke-width="0.7"/>
<circle cx="525.3" cy="920.4" r="1.15"/><circle cx="531.6" cy="955.8" r="1.15"/><circle cx="537.8" cy="955.8" r="1.15"/><circle cx="544.1" cy="955.8" r="1.15"/><circle cx="550.4" cy="955.8" r="1.15"/><circle cx="556.6" cy="955.8" r="1.15"/><circle cx="562.9" cy="955.8" r="1.15"/><circle cx="569.2" cy="955.8" r="1.15"/><circle cx="575.5" cy="955.8" r="1.15"/><circle cx="581.7" cy="955.8" r="1.15"/></g>
<g fill="#ffa500"><polyline points="525.3,920.4 531.6,952.5 537.8,952.5 544.1,952.5 550.4,952.5 556.6,952.5 562.9,952.5 569.2,952.5 575.5,952.5 581.7,952.5" fill="none" stroke="#ffa500" stroke-width="0.7"/>
<circle cx="525.3" cy="920.4" r="1.15"/><circle cx="531.6" cy="952.5" r="1.15"/><circle cx="537.8" cy="952.5" r="1.15"/><circle cx="544.1" cy="952.5" r="1.15"/><circle cx="550.4" cy="952.5" r="1.15"/><circle cx="556.6" cy="952.5" r="1.15"/><circle cx="562.9" cy="952.5" r="1.15"/><circle cx="569.2" cy="952.5" r="1.15"/><circle cx="575.5" cy="952.5" r="1.15"/><circle cx="581.7" cy="952.5" r="1.15"/></g>
<g fill="#ff0000"><polyline points="525.3,920.4 531.6,947.4 537.8,947.4 544.1,947.4 550.4,947.4 556.6,947.4 562.9,947.4 569.2,947.4 575.5,947.4 581.7,947.4" fill="none" stroke="#ff0000" stroke-width="0.7"/>
<circle cx="525.3" cy="920.4" r="1.15"/><circle cx="531.6" cy="947.4" r="1.15"/><circle cx="537.8" cy="947.4" r="1.15"/><circle cx="544.1" cy="947.4" r="1.15"/><circle cx="550.4" cy="947.4" r="1.15"/><circle cx="556.6" cy="947.4" r="1.15"/><circle cx="562.9" cy="947.4" r="1.15"/><circle cx="569.2" cy="947.4" r="1.15"/><circle cx="575.5" cy="947.4" r="1.15"/><circle cx="581.7" cy="947.4" r="1.15"/></g>
<g fill="#9acd32"><polyline points="525.3,920.4 531.6,948.2 537.8,948.2 544.1,948.2 550.4,948.2 556.6,948.2 562.9,948.2 569.2,948.2 575.5,948.2 581.7,948.5" fill="none" stroke="#9acd32" stroke-width="0.7"/>
<circle cx="525.3" cy="920.4" r="1.15"/><circle cx="531.6" cy="948.2" r="1.15"/><circle cx="537.8" cy="948.2" r="1.15"/><circle cx="544.1" cy="948.2" r="1.15"/><circle cx="550.4" cy="948.2" r="1.15"/><circle cx="556.6" cy="948.2" r="1.15"/><circle cx="562.9" cy="948.2" r="1.15"/><circle cx="569.2" cy="948.2" r="1.15"/><circle cx="575.5" cy="948.2" r="1.15"/><circle cx="581.7" cy="948.5" r="1.15"/></g>
<g font-size="4" fill="#111"><text x="524.8" y="928.2">P=0.009**</text><text x="549.9" y="928.2">P=0.187</text><text x="575.1" y="928.2">P=0.414</text></g>
<path d="M521.2,920.4H522.4M521.2,939.3H522.4M525.3,957.6v1.2M537.8,957.6v1.2M550.4,957.6v1.2M562.9,957.6v1.2M575.5,957.6v1.2" stroke="#555" stroke-width="0.4" fill="none"/>
<g font-size="4.1" text-anchor="middle" fill="#0a0a0a"><text x="520" y="921.8" text-anchor="end">1.0</text><text x="520" y="940.7" text-anchor="end">0.5</text><text x="525.3" y="963.6">0.0</text><text x="537.8" y="963.6">0.2</text><text x="550.4" y="963.6">0.4</text><text x="562.9" y="963.6">0.6</text><text x="575.5" y="963.6">0.8</text></g>
<rect x="522.4" y="918.1" width="62.7" height="39.5" fill="none" stroke="#555" stroke-width="0.55"/>
</g>
<g>
<path d="M638.5,435.8V434.9M637.1,434.9h2.8M649.8,422.8V401.4M648.4,401.4h2.8" stroke="#444" stroke-width="0.5" fill="none"/>
<g stroke="#333" stroke-width="0.45"><path d="M624.6,437.1h5.3" stroke="#4a4a4a" stroke-width="0.9"/><rect x="635.8" y="435.8" width="5.3" height="1.5" fill="#00c5cd"/><rect x="647.1" y="422.8" width="5.3" height="14.2" fill="#ffa500"/><path d="M658.4,437.1h5.3" stroke="#4a4a4a" stroke-width="0.9"/></g>
<path d="M611.6,410.8H612.8M611.6,423.9H612.8M611.6,437.1H612.8M627.3,438.9v1.2M638.5,438.9v1.2M649.8,438.9v1.2M661.1,438.9v1.2" stroke="#555" stroke-width="0.4" fill="none"/>
<g font-size="4.1" text-anchor="middle" fill="#0a0a0a"><text x="610.4" y="412.3" text-anchor="end">0.04</text><text x="610.4" y="425.4" text-anchor="end">0.02</text><text x="610.4" y="438.5" text-anchor="end">0.00</text><text x="626.7" y="444.9">-0.6</text><text x="637.9" y="444.9">-0.2</text><text x="649.2" y="444.9">0.2</text><text x="660.5" y="444.9">0.6</text></g>
<rect x="612.8" y="399.4" width="62.7" height="39.5" fill="none" stroke="#555" stroke-width="0.55"/>
</g>
<g>
<path d="M627.3,471.2V464.4M625.9,464.4h2.8M638.5,480V477.1M637.1,477.1h2.8M649.8,482.6V477.6M648.4,477.6h2.8M661.1,479.8V470.6M659.7,470.6h2.8" stroke="#444" stroke-width="0.5" fill="none"/>
<g stroke="#333" stroke-width="0.45"><rect x="624.6" y="471.2" width="5.3" height="18" fill="#ff0000"/><path d="M624.6,485.7h5.3" stroke="#222" stroke-opacity="0.75" stroke-width="0.6"/><rect x="635.8" y="480" width="5.3" height="9.2" fill="#00c5cd"/><rect x="647.1" y="482.6" width="5.3" height="6.6" fill="#ffa500"/><rect x="658.4" y="479.8" width="5.3" height="9.4" fill="#9acd32"/><path d="M658.4,487h5.3" stroke="#222" stroke-opacity="0.75" stroke-width="0.6"/></g>
<path d="M627.3,464.4V453.5H649.8V464.4" stroke="#555" stroke-width="0.45" fill="none"/>
<g font-size="3.5" text-anchor="middle" fill="#1a1a1a"><text x="638.5" y="464.3">*</text></g>
<path d="M611.6,455.3H612.8M611.6,466.4H612.8M611.6,477.8H612.8M611.6,489.2H612.8M627.3,490.8v1.2M638.5,490.8v1.2M649.8,490.8v1.2M661.1,490.8v1.2" stroke="#555" stroke-width="0.4" fill="none"/>
<g font-size="4.1" text-anchor="middle" fill="#0a0a0a"><text x="610.4" y="456.7" text-anchor="end">0.15</text><text x="610.4" y="467.9" text-anchor="end">0.10</text><text x="610.4" y="479.3" text-anchor="end">0.05</text><text x="610.4" y="490.6" text-anchor="end">0.00</text><text x="626.7" y="496.8">-0.6</text><text x="637.9" y="496.8">-0.2</text><text x="649.2" y="496.8">0.2</text><text x="660.5" y="496.8">0.6</text></g>
<rect x="612.8" y="451.3" width="62.7" height="39.5" fill="none" stroke="#555" stroke-width="0.55"/>
</g>
<g>
<g fill="#00c5cd"><polyline points="615.7,505.2 621.9,506.9 628.2,506.9 634.5,506.9 640.8,506.9 647,506.9 653.3,506.9 659.6,510 665.8,511.7 672.1,515.2" fill="none" stroke="#00c5cd" stroke-width="0.7"/>
<circle cx="615.7" cy="505.2" r="1.15"/><circle cx="621.9" cy="506.9" r="1.15"/><circle cx="628.2" cy="506.9" r="1.15"/><circle cx="634.5" cy="506.9" r="1.15"/><circle cx="640.8" cy="506.9" r="1.15"/><circle cx="647" cy="506.9" r="1.15"/><circle cx="653.3" cy="506.9" r="1.15"/><circle cx="659.6" cy="510" r="1.15"/><circle cx="665.8" cy="511.7" r="1.15"/><circle cx="672.1" cy="515.2" r="1.15"/></g>
<g fill="#ffa500"><polyline points="615.7,505.2 621.9,509.3 628.2,509.3 634.5,509.3 640.8,509.3 647,509.3 653.3,510 659.6,513.3 665.8,514.2 672.1,517.7" fill="none" stroke="#ffa500" stroke-width="0.7"/>
<circle cx="615.7" cy="505.2" r="1.15"/><circle cx="621.9" cy="509.3" r="1.15"/><circle cx="628.2" cy="509.3" r="1.15"/><circle cx="634.5" cy="509.3" r="1.15"/><circle cx="640.8" cy="509.3" r="1.15"/><circle cx="647" cy="509.3" r="1.15"/><circle cx="653.3" cy="510" r="1.15"/><circle cx="659.6" cy="513.3" r="1.15"/><circle cx="665.8" cy="514.2" r="1.15"/><circle cx="672.1" cy="517.7" r="1.15"/></g>
<g fill="#ff0000"><polyline points="615.7,505.2 621.9,525.5 628.2,525.5 634.5,525.5 640.8,525.5 647,525.5 653.3,525.5 659.6,525.5 665.8,529.3 672.1,533.4" fill="none" stroke="#ff0000" stroke-width="0.7"/>
<circle cx="615.7" cy="505.2" r="1.15"/><circle cx="621.9" cy="525.5" r="1.15"/><circle cx="628.2" cy="525.5" r="1.15"/><circle cx="634.5" cy="525.5" r="1.15"/><circle cx="640.8" cy="525.5" r="1.15"/><circle cx="647" cy="525.5" r="1.15"/><circle cx="653.3" cy="525.5" r="1.15"/><circle cx="659.6" cy="525.5" r="1.15"/><circle cx="665.8" cy="529.3" r="1.15"/><circle cx="672.1" cy="533.4" r="1.15"/></g>
<g fill="#9acd32"><polyline points="615.7,505.2 621.9,538.7 628.2,538.7 634.5,539.8 640.8,539.8 647,539.8 653.3,539.8 659.6,539.8 665.8,539.8 672.1,540.9" fill="none" stroke="#9acd32" stroke-width="0.7"/>
<circle cx="615.7" cy="505.2" r="1.15"/><circle cx="621.9" cy="538.7" r="1.15"/><circle cx="628.2" cy="538.7" r="1.15"/><circle cx="634.5" cy="539.8" r="1.15"/><circle cx="640.8" cy="539.8" r="1.15"/><circle cx="647" cy="539.8" r="1.15"/><circle cx="653.3" cy="539.8" r="1.15"/><circle cx="659.6" cy="539.8" r="1.15"/><circle cx="665.8" cy="539.8" r="1.15"/><circle cx="672.1" cy="540.9" r="1.15"/></g>
<g font-size="4" fill="#111"><text x="615.8" y="514.1">P=0.002**</text><text x="640.8" y="514.1">P=0.006**</text><text x="665.8" y="514.1">P=0.04*</text></g>
<path d="M611.6,505.2H612.8M611.6,515.2H612.8M611.6,525.3H612.8M611.6,535.2H612.8M615.7,542.6v1.2M628.2,542.6v1.2M640.8,542.6v1.2M653.3,542.6v1.2M665.8,542.6v1.2" stroke="#555" stroke-width="0.4" fill="none"/>
<g font-size="4.1" text-anchor="middle" fill="#0a0a0a"><text x="610.4" y="506.6" text-anchor="end">1.00</text><text x="610.4" y="516.7" text-anchor="end">0.75</text><text x="610.4" y="526.8" text-anchor="end">0.50</text><text x="610.4" y="536.6" text-anchor="end">0.25</text><text x="615.7" y="548.6">0.0</text><text x="628.2" y="548.6">0.2</text><text x="640.8" y="548.6">0.4</text><text x="653.3" y="548.6">0.6</text><text x="665.8" y="548.6">0.8</text></g>
<rect x="612.8" y="503.1" width="62.7" height="39.5" fill="none" stroke="#555" stroke-width="0.55"/>
</g>
<g>
<path d="M627.3,583.1V577.2M625.9,577.2h2.8M627.3,588.8V591M625.9,591h2.8M638.5,583.1V577.2M637.1,577.2h2.8M638.5,589.7V591.9M637.1,591.9h2.8M649.8,580.3V570.2M648.4,570.2h2.8M649.8,589.7V593M648.4,593h2.8M661.1,577.2V557.5M659.7,557.5h2.8M661.1,589.9V593M659.7,593h2.8" stroke="#444" stroke-width="0.5" fill="none"/>
<g stroke="#333" stroke-width="0.45"><rect x="624.6" y="583.1" width="5.3" height="5.7" fill="#ff0000"/><path d="M624.6,587.1h5.3" stroke="#222" stroke-opacity="0.75" stroke-width="0.6"/><rect x="635.8" y="583.1" width="5.3" height="6.6" fill="#00c5cd"/><path d="M635.8,588.6h5.3" stroke="#222" stroke-opacity="0.75" stroke-width="0.6"/><rect x="647.1" y="580.3" width="5.3" height="9.4" fill="#ffa500"/><path d="M647.1,587.5h5.3" stroke="#222" stroke-opacity="0.75" stroke-width="0.6"/><rect x="658.4" y="577.2" width="5.3" height="12.7" fill="#9acd32"/><path d="M658.4,588.8h5.3" stroke="#222" stroke-opacity="0.75" stroke-width="0.6"/></g>
<path d="M611.6,573.5H612.8M611.6,593H612.8M627.3,594.5v1.2M638.5,594.5v1.2M649.8,594.5v1.2M661.1,594.5v1.2" stroke="#555" stroke-width="0.4" fill="none"/>
<g font-size="4.1" text-anchor="middle" fill="#0a0a0a"><text x="610.4" y="574.9" text-anchor="end">0.2</text><text x="610.4" y="594.4" text-anchor="end">0.0</text><text x="626.7" y="600.5">-0.6</text><text x="637.9" y="600.5">-0.2</text><text x="649.2" y="600.5">0.2</text><text x="660.5" y="600.5">0.6</text></g>
<rect x="612.8" y="555" width="62.7" height="39.5" fill="none" stroke="#555" stroke-width="0.55"/>
</g>
<g>
<path d="M638.5,626.9V618.4M637.1,618.4h2.8M649.8,629.8V609.4M648.4,609.4h2.8M661.1,634.6V623.4M659.7,623.4h2.8" stroke="#444" stroke-width="0.5" fill="none"/>
<g stroke="#333" stroke-width="0.45"><rect x="624.6" y="636.6" width="5.3" height="8.1" fill="#ff0000"/><rect x="635.8" y="626.9" width="5.3" height="17.7" fill="#00c5cd"/><rect x="647.1" y="629.8" width="5.3" height="14.9" fill="#ffa500"/><rect x="658.4" y="634.6" width="5.3" height="10.1" fill="#9acd32"/><path d="M658.4,639.6h5.3" stroke="#222" stroke-opacity="0.75" stroke-width="0.6"/></g>
<path d="M611.6,611.2H612.8M611.6,622.3H612.8M611.6,633.5H612.8M611.6,644.7H612.8M627.3,646.4v1.2M638.5,646.4v1.2M649.8,646.4v1.2M661.1,646.4v1.2" stroke="#555" stroke-width="0.4" fill="none"/>
<g font-size="4.1" text-anchor="middle" fill="#0a0a0a"><text x="610.4" y="612.6" text-anchor="end">0.075</text><text x="610.4" y="623.8" text-anchor="end">0.050</text><text x="610.4" y="634.9" text-anchor="end">0.025</text><text x="610.4" y="646.1" text-anchor="end">0.000</text><text x="626.7" y="652.4">-0.6</text><text x="637.9" y="652.4">-0.2</text><text x="649.2" y="652.4">0.2</text><text x="660.5" y="652.4">0.6</text></g>
<rect x="612.8" y="606.9" width="62.7" height="39.5" fill="none" stroke="#555" stroke-width="0.55"/>
</g>
<g>
<path d="M638.5,686.8V676.3M637.1,676.3h2.8M638.5,694.4V696.6M637.1,696.6h2.8M649.8,683.9V671.2M648.4,671.2h2.8M649.8,694.9V696.6M648.4,696.6h2.8M661.1,682.4V664.2M659.7,664.2h2.8M661.1,694.9V696.6M659.7,696.6h2.8" stroke="#444" stroke-width="0.5" fill="none"/>
<g stroke="#333" stroke-width="0.45"><rect x="624.6" y="694.4" width="5.3" height="2.2" fill="#ff0000"/><rect x="635.8" y="686.8" width="5.3" height="7.7" fill="#00c5cd"/><path d="M635.8,690.1h5.3" stroke="#222" stroke-opacity="0.75" stroke-width="0.6"/><rect x="647.1" y="683.9" width="5.3" height="10.9" fill="#ffa500"/><path d="M647.1,693.4h5.3" stroke="#222" stroke-opacity="0.75" stroke-width="0.6"/><rect x="658.4" y="682.4" width="5.3" height="12.5" fill="#9acd32"/><path d="M658.4,690.5h5.3" stroke="#222" stroke-opacity="0.75" stroke-width="0.6"/></g>
<path d="M627.3,661.2V660.5H661.1V661.2M627.3,663.8V663.1H638.5V663.8" stroke="#555" stroke-width="0.45" fill="none"/>
<g font-size="3.5" text-anchor="middle" fill="#1a1a1a"><text x="644.2" y="661.4">*</text><text x="632.9" y="664">*</text></g>
<path d="M611.6,671.2H612.8M611.6,683.9H612.8M611.6,696.6H612.8M627.3,698.2v1.2M638.5,698.2v1.2M649.8,698.2v1.2M661.1,698.2v1.2" stroke="#555" stroke-width="0.4" fill="none"/>
<g font-size="4.1" text-anchor="middle" fill="#0a0a0a"><text x="610.4" y="672.7" text-anchor="end">2</text><text x="610.4" y="685.4" text-anchor="end">1</text><text x="610.4" y="698.1" text-anchor="end">0</text><text x="626.7" y="704.2">-0.6</text><text x="637.9" y="704.2">-0.2</text><text x="649.2" y="704.2">0.2</text><text x="660.5" y="704.2">0.6</text></g>
<rect x="612.8" y="658.8" width="62.7" height="39.5" fill="none" stroke="#555" stroke-width="0.55"/>
</g>
<g>
<path d="M627.3,735.4V728.4M625.9,728.4h2.8M638.5,747V746.3M637.1,746.3h2.8M649.8,733.6V712.8M648.4,712.8h2.8M661.1,740.2V730.4M659.7,730.4h2.8" stroke="#444" stroke-width="0.5" fill="none"/>
<g stroke="#333" stroke-width="0.45"><rect x="624.6" y="735.4" width="5.3" height="13.1" fill="#ff0000"/><path d="M624.6,744.6h5.3" stroke="#222" stroke-opacity="0.75" stroke-width="0.6"/><rect x="635.8" y="747" width="5.3" height="1.8" fill="#00c5cd"/><rect x="647.1" y="733.6" width="5.3" height="14.9" fill="#ffa500"/><path d="M647.1,744.6h5.3" stroke="#222" stroke-opacity="0.75" stroke-width="0.6"/><rect x="658.4" y="740.2" width="5.3" height="8.3" fill="#9acd32"/><path d="M658.4,746.3h5.3" stroke="#222" stroke-opacity="0.75" stroke-width="0.6"/></g>
<path d="M611.6,713.3H612.8M611.6,725.1H612.8M611.6,736.7H612.8M611.6,748.5H612.8M627.3,750.1v1.2M638.5,750.1v1.2M649.8,750.1v1.2M661.1,750.1v1.2" stroke="#555" stroke-width="0.4" fill="none"/>
<g font-size="4.1" text-anchor="middle" fill="#0a0a0a"><text x="610.4" y="714.7" text-anchor="end">0.75</text><text x="610.4" y="726.6" text-anchor="end">0.50</text><text x="610.4" y="738.2" text-anchor="end">0.25</text><text x="610.4" y="750" text-anchor="end">0.00</text><text x="626.7" y="756.1">-0.6</text><text x="637.9" y="756.1">-0.2</text><text x="649.2" y="756.1">0.2</text><text x="660.5" y="756.1">0.6</text></g>
<rect x="612.8" y="710.6" width="62.7" height="39.5" fill="none" stroke="#555" stroke-width="0.55"/>
</g>
<g>
<path d="M627.3,776.8V773.3M625.9,773.3h2.8M627.3,783.6V790.1M625.9,790.1h2.8M638.5,778.5V770M637.1,770h2.8M638.5,787.5V798.9M637.1,798.9h2.8M649.8,778.1V765.2M648.4,765.2h2.8M649.8,787.9V795.6M648.4,795.6h2.8M661.1,776.8V765.2M659.7,765.2h2.8M661.1,787.5V800.6M659.7,800.6h2.8" stroke="#444" stroke-width="0.5" fill="none"/>
<g stroke="#333" stroke-width="0.45"><rect x="624.6" y="776.8" width="5.3" height="6.8" fill="#ff0000"/><path d="M624.6,779.8h5.3" stroke="#222" stroke-opacity="0.75" stroke-width="0.6"/><rect x="635.8" y="778.5" width="5.3" height="9" fill="#00c5cd"/><path d="M635.8,782.9h5.3" stroke="#222" stroke-opacity="0.75" stroke-width="0.6"/><rect x="647.1" y="778.1" width="5.3" height="9.9" fill="#ffa500"/><path d="M647.1,782.5h5.3" stroke="#222" stroke-opacity="0.75" stroke-width="0.6"/><rect x="658.4" y="776.8" width="5.3" height="10.7" fill="#9acd32"/><path d="M658.4,781.8h5.3" stroke="#222" stroke-opacity="0.75" stroke-width="0.6"/></g>
<path d="M611.6,764.5H612.8M611.6,780.9H612.8M611.6,797.4H612.8M627.3,802v1.2M638.5,802v1.2M649.8,802v1.2M661.1,802v1.2" stroke="#555" stroke-width="0.4" fill="none"/>
<g font-size="4.1" text-anchor="middle" fill="#0a0a0a"><text x="610.4" y="766" text-anchor="end">0.6</text><text x="610.4" y="782.4" text-anchor="end">0.5</text><text x="610.4" y="798.8" text-anchor="end">0.4</text><text x="626.7" y="808">-0.6</text><text x="637.9" y="808">-0.2</text><text x="649.2" y="808">0.2</text><text x="660.5" y="808">0.6</text></g>
<rect x="612.8" y="762.5" width="62.7" height="39.5" fill="none" stroke="#555" stroke-width="0.55"/>
</g>
<g>
<path d="M627.3,847.9V844.2M625.9,844.2h2.8M627.3,851.4V852.3M625.9,852.3h2.8" stroke="#444" stroke-width="0.5" fill="none"/>
<g stroke="#333" stroke-width="0.45"><rect x="624.6" y="847.9" width="5.3" height="3.5" fill="#ff0000"/><path d="M624.6,850.1h5.3" stroke="#222" stroke-opacity="0.75" stroke-width="0.6"/><path d="M635.8,852.1h5.3" stroke="#4a4a4a" stroke-width="0.9"/><path d="M647.1,852h5.3" stroke="#3a3a3a" stroke-width="1.5"/><path d="M658.4,852h5.3" stroke="#3a3a3a" stroke-width="1.5"/></g>
<path d="M627.3,819.7V817.5H661.1V819.7M627.3,831.7V829.5H649.8V831.7M627.3,843.8V841.6H638.5V843.8" stroke="#555" stroke-width="0.45" fill="none"/>
<g font-size="3.5" text-anchor="middle" fill="#1a1a1a"><text x="644.2" y="820.4">***</text><text x="638.5" y="832.4">***</text><text x="632.9" y="844.5">***</text></g>
<path d="M611.6,815.3H612.8M611.6,827.6H612.8M611.6,839.8H612.8M611.6,852.1H612.8M627.3,853.9v1.2M638.5,853.9v1.2M649.8,853.9v1.2M661.1,853.9v1.2" stroke="#555" stroke-width="0.4" fill="none"/>
<g font-size="4.1" text-anchor="middle" fill="#0a0a0a"><text x="610.4" y="816.8" text-anchor="end">0.6</text><text x="610.4" y="829" text-anchor="end">0.4</text><text x="610.4" y="841.3" text-anchor="end">0.2</text><text x="610.4" y="853.6" text-anchor="end">0.0</text><text x="626.7" y="859.9">-0.6</text><text x="637.9" y="859.9">-0.2</text><text x="649.2" y="859.9">0.2</text><text x="660.5" y="859.9">0.6</text></g>
<rect x="612.8" y="814.4" width="62.7" height="39.5" fill="none" stroke="#555" stroke-width="0.55"/>
</g>
<g>
<path d="M627.3,880.6V877.3M625.9,877.3h2.8M627.3,887.1V893.5M625.9,893.5h2.8M638.5,882.1V873.3M637.1,873.3h2.8M638.5,891.5V902.5M637.1,902.5h2.8M649.8,882.1V869.4M648.4,869.4h2.8M649.8,892V899.6M648.4,899.6h2.8M661.1,880.3V868.3M659.7,868.3h2.8M661.1,891.5V904M659.7,904h2.8" stroke="#444" stroke-width="0.5" fill="none"/>
<g stroke="#333" stroke-width="0.45"><rect x="624.6" y="880.6" width="5.3" height="6.6" fill="#ff0000"/><path d="M624.6,883.6h5.3" stroke="#222" stroke-opacity="0.75" stroke-width="0.6"/><rect x="635.8" y="882.1" width="5.3" height="9.4" fill="#00c5cd"/><path d="M635.8,886.5h5.3" stroke="#222" stroke-opacity="0.75" stroke-width="0.6"/><rect x="647.1" y="882.1" width="5.3" height="9.9" fill="#ffa500"/><path d="M647.1,886h5.3" stroke="#222" stroke-opacity="0.75" stroke-width="0.6"/><rect x="658.4" y="880.3" width="5.3" height="11.2" fill="#9acd32"/><path d="M658.4,885.8h5.3" stroke="#222" stroke-opacity="0.75" stroke-width="0.6"/></g>
<path d="M611.6,868.3H612.8M611.6,884.3H612.8M611.6,900.7H612.8M627.3,905.7v1.2M638.5,905.7v1.2M649.8,905.7v1.2M661.1,905.7v1.2" stroke="#555" stroke-width="0.4" fill="none"/>
<g font-size="4.1" text-anchor="middle" fill="#0a0a0a"><text x="610.4" y="869.8" text-anchor="end">0.6</text><text x="610.4" y="885.7" text-anchor="end">0.5</text><text x="610.4" y="902.2" text-anchor="end">0.4</text><text x="626.7" y="911.7">-0.6</text><text x="637.9" y="911.7">-0.2</text><text x="649.2" y="911.7">0.2</text><text x="660.5" y="911.7">0.6</text></g>
<rect x="612.8" y="866.2" width="62.7" height="39.5" fill="none" stroke="#555" stroke-width="0.55"/>
</g>
<g>
<g fill="#00c5cd"><polyline points="615.7,920.4 621.9,954.7 628.2,954.7 634.5,954.7 640.8,954.7 647,954.7 653.3,954.7 659.6,954.7 665.8,954.7 672.1,954.7" fill="none" stroke="#00c5cd" stroke-width="0.7"/>
<circle cx="615.7" cy="920.4" r="1.15"/><circle cx="621.9" cy="954.7" r="1.15"/><circle cx="628.2" cy="954.7" r="1.15"/><circle cx="634.5" cy="954.7" r="1.15"/><circle cx="640.8" cy="954.7" r="1.15"/><circle cx="647" cy="954.7" r="1.15"/><circle cx="653.3" cy="954.7" r="1.15"/><circle cx="659.6" cy="954.7" r="1.15"/><circle cx="665.8" cy="954.7" r="1.15"/><circle cx="672.1" cy="954.7" r="1.15"/></g>
<g fill="#ffa500"><polyline points="615.7,920.4 621.9,953.1 628.2,953.1 634.5,953.1 640.8,953.1 647,953.1 653.3,953.1 659.6,953.1 665.8,953.1 672.1,953.1" fill="none" stroke="#ffa500" stroke-width="0.7"/>
<circle cx="615.7" cy="920.4" r="1.15"/><circle cx="621.9" cy="953.1" r="1.15"/><circle cx="628.2" cy="953.1" r="1.15"/><circle cx="634.5" cy="953.1" r="1.15"/><circle cx="640.8" cy="953.1" r="1.15"/><circle cx="647" cy="953.1" r="1.15"/><circle cx="653.3" cy="953.1" r="1.15"/><circle cx="659.6" cy="953.1" r="1.15"/><circle cx="665.8" cy="953.1" r="1.15"/><circle cx="672.1" cy="953.1" r="1.15"/></g>
<g fill="#ff0000"><polyline points="615.7,920.4 621.9,956 628.2,956 634.5,956 640.8,956 647,956 653.3,956 659.6,956 665.8,956 672.1,956" fill="none" stroke="#ff0000" stroke-width="0.7"/>
<circle cx="615.7" cy="920.4" r="1.15"/><circle cx="621.9" cy="956" r="1.15"/><circle cx="628.2" cy="956" r="1.15"/><circle cx="634.5" cy="956" r="1.15"/><circle cx="640.8" cy="956" r="1.15"/><circle cx="647" cy="956" r="1.15"/><circle cx="653.3" cy="956" r="1.15"/><circle cx="659.6" cy="956" r="1.15"/><circle cx="665.8" cy="956" r="1.15"/><circle cx="672.1" cy="956" r="1.15"/></g>
<g fill="#9acd32"><polyline points="615.7,920.4 621.9,951.7 628.2,951.7 634.5,951.7 640.8,951.7 647,951.7 653.3,951.7 659.6,951.7 665.8,951.7 672.1,951.7" fill="none" stroke="#9acd32" stroke-width="0.7"/>
<circle cx="615.7" cy="920.4" r="1.15"/><circle cx="621.9" cy="951.7" r="1.15"/><circle cx="628.2" cy="951.7" r="1.15"/><circle cx="634.5" cy="951.7" r="1.15"/><circle cx="640.8" cy="951.7" r="1.15"/><circle cx="647" cy="951.7" r="1.15"/><circle cx="653.3" cy="951.7" r="1.15"/><circle cx="659.6" cy="951.7" r="1.15"/><circle cx="665.8" cy="951.7" r="1.15"/><circle cx="672.1" cy="951.7" r="1.15"/></g>
<g font-size="4" fill="#111"><text x="615.2" y="928.2">P=0.334</text><text x="640.3" y="928.2">P=0.158</text><text x="665.5" y="928.2">P=0.133</text></g>
<path d="M611.6,920.4H612.8M611.6,938.2H612.8M611.6,956H612.8M615.7,957.6v1.2M628.2,957.6v1.2M640.8,957.6v1.2M653.3,957.6v1.2M665.8,957.6v1.2" stroke="#555" stroke-width="0.4" fill="none"/>
<g font-size="4.1" text-anchor="middle" fill="#0a0a0a"><text x="610.4" y="921.8" text-anchor="end">1.0</text><text x="610.4" y="939.7" text-anchor="end">0.5</text><text x="610.4" y="957.5" text-anchor="end">0.0</text><text x="615.7" y="963.6">0.0</text><text x="628.2" y="963.6">0.2</text><text x="640.8" y="963.6">0.4</text><text x="653.3" y="963.6">0.6</text><text x="665.8" y="963.6">0.8</text></g>
<rect x="612.8" y="918.1" width="62.7" height="39.5" fill="none" stroke="#555" stroke-width="0.55"/>
</g>
<path d="M365.8,1001.0 C368.8,1001.0 372.6,1001.5 375.1,1003.4 C377.6,1005.2 379.9,1009.2 380.9,1012.1 C382.0,1015.0 381.0,1018.9 381.5,1020.9 C382.0,1022.8 383.8,1022.3 383.9,1023.8 C384.0,1025.3 382.9,1028.2 382.1,1029.6 C381.3,1031.1 380.4,1031.2 379.2,1032.6 C378.0,1033.9 375.9,1036.1 375.1,1037.8 C374.3,1039.5 372.6,1040.8 374.5,1042.8 C376.5,1044.7 382.6,1047.4 386.8,1049.5 C391.0,1051.6 396.8,1053.0 399.9,1055.3 C403.1,1057.6 404.5,1059.7 405.8,1063.2 C407.1,1066.7 407.0,1070.8 407.8,1076.4 C408.6,1081.9 409.4,1090.0 410.7,1096.8 C412.1,1103.6 414.1,1110.2 416.0,1117.2 C417.8,1124.3 419.9,1133.8 421.8,1139.1 C423.8,1144.5 425.6,1146.7 427.7,1149.3 C429.8,1152.0 433.6,1153.7 434.4,1155.2 C435.1,1156.6 433.4,1157.6 432.0,1158.1 C430.7,1158.6 426.5,1156.9 426.2,1158.1 C425.9,1159.3 429.8,1163.7 430.0,1165.4 C430.2,1167.1 428.8,1168.1 427.7,1168.3 C426.5,1168.6 424.5,1166.1 423.3,1166.9 C422.1,1167.6 421.6,1172.0 420.4,1172.7 C419.1,1173.4 417.2,1172.7 416.0,1171.2 C414.8,1169.8 413.9,1167.1 413.1,1163.9 C412.2,1160.8 412.1,1157.1 410.7,1152.3 C409.4,1147.4 407.2,1141.3 404.9,1134.7 C402.6,1128.2 399.4,1119.9 397.0,1112.8 C394.6,1105.8 391.1,1092.7 390.3,1092.4 C389.5,1092.2 391.4,1104.8 392.0,1111.4 C392.7,1118.0 393.6,1125.5 394.1,1131.8 C394.6,1138.2 395.0,1142.5 395.0,1149.3 C395.0,1156.2 394.7,1163.9 394.1,1172.7 C393.5,1181.5 392.0,1193.6 391.2,1201.9 C390.3,1210.2 389.4,1215.5 389.1,1222.3 C388.9,1229.1 390.3,1236.0 389.7,1242.8 C389.1,1249.6 386.2,1257.9 385.3,1263.2 C384.5,1268.6 383.7,1271.7 384.5,1274.9 C385.2,1278.1 388.1,1280.2 389.7,1282.2 C391.3,1284.1 394.3,1284.6 394.1,1286.6 C393.8,1288.5 390.4,1292.5 388.2,1293.9 C386.1,1295.2 383.4,1296.0 380.9,1294.7 C378.5,1293.5 375.4,1289.4 373.6,1286.6 C371.9,1283.7 371.1,1281.7 370.7,1277.8 C370.4,1273.9 371.8,1269.1 371.6,1263.2 C371.4,1257.4 369.4,1249.6 369.3,1242.8 C369.1,1236.0 370.7,1228.2 370.7,1222.3 C370.7,1216.5 369.8,1214.1 369.3,1207.7 C368.8,1201.4 368.2,1192.2 367.8,1184.4 C367.4,1176.6 367.3,1165.9 366.9,1161.0 C366.5,1156.2 366.0,1155.2 365.5,1155.2 C365.0,1155.2 364.3,1157.1 364.0,1161.0 C363.8,1164.9 364.2,1171.7 364.0,1178.5 C363.8,1185.4 363.3,1194.6 362.8,1201.9 C362.4,1209.2 361.6,1215.5 361.1,1222.3 C360.6,1229.1 360.3,1236.0 359.9,1242.8 C359.6,1249.6 359.0,1257.4 359.1,1263.2 C359.1,1269.1 360.8,1273.9 360.5,1277.8 C360.3,1281.7 359.3,1283.9 357.6,1286.6 C355.9,1289.2 352.7,1292.7 350.3,1293.9 C347.9,1295.1 345.1,1294.8 343.0,1293.9 C340.9,1292.9 338.2,1289.7 337.7,1288.0 C337.3,1286.3 338.2,1285.8 340.1,1283.6 C341.9,1281.5 347.8,1278.3 348.8,1274.9 C349.9,1271.5 347.7,1268.6 346.5,1263.2 C345.3,1257.9 342.2,1249.6 341.5,1242.8 C340.9,1236.0 342.5,1229.1 342.4,1222.3 C342.3,1215.5 341.7,1210.2 340.9,1201.9 C340.2,1193.6 338.5,1181.5 337.7,1172.7 C337.0,1163.9 336.6,1156.2 336.6,1149.3 C336.6,1142.5 337.3,1138.2 337.7,1131.8 C338.2,1125.5 339.0,1118.0 339.5,1111.4 C340.0,1104.8 341.7,1092.2 340.9,1092.4 C340.2,1092.7 337.2,1105.8 334.8,1112.8 C332.5,1119.9 329.2,1128.7 326.9,1134.7 C324.6,1140.8 322.6,1145.0 321.1,1149.3 C319.6,1153.7 319.4,1157.7 318.2,1161.0 C317.0,1164.3 315.3,1167.7 313.8,1169.2 C312.3,1170.7 310.6,1170.4 309.4,1169.8 C308.2,1169.1 307.7,1165.6 306.5,1165.4 C305.3,1165.2 303.2,1168.3 302.1,1168.3 C301.0,1168.3 299.7,1167.3 300.1,1165.4 C300.5,1163.5 304.6,1158.0 304.5,1156.6 C304.3,1155.3 300.5,1157.9 299.2,1157.5 C297.9,1157.2 296.0,1156.2 296.9,1154.6 C297.7,1153.0 302.1,1150.7 304.5,1147.9 C306.8,1145.1 308.8,1142.8 310.9,1137.7 C312.9,1132.6 315.0,1124.0 316.7,1117.2 C318.4,1110.4 320.0,1103.6 321.1,1096.8 C322.2,1090.0 322.6,1082.2 323.4,1076.4 C324.3,1070.5 324.5,1065.4 326.1,1061.8 C327.6,1058.1 329.6,1056.6 332.8,1054.5 C336.0,1052.3 341.3,1050.9 345.3,1048.9 C349.4,1047.0 355.0,1044.8 357.0,1042.8 C359.1,1040.8 358.3,1038.6 357.6,1036.9 C356.9,1035.2 354.2,1033.8 352.9,1032.6 C351.7,1031.3 350.8,1031.1 350.0,1029.6 C349.2,1028.2 348.2,1025.3 348.2,1023.8 C348.3,1022.3 349.9,1022.8 350.3,1020.9 C350.7,1018.9 349.8,1015.0 350.9,1012.1 C351.9,1009.2 354.2,1005.2 356.7,1003.4 C359.2,1001.5 362.7,1001.0 365.8,1001.0 Z" fill="#e6bf62"/>
<path d="M485.5,1135V1304" stroke="#f1f1f1" stroke-width="0.9" fill="none"/>
<path d="M114.1,1090.0 L114.5,1092.2 L115.5,1094.5 L117.2,1096.7 L119.6,1099.0 L122.5,1101.2 L125.9,1103.4 L129.7,1105.7 L133.9,1107.9 L138.2,1110.2 L142.7,1112.4 L147.2,1114.6 L151.5,1116.9 L155.7,1119.1 L159.5,1121.4 L162.9,1123.6 L165.8,1125.8 L168.2,1128.1 L169.9,1130.3 L170.9,1132.6 L171.3,1134.8" fill="none" stroke="#2a2012" stroke-width="9.799999999999999"/><path d="M114.1,1090.0 L114.5,1092.2 L115.5,1094.5 L117.2,1096.7 L119.6,1099.0 L122.5,1101.2 L125.9,1103.4 L129.7,1105.7 L133.9,1107.9 L138.2,1110.2 L142.7,1112.4 L147.2,1114.6 L151.5,1116.9 L155.7,1119.1 L159.5,1121.4 L162.9,1123.6 L165.8,1125.8 L168.2,1128.1 L169.9,1130.3 L170.9,1132.6 L171.3,1134.8" fill="none" stroke="#c49d4c" stroke-width="8.2"/>
<path d="M114.1,1179.6 L114.5,1181.8 L115.5,1184.1 L117.2,1186.3 L119.6,1188.6 L122.5,1190.8 L125.9,1193.0 L129.7,1195.3 L133.9,1197.5 L138.2,1199.8 L142.7,1202.0 L147.2,1204.2 L151.5,1206.5 L155.7,1208.7 L159.5,1211.0 L162.9,1213.2 L165.8,1215.4 L168.2,1217.7 L169.9,1219.9 L170.9,1222.2 L171.3,1224.4" fill="none" stroke="#2a2012" stroke-width="9.799999999999999"/><path d="M114.1,1179.6 L114.5,1181.8 L115.5,1184.1 L117.2,1186.3 L119.6,1188.6 L122.5,1190.8 L125.9,1193.0 L129.7,1195.3 L133.9,1197.5 L138.2,1199.8 L142.7,1202.0 L147.2,1204.2 L151.5,1206.5 L155.7,1208.7 L159.5,1211.0 L162.9,1213.2 L165.8,1215.4 L168.2,1217.7 L169.9,1219.9 L170.9,1222.2 L171.3,1224.4" fill="none" stroke="#c49d4c" stroke-width="8.2"/>
<path d="M150.7,1074.5 L153.0,1075.1 L155.3,1075.7 L157.5,1076.4 L159.6,1077.2 L161.6,1078.1 L163.4,1079.1 L165.1,1080.1 L166.7,1081.1 L168.0,1082.3 L169.1,1083.5 L170.1,1084.8 L170.7,1086.1 L171.2,1087.5 L171.3,1089.0" fill="none" stroke="#2a2012" stroke-width="9.799999999999999"/><path d="M150.7,1074.5 L153.0,1075.1 L155.3,1075.7 L157.5,1076.4 L159.6,1077.2 L161.6,1078.1 L163.4,1079.1 L165.1,1080.1 L166.7,1081.1 L168.0,1082.3 L169.1,1083.5 L170.1,1084.8 L170.7,1086.1 L171.2,1087.5 L171.3,1089.0" fill="none" stroke="#c49d4c" stroke-width="8.2"/>
<path d="M114.1,1133.8 L114.5,1136.0 L115.5,1138.3 L117.2,1140.5 L119.6,1142.8 L122.5,1145.0 L125.9,1147.2 L129.7,1149.5 L133.9,1151.7 L138.2,1154.0 L142.7,1156.2 L147.2,1158.4 L151.5,1160.7 L155.7,1162.9 L159.5,1165.2 L162.9,1167.4 L165.8,1169.6 L168.2,1171.9 L169.9,1174.1 L170.9,1176.4 L171.3,1178.6" fill="none" stroke="#2a2012" stroke-width="9.799999999999999"/><path d="M114.1,1133.8 L114.5,1136.0 L115.5,1138.3 L117.2,1140.5 L119.6,1142.8 L122.5,1145.0 L125.9,1147.2 L129.7,1149.5 L133.9,1151.7 L138.2,1154.0 L142.7,1156.2 L147.2,1158.4 L151.5,1160.7 L155.7,1162.9 L159.5,1165.2 L162.9,1167.4 L165.8,1169.6 L168.2,1171.9 L169.9,1174.1 L170.9,1176.4 L171.3,1178.6" fill="none" stroke="#c49d4c" stroke-width="8.2"/>
<path d="M114.1,1223.4 L114.2,1225.1 L114.4,1226.8 L114.7,1228.5 L115.1,1230.1 L115.7,1231.6 L116.3,1233.2 L117.0,1234.6 L117.8,1236.0 L118.7,1237.3 L119.6,1238.6 L120.6,1239.7 L121.6,1240.8 L122.6,1241.7 L123.7,1242.5" fill="none" stroke="#2a2012" stroke-width="9.799999999999999"/><path d="M114.1,1223.4 L114.2,1225.1 L114.4,1226.8 L114.7,1228.5 L115.1,1230.1 L115.7,1231.6 L116.3,1233.2 L117.0,1234.6 L117.8,1236.0 L118.7,1237.3 L119.6,1238.6 L120.6,1239.7 L121.6,1240.8 L122.6,1241.7 L123.7,1242.5" fill="none" stroke="#c49d4c" stroke-width="8.2"/>
<rect x="125.0" y="1081.1" width="19.3" height="3.2" fill="#c77be8" stroke="#2a2012" stroke-width="0.5"/>
<rect x="144.3" y="1081.1" width="20.0" height="3.2" fill="#6fe39a" stroke="#2a2012" stroke-width="0.5"/>
<rect x="114.5" y="1092.1" width="27.7" height="3.2" fill="#6f78e6" stroke="#2a2012" stroke-width="0.5"/>
<rect x="142.2" y="1092.1" width="23.8" height="3.2" fill="#e86f9a" stroke="#2a2012" stroke-width="0.5"/>
<rect x="119.9" y="1101.9" width="19.1" height="3.2" fill="#6fe39a" stroke="#2a2012" stroke-width="0.5"/>
<rect x="139.0" y="1101.9" width="14.0" height="3.2" fill="#c77be8" stroke="#2a2012" stroke-width="0.5"/>
<rect x="139.0" y="1116.7" width="3.0" height="3.2" fill="#6f78e6" stroke="#2a2012" stroke-width="0.5"/>
<rect x="142.0" y="1116.7" width="10.0" height="3.2" fill="#6f78e6" stroke="#2a2012" stroke-width="0.5"/>
<rect x="125.0" y="1125.9" width="19.3" height="3.2" fill="#c77be8" stroke="#2a2012" stroke-width="0.5"/>
<rect x="144.3" y="1125.9" width="20.0" height="3.2" fill="#6fe39a" stroke="#2a2012" stroke-width="0.5"/>
<rect x="114.5" y="1136.9" width="27.7" height="3.2" fill="#6f78e6" stroke="#2a2012" stroke-width="0.5"/>
<rect x="142.2" y="1136.9" width="23.8" height="3.2" fill="#e86f9a" stroke="#2a2012" stroke-width="0.5"/>
<rect x="119.9" y="1146.7" width="19.1" height="3.2" fill="#6fe39a" stroke="#2a2012" stroke-width="0.5"/>
<rect x="139.0" y="1146.7" width="14.0" height="3.2" fill="#c77be8" stroke="#2a2012" stroke-width="0.5"/>
<rect x="139.0" y="1161.5" width="3.0" height="3.2" fill="#6f78e6" stroke="#2a2012" stroke-width="0.5"/>
<rect x="142.0" y="1161.5" width="10.0" height="3.2" fill="#6f78e6" stroke="#2a2012" stroke-width="0.5"/>
<rect x="125.0" y="1170.7" width="19.3" height="3.2" fill="#c77be8" stroke="#2a2012" stroke-width="0.5"/>
<rect x="144.3" y="1170.7" width="20.0" height="3.2" fill="#6fe39a" stroke="#2a2012" stroke-width="0.5"/>
<rect x="114.5" y="1181.7" width="27.7" height="3.2" fill="#6f78e6" stroke="#2a2012" stroke-width="0.5"/>
<rect x="142.2" y="1181.7" width="23.8" height="3.2" fill="#e86f9a" stroke="#2a2012" stroke-width="0.5"/>
<rect x="119.9" y="1191.5" width="19.1" height="3.2" fill="#6fe39a" stroke="#2a2012" stroke-width="0.5"/>
<rect x="139.0" y="1191.5" width="14.0" height="3.2" fill="#c77be8" stroke="#2a2012" stroke-width="0.5"/>
<rect x="139.0" y="1206.3" width="3.0" height="3.2" fill="#6f78e6" stroke="#2a2012" stroke-width="0.5"/>
<rect x="142.0" y="1206.3" width="10.0" height="3.2" fill="#6f78e6" stroke="#2a2012" stroke-width="0.5"/>
<rect x="125.0" y="1215.5" width="19.3" height="3.2" fill="#c77be8" stroke="#2a2012" stroke-width="0.5"/>
<rect x="144.3" y="1215.5" width="20.0" height="3.2" fill="#6fe39a" stroke="#2a2012" stroke-width="0.5"/>
<rect x="114.5" y="1226.5" width="27.7" height="3.2" fill="#6f78e6" stroke="#2a2012" stroke-width="0.5"/>
<rect x="142.2" y="1226.5" width="23.8" height="3.2" fill="#e86f9a" stroke="#2a2012" stroke-width="0.5"/>
<path d="M134.7,1068.5 L132.2,1069.3 L129.8,1070.3 L127.5,1071.3 L125.4,1072.5 L123.4,1073.9 L121.6,1075.3 L119.9,1076.8 L118.4,1078.4 L117.2,1080.2 L116.1,1082.0 L115.2,1083.9 L114.6,1085.8 L114.2,1087.9 L114.1,1090.0" fill="none" stroke="#2a2012" stroke-width="10.2"/><path d="M134.7,1068.5 L132.2,1069.3 L129.8,1070.3 L127.5,1071.3 L125.4,1072.5 L123.4,1073.9 L121.6,1075.3 L119.9,1076.8 L118.4,1078.4 L117.2,1080.2 L116.1,1082.0 L115.2,1083.9 L114.6,1085.8 L114.2,1087.9 L114.1,1090.0" fill="none" stroke="#f7d27c" stroke-width="8.6"/>
<path d="M171.3,1089.0 L170.9,1091.2 L169.9,1093.5 L168.2,1095.7 L165.8,1098.0 L162.9,1100.2 L159.5,1102.4 L155.7,1104.7 L151.5,1106.9 L147.2,1109.2 L142.7,1111.4 L138.2,1113.6 L133.9,1115.9 L129.7,1118.1 L125.9,1120.4 L122.5,1122.6 L119.6,1124.8 L117.2,1127.1 L115.5,1129.3 L114.5,1131.6 L114.1,1133.8" fill="none" stroke="#2a2012" stroke-width="10.2"/><path d="M171.3,1089.0 L170.9,1091.2 L169.9,1093.5 L168.2,1095.7 L165.8,1098.0 L162.9,1100.2 L159.5,1102.4 L155.7,1104.7 L151.5,1106.9 L147.2,1109.2 L142.7,1111.4 L138.2,1113.6 L133.9,1115.9 L129.7,1118.1 L125.9,1120.4 L122.5,1122.6 L119.6,1124.8 L117.2,1127.1 L115.5,1129.3 L114.5,1131.6 L114.1,1133.8" fill="none" stroke="#f7d27c" stroke-width="8.6"/>
<path d="M171.3,1134.8 L170.9,1137.0 L169.9,1139.3 L168.2,1141.5 L165.8,1143.8 L162.9,1146.0 L159.5,1148.2 L155.7,1150.5 L151.5,1152.7 L147.2,1155.0 L142.7,1157.2 L138.2,1159.4 L133.9,1161.7 L129.7,1163.9 L125.9,1166.2 L122.5,1168.4 L119.6,1170.6 L117.2,1172.9 L115.5,1175.1 L114.5,1177.4 L114.1,1179.6" fill="none" stroke="#2a2012" stroke-width="10.2"/><path d="M171.3,1134.8 L170.9,1137.0 L169.9,1139.3 L168.2,1141.5 L165.8,1143.8 L162.9,1146.0 L159.5,1148.2 L155.7,1150.5 L151.5,1152.7 L147.2,1155.0 L142.7,1157.2 L138.2,1159.4 L133.9,1161.7 L129.7,1163.9 L125.9,1166.2 L122.5,1168.4 L119.6,1170.6 L117.2,1172.9 L115.5,1175.1 L114.5,1177.4 L114.1,1179.6" fill="none" stroke="#f7d27c" stroke-width="8.6"/>
<path d="M171.3,1178.6 L170.9,1180.8 L169.9,1183.1 L168.2,1185.3 L165.8,1187.6 L162.9,1189.8 L159.5,1192.0 L155.7,1194.3 L151.5,1196.5 L147.2,1198.8 L142.7,1201.0 L138.2,1203.2 L133.9,1205.5 L129.7,1207.7 L125.9,1210.0 L122.5,1212.2 L119.6,1214.4 L117.2,1216.7 L115.5,1218.9 L114.5,1221.2 L114.1,1223.4" fill="none" stroke="#2a2012" stroke-width="10.2"/><path d="M171.3,1178.6 L170.9,1180.8 L169.9,1183.1 L168.2,1185.3 L165.8,1187.6 L162.9,1189.8 L159.5,1192.0 L155.7,1194.3 L151.5,1196.5 L147.2,1198.8 L142.7,1201.0 L138.2,1203.2 L133.9,1205.5 L129.7,1207.7 L125.9,1210.0 L122.5,1212.2 L119.6,1214.4 L117.2,1216.7 L115.5,1218.9 L114.5,1221.2 L114.1,1223.4" fill="none" stroke="#f7d27c" stroke-width="8.6"/>
<path d="M171.3,1224.4 L171.2,1226.1 L171.0,1227.7 L170.7,1229.2 L170.2,1230.7 L169.5,1232.1 L168.8,1233.5 L167.9,1234.8 L166.8,1236.1 L165.7,1237.3 L164.3,1238.5 L162.9,1239.7 L161.3,1240.8 L159.6,1241.9 L157.7,1243.0" fill="none" stroke="#2a2012" stroke-width="10.2"/><path d="M171.3,1224.4 L171.2,1226.1 L171.0,1227.7 L170.7,1229.2 L170.2,1230.7 L169.5,1232.1 L168.8,1233.5 L167.9,1234.8 L166.8,1236.1 L165.7,1237.3 L164.3,1238.5 L162.9,1239.7 L161.3,1240.8 L159.6,1241.9 L157.7,1243.0" fill="none" stroke="#f7d27c" stroke-width="8.6"/>
<polygon points="176.4,1105.7 188.4,1121.3 212.4,1121.3 200.4,1137.0 212.4,1152.7 188.4,1152.7 176.4,1168.3 164.4,1152.7 140.4,1152.7 152.4,1137.0 140.4,1121.3 164.4,1121.3" fill="#00b050"/>
<path d="M555.3,1091.5 L555.7,1093.7 L556.7,1096.0 L558.4,1098.2 L560.8,1100.5 L563.7,1102.7 L567.1,1104.9 L570.9,1107.2 L575.1,1109.4 L579.4,1111.7 L583.9,1113.9 L588.4,1116.1 L592.7,1118.4 L596.9,1120.6 L600.7,1122.9 L604.1,1125.1 L607.0,1127.3 L609.4,1129.6 L611.1,1131.8 L612.1,1134.1 L612.5,1136.3" fill="none" stroke="#2a2012" stroke-width="9.799999999999999"/><path d="M555.3,1091.5 L555.7,1093.7 L556.7,1096.0 L558.4,1098.2 L560.8,1100.5 L563.7,1102.7 L567.1,1104.9 L570.9,1107.2 L575.1,1109.4 L579.4,1111.7 L583.9,1113.9 L588.4,1116.1 L592.7,1118.4 L596.9,1120.6 L600.7,1122.9 L604.1,1125.1 L607.0,1127.3 L609.4,1129.6 L611.1,1131.8 L612.1,1134.1 L612.5,1136.3" fill="none" stroke="#c49d4c" stroke-width="8.2"/>
<path d="M555.3,1181.1 L555.7,1183.3 L556.7,1185.6 L558.4,1187.8 L560.8,1190.1 L563.7,1192.3 L567.1,1194.5 L570.9,1196.8 L575.1,1199.0 L579.4,1201.3 L583.9,1203.5 L588.4,1205.7 L592.7,1208.0 L596.9,1210.2 L600.7,1212.5 L604.1,1214.7 L607.0,1216.9 L609.4,1219.2 L611.1,1221.4 L612.1,1223.7 L612.5,1225.9" fill="none" stroke="#2a2012" stroke-width="9.799999999999999"/><path d="M555.3,1181.1 L555.7,1183.3 L556.7,1185.6 L558.4,1187.8 L560.8,1190.1 L563.7,1192.3 L567.1,1194.5 L570.9,1196.8 L575.1,1199.0 L579.4,1201.3 L583.9,1203.5 L588.4,1205.7 L592.7,1208.0 L596.9,1210.2 L600.7,1212.5 L604.1,1214.7 L607.0,1216.9 L609.4,1219.2 L611.1,1221.4 L612.1,1223.7 L612.5,1225.9" fill="none" stroke="#c49d4c" stroke-width="8.2"/>
<path d="M591.9,1076.0 L594.2,1076.6 L596.5,1077.2 L598.7,1077.9 L600.8,1078.7 L602.8,1079.6 L604.6,1080.6 L606.3,1081.6 L607.9,1082.6 L609.2,1083.8 L610.3,1085.0 L611.3,1086.3 L611.9,1087.6 L612.4,1089.0 L612.5,1090.5" fill="none" stroke="#2a2012" stroke-width="9.799999999999999"/><path d="M591.9,1076.0 L594.2,1076.6 L596.5,1077.2 L598.7,1077.9 L600.8,1078.7 L602.8,1079.6 L604.6,1080.6 L606.3,1081.6 L607.9,1082.6 L609.2,1083.8 L610.3,1085.0 L611.3,1086.3 L611.9,1087.6 L612.4,1089.0 L612.5,1090.5" fill="none" stroke="#c49d4c" stroke-width="8.2"/>
<path d="M555.3,1135.3 L555.7,1137.5 L556.7,1139.8 L558.4,1142.0 L560.8,1144.3 L563.7,1146.5 L567.1,1148.7 L570.9,1151.0 L575.1,1153.2 L579.4,1155.5 L583.9,1157.7 L588.4,1159.9 L592.7,1162.2 L596.9,1164.4 L600.7,1166.7 L604.1,1168.9 L607.0,1171.1 L609.4,1173.4 L611.1,1175.6 L612.1,1177.9 L612.5,1180.1" fill="none" stroke="#2a2012" stroke-width="9.799999999999999"/><path d="M555.3,1135.3 L555.7,1137.5 L556.7,1139.8 L558.4,1142.0 L560.8,1144.3 L563.7,1146.5 L567.1,1148.7 L570.9,1151.0 L575.1,1153.2 L579.4,1155.5 L583.9,1157.7 L588.4,1159.9 L592.7,1162.2 L596.9,1164.4 L600.7,1166.7 L604.1,1168.9 L607.0,1171.1 L609.4,1173.4 L611.1,1175.6 L612.1,1177.9 L612.5,1180.1" fill="none" stroke="#c49d4c" stroke-width="8.2"/>
<path d="M555.3,1224.9 L555.4,1226.6 L555.6,1228.3 L555.9,1230.0 L556.3,1231.6 L556.9,1233.1 L557.5,1234.7 L558.2,1236.1 L559.0,1237.5 L559.9,1238.8 L560.8,1240.1 L561.8,1241.2 L562.8,1242.3 L563.8,1243.2 L564.9,1244.0" fill="none" stroke="#2a2012" stroke-width="9.799999999999999"/><path d="M555.3,1224.9 L555.4,1226.6 L555.6,1228.3 L555.9,1230.0 L556.3,1231.6 L556.9,1233.1 L557.5,1234.7 L558.2,1236.1 L559.0,1237.5 L559.9,1238.8 L560.8,1240.1 L561.8,1241.2 L562.8,1242.3 L563.8,1243.2 L564.9,1244.0" fill="none" stroke="#c49d4c" stroke-width="8.2"/>
<rect x="566.2" y="1082.6" width="19.3" height="3.2" fill="#c77be8" stroke="#2a2012" stroke-width="0.5"/>
<rect x="585.5" y="1082.6" width="20.0" height="3.2" fill="#6fe39a" stroke="#2a2012" stroke-width="0.5"/>
<rect x="555.7" y="1093.6" width="27.7" height="3.2" fill="#6f78e6" stroke="#2a2012" stroke-width="0.5"/>
<rect x="583.4" y="1093.6" width="23.8" height="3.2" fill="#e86f9a" stroke="#2a2012" stroke-width="0.5"/>
<rect x="561.1" y="1103.4" width="19.1" height="3.2" fill="#6fe39a" stroke="#2a2012" stroke-width="0.5"/>
<rect x="580.2" y="1103.4" width="14.0" height="3.2" fill="#c77be8" stroke="#2a2012" stroke-width="0.5"/>
<rect x="580.2" y="1118.2" width="3.0" height="3.2" fill="#6f78e6" stroke="#2a2012" stroke-width="0.5"/>
<rect x="583.2" y="1118.2" width="10.0" height="3.2" fill="#6f78e6" stroke="#2a2012" stroke-width="0.5"/>
<rect x="566.2" y="1127.4" width="19.3" height="3.2" fill="#c77be8" stroke="#2a2012" stroke-width="0.5"/>
<rect x="585.5" y="1127.4" width="20.0" height="3.2" fill="#6fe39a" stroke="#2a2012" stroke-width="0.5"/>
<rect x="555.7" y="1138.4" width="27.7" height="3.2" fill="#6f78e6" stroke="#2a2012" stroke-width="0.5"/>
<rect x="583.4" y="1138.4" width="23.8" height="3.2" fill="#e86f9a" stroke="#2a2012" stroke-width="0.5"/>
<rect x="561.1" y="1148.2" width="19.1" height="3.2" fill="#6fe39a" stroke="#2a2012" stroke-width="0.5"/>
<rect x="580.2" y="1148.2" width="14.0" height="3.2" fill="#c77be8" stroke="#2a2012" stroke-width="0.5"/>
<rect x="580.2" y="1163.0" width="3.0" height="3.2" fill="#6f78e6" stroke="#2a2012" stroke-width="0.5"/>
<rect x="583.2" y="1163.0" width="10.0" height="3.2" fill="#6f78e6" stroke="#2a2012" stroke-width="0.5"/>
<rect x="566.2" y="1172.2" width="19.3" height="3.2" fill="#c77be8" stroke="#2a2012" stroke-width="0.5"/>
<rect x="585.5" y="1172.2" width="20.0" height="3.2" fill="#6fe39a" stroke="#2a2012" stroke-width="0.5"/>
<rect x="555.7" y="1183.2" width="27.7" height="3.2" fill="#6f78e6" stroke="#2a2012" stroke-width="0.5"/>
<rect x="583.4" y="1183.2" width="23.8" height="3.2" fill="#e86f9a" stroke="#2a2012" stroke-width="0.5"/>
<rect x="561.1" y="1193.0" width="19.1" height="3.2" fill="#6fe39a" stroke="#2a2012" stroke-width="0.5"/>
<rect x="580.2" y="1193.0" width="14.0" height="3.2" fill="#c77be8" stroke="#2a2012" stroke-width="0.5"/>
<rect x="580.2" y="1207.8" width="3.0" height="3.2" fill="#6f78e6" stroke="#2a2012" stroke-width="0.5"/>
<rect x="583.2" y="1207.8" width="10.0" height="3.2" fill="#6f78e6" stroke="#2a2012" stroke-width="0.5"/>
<rect x="566.2" y="1217.0" width="19.3" height="3.2" fill="#c77be8" stroke="#2a2012" stroke-width="0.5"/>
<rect x="585.5" y="1217.0" width="20.0" height="3.2" fill="#6fe39a" stroke="#2a2012" stroke-width="0.5"/>
<rect x="555.7" y="1228.0" width="27.7" height="3.2" fill="#6f78e6" stroke="#2a2012" stroke-width="0.5"/>
<rect x="583.4" y="1228.0" width="23.8" height="3.2" fill="#e86f9a" stroke="#2a2012" stroke-width="0.5"/>
<path d="M575.9,1070.0 L573.4,1070.8 L571.0,1071.8 L568.7,1072.8 L566.6,1074.0 L564.6,1075.4 L562.8,1076.8 L561.1,1078.3 L559.6,1079.9 L558.4,1081.7 L557.3,1083.5 L556.4,1085.4 L555.8,1087.3 L555.4,1089.4 L555.3,1091.5" fill="none" stroke="#2a2012" stroke-width="10.2"/><path d="M575.9,1070.0 L573.4,1070.8 L571.0,1071.8 L568.7,1072.8 L566.6,1074.0 L564.6,1075.4 L562.8,1076.8 L561.1,1078.3 L559.6,1079.9 L558.4,1081.7 L557.3,1083.5 L556.4,1085.4 L555.8,1087.3 L555.4,1089.4 L555.3,1091.5" fill="none" stroke="#f7d27c" stroke-width="8.6"/>
<path d="M612.5,1090.5 L612.1,1092.7 L611.1,1095.0 L609.4,1097.2 L607.0,1099.5 L604.1,1101.7 L600.7,1103.9 L596.9,1106.2 L592.7,1108.4 L588.4,1110.7 L583.9,1112.9 L579.4,1115.1 L575.1,1117.4 L570.9,1119.6 L567.1,1121.9 L563.7,1124.1 L560.8,1126.3 L558.4,1128.6 L556.7,1130.8 L555.7,1133.1 L555.3,1135.3" fill="none" stroke="#2a2012" stroke-width="10.2"/><path d="M612.5,1090.5 L612.1,1092.7 L611.1,1095.0 L609.4,1097.2 L607.0,1099.5 L604.1,1101.7 L600.7,1103.9 L596.9,1106.2 L592.7,1108.4 L588.4,1110.7 L583.9,1112.9 L579.4,1115.1 L575.1,1117.4 L570.9,1119.6 L567.1,1121.9 L563.7,1124.1 L560.8,1126.3 L558.4,1128.6 L556.7,1130.8 L555.7,1133.1 L555.3,1135.3" fill="none" stroke="#f7d27c" stroke-width="8.6"/>
<path d="M612.5,1136.3 L612.1,1138.5 L611.1,1140.8 L609.4,1143.0 L607.0,1145.3 L604.1,1147.5 L600.7,1149.7 L596.9,1152.0 L592.7,1154.2 L588.4,1156.5 L583.9,1158.7 L579.4,1160.9 L575.1,1163.2 L570.9,1165.4 L567.1,1167.7 L563.7,1169.9 L560.8,1172.1 L558.4,1174.4 L556.7,1176.6 L555.7,1178.9 L555.3,1181.1" fill="none" stroke="#2a2012" stroke-width="10.2"/><path d="M612.5,1136.3 L612.1,1138.5 L611.1,1140.8 L609.4,1143.0 L607.0,1145.3 L604.1,1147.5 L600.7,1149.7 L596.9,1152.0 L592.7,1154.2 L588.4,1156.5 L583.9,1158.7 L579.4,1160.9 L575.1,1163.2 L570.9,1165.4 L567.1,1167.7 L563.7,1169.9 L560.8,1172.1 L558.4,1174.4 L556.7,1176.6 L555.7,1178.9 L555.3,1181.1" fill="none" stroke="#f7d27c" stroke-width="8.6"/>
<path d="M612.5,1180.1 L612.1,1182.3 L611.1,1184.6 L609.4,1186.8 L607.0,1189.1 L604.1,1191.3 L600.7,1193.5 L596.9,1195.8 L592.7,1198.0 L588.4,1200.3 L583.9,1202.5 L579.4,1204.7 L575.1,1207.0 L570.9,1209.2 L567.1,1211.5 L563.7,1213.7 L560.8,1215.9 L558.4,1218.2 L556.7,1220.4 L555.7,1222.7 L555.3,1224.9" fill="none" stroke="#2a2012" stroke-width="10.2"/><path d="M612.5,1180.1 L612.1,1182.3 L611.1,1184.6 L609.4,1186.8 L607.0,1189.1 L604.1,1191.3 L600.7,1193.5 L596.9,1195.8 L592.7,1198.0 L588.4,1200.3 L583.9,1202.5 L579.4,1204.7 L575.1,1207.0 L570.9,1209.2 L567.1,1211.5 L563.7,1213.7 L560.8,1215.9 L558.4,1218.2 L556.7,1220.4 L555.7,1222.7 L555.3,1224.9" fill="none" stroke="#f7d27c" stroke-width="8.6"/>
<path d="M612.5,1225.9 L612.4,1227.6 L612.2,1229.2 L611.9,1230.7 L611.4,1232.2 L610.7,1233.6 L610.0,1235.0 L609.1,1236.3 L608.0,1237.6 L606.9,1238.8 L605.5,1240.0 L604.1,1241.2 L602.5,1242.3 L600.8,1243.4 L598.9,1244.5" fill="none" stroke="#2a2012" stroke-width="10.2"/><path d="M612.5,1225.9 L612.4,1227.6 L612.2,1229.2 L611.9,1230.7 L611.4,1232.2 L610.7,1233.6 L610.0,1235.0 L609.1,1236.3 L608.0,1237.6 L606.9,1238.8 L605.5,1240.0 L604.1,1241.2 L602.5,1242.3 L600.8,1243.4 L598.9,1244.5" fill="none" stroke="#f7d27c" stroke-width="8.6"/>
<polygon points="558.9,1121.7 569.8,1136.9 591.7,1136.9 580.8,1152.1 591.7,1167.3 569.8,1167.3 558.9,1182.5 548.0,1167.3 526.1,1167.3 537.0,1152.1 526.1,1136.9 548.0,1136.9" fill="#ff0000"/>
<text x="158.4" y="1359.0" font-size="32.3" text-anchor="start">Benign</text>
<text x="421.5" y="1362.6" font-size="32.3" text-anchor="start">Deleterious</text>
</svg>
</body></html>
